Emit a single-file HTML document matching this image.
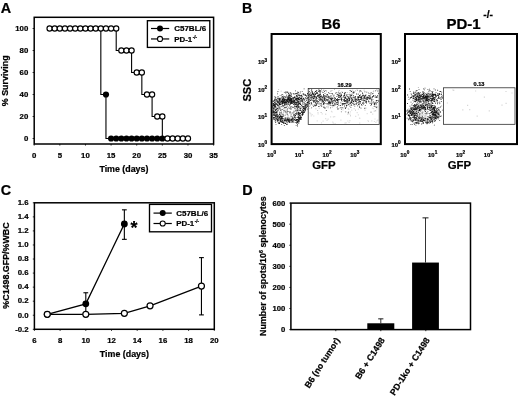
<!DOCTYPE html>
<html><head><meta charset="utf-8"><title>Figure</title>
<style>
html,body{margin:0;padding:0;background:#fff;}
body{width:520px;height:397px;overflow:hidden;font-family:"Liberation Sans",sans-serif;}
svg{display:block;filter:blur(0.3px);}
svg text{font-family:"Liberation Sans",sans-serif;font-weight:bold;fill:#000;stroke:#000;stroke-width:0.22px;}
</style></head><body>
<svg width="520" height="397" viewBox="0 0 520 397">
<rect width="520" height="397" fill="#fff"/>
<text x="0.80" y="12.80" font-size="14.4" text-anchor="start" >A</text>
<rect x="34.2" y="17.3" width="179.39999999999998" height="126.7" fill="none" stroke="#000" stroke-width="1.5"/>
<line x1="32.6" y1="138.50" x2="34.2" y2="138.50" stroke="#000" stroke-width="0.8"/>
<text x="28.30" y="141.00" font-size="7.8" text-anchor="end" >0</text>
<line x1="32.6" y1="116.50" x2="34.2" y2="116.50" stroke="#000" stroke-width="0.8"/>
<text x="28.30" y="119.00" font-size="7.8" text-anchor="end" >20</text>
<line x1="32.6" y1="94.50" x2="34.2" y2="94.50" stroke="#000" stroke-width="0.8"/>
<text x="28.30" y="97.00" font-size="7.8" text-anchor="end" >40</text>
<line x1="32.6" y1="72.50" x2="34.2" y2="72.50" stroke="#000" stroke-width="0.8"/>
<text x="28.30" y="75.00" font-size="7.8" text-anchor="end" >60</text>
<line x1="32.6" y1="50.50" x2="34.2" y2="50.50" stroke="#000" stroke-width="0.8"/>
<text x="28.30" y="53.00" font-size="7.8" text-anchor="end" >80</text>
<line x1="32.6" y1="28.50" x2="34.2" y2="28.50" stroke="#000" stroke-width="0.8"/>
<text x="28.30" y="31.00" font-size="7.8" text-anchor="end" >100</text>
<line x1="34.20" y1="144.0" x2="34.20" y2="145.6" stroke="#000" stroke-width="0.8"/>
<text x="34.20" y="157.70" font-size="7.8" text-anchor="middle" >0</text>
<line x1="59.83" y1="144.0" x2="59.83" y2="145.6" stroke="#000" stroke-width="0.8"/>
<text x="59.83" y="157.70" font-size="7.8" text-anchor="middle" >5</text>
<line x1="85.46" y1="144.0" x2="85.46" y2="145.6" stroke="#000" stroke-width="0.8"/>
<text x="85.46" y="157.70" font-size="7.8" text-anchor="middle" >10</text>
<line x1="111.09" y1="144.0" x2="111.09" y2="145.6" stroke="#000" stroke-width="0.8"/>
<text x="111.09" y="157.70" font-size="7.8" text-anchor="middle" >15</text>
<line x1="136.71" y1="144.0" x2="136.71" y2="145.6" stroke="#000" stroke-width="0.8"/>
<text x="136.71" y="157.70" font-size="7.8" text-anchor="middle" >20</text>
<line x1="162.34" y1="144.0" x2="162.34" y2="145.6" stroke="#000" stroke-width="0.8"/>
<text x="162.34" y="157.70" font-size="7.8" text-anchor="middle" >25</text>
<line x1="187.97" y1="144.0" x2="187.97" y2="145.6" stroke="#000" stroke-width="0.8"/>
<text x="187.97" y="157.70" font-size="7.8" text-anchor="middle" >30</text>
<line x1="213.60" y1="144.0" x2="213.60" y2="145.6" stroke="#000" stroke-width="0.8"/>
<text x="213.60" y="157.70" font-size="7.8" text-anchor="middle" >35</text>
<text x="123.90" y="171.70" font-size="8.85" text-anchor="middle" >Time (days)</text>
<text transform="translate(8.2,80.8) rotate(-90)" font-size="8.9" text-anchor="middle">% Surviving</text>
<polyline fill="none" stroke="#000" stroke-width="1.1" points="49.58,28.50 100.83,28.50 100.83,94.50 105.96,94.50 105.96,138.50 162.34,138.50"/>
<circle cx="105.96" cy="94.50" r="3.1" fill="#000"/>
<circle cx="111.09" cy="138.50" r="3.1" fill="#000"/>
<circle cx="116.21" cy="138.50" r="3.1" fill="#000"/>
<circle cx="121.34" cy="138.50" r="3.1" fill="#000"/>
<circle cx="126.46" cy="138.50" r="3.1" fill="#000"/>
<circle cx="131.59" cy="138.50" r="3.1" fill="#000"/>
<circle cx="136.71" cy="138.50" r="3.1" fill="#000"/>
<circle cx="141.84" cy="138.50" r="3.1" fill="#000"/>
<circle cx="146.97" cy="138.50" r="3.1" fill="#000"/>
<circle cx="152.09" cy="138.50" r="3.1" fill="#000"/>
<circle cx="157.22" cy="138.50" r="3.1" fill="#000"/>
<circle cx="162.34" cy="138.50" r="3.1" fill="#000"/>
<polyline fill="none" stroke="#000" stroke-width="1.1" points="49.58,28.50 116.21,28.50 116.21,50.50 131.59,50.50 131.59,72.50 141.84,72.50 141.84,94.50 152.09,94.50 152.09,116.50 162.34,116.50 162.34,138.50 187.97,138.50"/>
<circle cx="49.58" cy="28.50" r="2.6" fill="#fff" stroke="#000" stroke-width="1.15"/>
<circle cx="54.70" cy="28.50" r="2.6" fill="#fff" stroke="#000" stroke-width="1.15"/>
<circle cx="59.83" cy="28.50" r="2.6" fill="#fff" stroke="#000" stroke-width="1.15"/>
<circle cx="64.95" cy="28.50" r="2.6" fill="#fff" stroke="#000" stroke-width="1.15"/>
<circle cx="70.08" cy="28.50" r="2.6" fill="#fff" stroke="#000" stroke-width="1.15"/>
<circle cx="75.21" cy="28.50" r="2.6" fill="#fff" stroke="#000" stroke-width="1.15"/>
<circle cx="80.33" cy="28.50" r="2.6" fill="#fff" stroke="#000" stroke-width="1.15"/>
<circle cx="85.46" cy="28.50" r="2.6" fill="#fff" stroke="#000" stroke-width="1.15"/>
<circle cx="90.58" cy="28.50" r="2.6" fill="#fff" stroke="#000" stroke-width="1.15"/>
<circle cx="95.71" cy="28.50" r="2.6" fill="#fff" stroke="#000" stroke-width="1.15"/>
<circle cx="100.83" cy="28.50" r="2.6" fill="#fff" stroke="#000" stroke-width="1.15"/>
<circle cx="105.96" cy="28.50" r="2.6" fill="#fff" stroke="#000" stroke-width="1.15"/>
<circle cx="111.09" cy="28.50" r="2.6" fill="#fff" stroke="#000" stroke-width="1.15"/>
<circle cx="116.21" cy="28.50" r="2.6" fill="#fff" stroke="#000" stroke-width="1.15"/>
<circle cx="121.34" cy="50.50" r="2.6" fill="#fff" stroke="#000" stroke-width="1.15"/>
<circle cx="126.46" cy="50.50" r="2.6" fill="#fff" stroke="#000" stroke-width="1.15"/>
<circle cx="131.59" cy="50.50" r="2.6" fill="#fff" stroke="#000" stroke-width="1.15"/>
<circle cx="136.71" cy="72.50" r="2.6" fill="#fff" stroke="#000" stroke-width="1.15"/>
<circle cx="141.84" cy="72.50" r="2.6" fill="#fff" stroke="#000" stroke-width="1.15"/>
<circle cx="146.97" cy="94.50" r="2.6" fill="#fff" stroke="#000" stroke-width="1.15"/>
<circle cx="152.09" cy="94.50" r="2.6" fill="#fff" stroke="#000" stroke-width="1.15"/>
<circle cx="157.22" cy="116.50" r="2.6" fill="#fff" stroke="#000" stroke-width="1.15"/>
<circle cx="162.34" cy="116.50" r="2.6" fill="#fff" stroke="#000" stroke-width="1.15"/>
<circle cx="167.47" cy="138.50" r="2.6" fill="#fff" stroke="#000" stroke-width="1.15"/>
<circle cx="172.59" cy="138.50" r="2.6" fill="#fff" stroke="#000" stroke-width="1.15"/>
<circle cx="177.72" cy="138.50" r="2.6" fill="#fff" stroke="#000" stroke-width="1.15"/>
<circle cx="182.85" cy="138.50" r="2.6" fill="#fff" stroke="#000" stroke-width="1.15"/>
<circle cx="187.97" cy="138.50" r="2.6" fill="#fff" stroke="#000" stroke-width="1.15"/>
<rect x="147.4" y="20.7" width="62.400000000000006" height="26.7" fill="#fff" stroke="#000" stroke-width="1.35"/>
<line x1="151" y1="28.5" x2="169.2" y2="28.5" stroke="#000" stroke-width="1.2"/>
<circle cx="160" cy="28.5" r="3" fill="#000"/>
<line x1="151" y1="38.95" x2="169.2" y2="38.95" stroke="#000" stroke-width="1.2"/>
<circle cx="160" cy="38.95" r="2.55" fill="#fff" stroke="#000" stroke-width="1.1"/>
<text x="174.20" y="31.40" font-size="8.0" text-anchor="start" >C57BL/6</text>
<text x="174.2" y="41.75" font-size="7.9">PD-1<tspan dy="-3.2" dx="0.5" font-size="4.8">-/-</tspan></text>
<text x="0.80" y="195.30" font-size="14.4" text-anchor="start" >C</text>
<rect x="34.4" y="202.8" width="179.9" height="126.5" fill="none" stroke="#000" stroke-width="1.5"/>
<line x1="32.8" y1="329.30" x2="34.4" y2="329.30" stroke="#000" stroke-width="0.8"/>
<text x="28.60" y="331.60" font-size="7.8" text-anchor="end" >-0.2</text>
<line x1="32.8" y1="315.24" x2="34.4" y2="315.24" stroke="#000" stroke-width="0.8"/>
<text x="28.60" y="317.54" font-size="7.8" text-anchor="end" >0.0</text>
<line x1="32.8" y1="301.19" x2="34.4" y2="301.19" stroke="#000" stroke-width="0.8"/>
<text x="28.60" y="303.49" font-size="7.8" text-anchor="end" >0.2</text>
<line x1="32.8" y1="287.13" x2="34.4" y2="287.13" stroke="#000" stroke-width="0.8"/>
<text x="28.60" y="289.43" font-size="7.8" text-anchor="end" >0.4</text>
<line x1="32.8" y1="273.08" x2="34.4" y2="273.08" stroke="#000" stroke-width="0.8"/>
<text x="28.60" y="275.38" font-size="7.8" text-anchor="end" >0.6</text>
<line x1="32.8" y1="259.02" x2="34.4" y2="259.02" stroke="#000" stroke-width="0.8"/>
<text x="28.60" y="261.32" font-size="7.8" text-anchor="end" >0.8</text>
<line x1="32.8" y1="244.97" x2="34.4" y2="244.97" stroke="#000" stroke-width="0.8"/>
<text x="28.60" y="247.27" font-size="7.8" text-anchor="end" >1.0</text>
<line x1="32.8" y1="230.91" x2="34.4" y2="230.91" stroke="#000" stroke-width="0.8"/>
<text x="28.60" y="233.21" font-size="7.8" text-anchor="end" >1.2</text>
<line x1="32.8" y1="216.86" x2="34.4" y2="216.86" stroke="#000" stroke-width="0.8"/>
<text x="28.60" y="219.16" font-size="7.8" text-anchor="end" >1.4</text>
<line x1="32.8" y1="202.80" x2="34.4" y2="202.80" stroke="#000" stroke-width="0.8"/>
<text x="28.60" y="205.10" font-size="7.8" text-anchor="end" >1.6</text>
<line x1="34.40" y1="329.3" x2="34.40" y2="330.90000000000003" stroke="#000" stroke-width="0.8"/>
<text x="34.40" y="342.50" font-size="7.8" text-anchor="middle" >6</text>
<line x1="60.10" y1="329.3" x2="60.10" y2="330.90000000000003" stroke="#000" stroke-width="0.8"/>
<text x="60.10" y="342.50" font-size="7.8" text-anchor="middle" >8</text>
<line x1="85.80" y1="329.3" x2="85.80" y2="330.90000000000003" stroke="#000" stroke-width="0.8"/>
<text x="85.80" y="342.50" font-size="7.8" text-anchor="middle" >10</text>
<line x1="111.50" y1="329.3" x2="111.50" y2="330.90000000000003" stroke="#000" stroke-width="0.8"/>
<text x="111.50" y="342.50" font-size="7.8" text-anchor="middle" >12</text>
<line x1="137.20" y1="329.3" x2="137.20" y2="330.90000000000003" stroke="#000" stroke-width="0.8"/>
<text x="137.20" y="342.50" font-size="7.8" text-anchor="middle" >14</text>
<line x1="162.90" y1="329.3" x2="162.90" y2="330.90000000000003" stroke="#000" stroke-width="0.8"/>
<text x="162.90" y="342.50" font-size="7.8" text-anchor="middle" >16</text>
<line x1="188.60" y1="329.3" x2="188.60" y2="330.90000000000003" stroke="#000" stroke-width="0.8"/>
<text x="188.60" y="342.50" font-size="7.8" text-anchor="middle" >18</text>
<line x1="214.30" y1="329.3" x2="214.30" y2="330.90000000000003" stroke="#000" stroke-width="0.8"/>
<text x="214.30" y="342.50" font-size="7.8" text-anchor="middle" >20</text>
<text x="124.35" y="357.00" font-size="8.85" text-anchor="middle" >Time (days)</text>
<text transform="translate(9.3,265.5) rotate(-90)" font-size="8.9" text-anchor="middle">%C1498.GFP/%WBC</text>
<polyline fill="none" stroke="#000" stroke-width="1.25" points="47.25,314.33 85.80,303.86 124.35,223.88"/>
<line x1="85.80" y1="315.24" x2="85.80" y2="292.76" stroke="#000" stroke-width="1.1"/>
<line x1="83.40" y1="315.24" x2="88.20" y2="315.24" stroke="#000" stroke-width="1.1"/>
<line x1="83.40" y1="292.76" x2="88.20" y2="292.76" stroke="#000" stroke-width="1.1"/>
<line x1="124.35" y1="239.34" x2="124.35" y2="209.83" stroke="#000" stroke-width="1.1"/>
<line x1="121.95" y1="239.34" x2="126.75" y2="239.34" stroke="#000" stroke-width="1.1"/>
<line x1="121.95" y1="209.83" x2="126.75" y2="209.83" stroke="#000" stroke-width="1.1"/>
<circle cx="47.25" cy="314.33" r="3.4" fill="#000"/>
<circle cx="85.80" cy="303.86" r="3.4" fill="#000"/>
<circle cx="124.35" cy="223.88" r="3.4" fill="#000"/>
<polyline fill="none" stroke="#000" stroke-width="1.25" points="47.25,314.33 85.80,314.33 124.35,313.28 150.05,305.83 201.45,286.08"/>
<line x1="201.45" y1="314.89" x2="201.45" y2="257.62" stroke="#000" stroke-width="1.1"/>
<line x1="199.05" y1="314.89" x2="203.85" y2="314.89" stroke="#000" stroke-width="1.1"/>
<line x1="199.05" y1="257.62" x2="203.85" y2="257.62" stroke="#000" stroke-width="1.1"/>
<circle cx="47.25" cy="314.33" r="3.0" fill="#fff" stroke="#000" stroke-width="1.2"/>
<circle cx="85.80" cy="314.33" r="3.0" fill="#fff" stroke="#000" stroke-width="1.2"/>
<circle cx="124.35" cy="313.28" r="3.0" fill="#fff" stroke="#000" stroke-width="1.2"/>
<circle cx="150.05" cy="305.83" r="3.0" fill="#fff" stroke="#000" stroke-width="1.2"/>
<circle cx="201.45" cy="286.08" r="3.0" fill="#fff" stroke="#000" stroke-width="1.2"/>
<text x="130.40" y="233.60" font-size="18" text-anchor="start" stroke="none">*</text>
<rect x="149.5" y="204.4" width="62.0" height="27.400000000000006" fill="#fff" stroke="#000" stroke-width="1.35"/>
<line x1="153.5" y1="213.1" x2="171.8" y2="213.1" stroke="#000" stroke-width="1.2"/>
<circle cx="162.7" cy="213.1" r="3" fill="#000"/>
<line x1="153.5" y1="223.5" x2="171.8" y2="223.5" stroke="#000" stroke-width="1.2"/>
<circle cx="162.7" cy="223.5" r="2.55" fill="#fff" stroke="#000" stroke-width="1.1"/>
<text x="176.20" y="216.00" font-size="8.0" text-anchor="start" >C57BL/6</text>
<text x="176.2" y="226.3" font-size="7.9">PD-1<tspan dy="-3.2" dx="0.5" font-size="4.8">-/-</tspan></text>
<text x="241.90" y="12.80" font-size="14.2" text-anchor="start" >B</text>
<rect x="271.6" y="34.0" width="109.19999999999999" height="110.1" fill="none" stroke="#000" stroke-width="2.0"/>
<text x="331" y="28.8" font-size="14.9" text-anchor="middle" stroke="none">B6</text>
<text x="258.00" y="146.80" font-size="5.9" stroke-width="0.15">10<tspan dy="-2.8" font-size="4.7">0</tspan></text>
<text x="266.90" y="156.50" font-size="5.9" stroke-width="0.15">10<tspan dy="-2.8" font-size="4.7">0</tspan></text>
<text x="258.00" y="119.30" font-size="5.9" stroke-width="0.15">10<tspan dy="-2.8" font-size="4.7">1</tspan></text>
<text x="294.70" y="156.50" font-size="5.9" stroke-width="0.15">10<tspan dy="-2.8" font-size="4.7">1</tspan></text>
<text x="258.00" y="91.80" font-size="5.9" stroke-width="0.15">10<tspan dy="-2.8" font-size="4.7">2</tspan></text>
<text x="322.50" y="156.50" font-size="5.9" stroke-width="0.15">10<tspan dy="-2.8" font-size="4.7">2</tspan></text>
<text x="258.00" y="64.30" font-size="5.9" stroke-width="0.15">10<tspan dy="-2.8" font-size="4.7">3</tspan></text>
<text x="350.30" y="156.50" font-size="5.9" stroke-width="0.15">10<tspan dy="-2.8" font-size="4.7">3</tspan></text>
<rect x="308.2" y="88.6" width="71.0" height="36.0" fill="none" stroke="#222" stroke-width="0.75"/>
<text x="344.50" y="86.60" font-size="5.6" text-anchor="middle" stroke-width="0.15">16.29</text>
<text x="323.90" y="169.20" font-size="11.4" text-anchor="middle" stroke="none">GFP</text>
<rect x="405.0" y="34.0" width="112.0" height="110.1" fill="none" stroke="#000" stroke-width="2.0"/>
<text x="446.4" y="28.6" font-size="15" stroke="none">PD-1<tspan dy="-10.2" dx="2.6" font-size="10.4">-/-</tspan></text>
<text x="391.40" y="146.80" font-size="5.9" stroke-width="0.15">10<tspan dy="-2.8" font-size="4.7">0</tspan></text>
<text x="400.30" y="156.50" font-size="5.9" stroke-width="0.15">10<tspan dy="-2.8" font-size="4.7">0</tspan></text>
<text x="391.40" y="119.30" font-size="5.9" stroke-width="0.15">10<tspan dy="-2.8" font-size="4.7">1</tspan></text>
<text x="428.10" y="156.50" font-size="5.9" stroke-width="0.15">10<tspan dy="-2.8" font-size="4.7">1</tspan></text>
<text x="391.40" y="91.80" font-size="5.9" stroke-width="0.15">10<tspan dy="-2.8" font-size="4.7">2</tspan></text>
<text x="455.90" y="156.50" font-size="5.9" stroke-width="0.15">10<tspan dy="-2.8" font-size="4.7">2</tspan></text>
<text x="391.40" y="64.30" font-size="5.9" stroke-width="0.15">10<tspan dy="-2.8" font-size="4.7">3</tspan></text>
<text x="483.70" y="156.50" font-size="5.9" stroke-width="0.15">10<tspan dy="-2.8" font-size="4.7">3</tspan></text>
<rect x="443.6" y="87.8" width="71.39999999999998" height="36.5" fill="none" stroke="#222" stroke-width="0.75"/>
<text x="479.00" y="85.80" font-size="5.6" text-anchor="middle" stroke-width="0.15">0.13</text>
<text x="459.40" y="169.20" font-size="11.4" text-anchor="middle" stroke="none">GFP</text>
<text transform="translate(251.3,90.2) rotate(-90)" font-size="11" text-anchor="middle" stroke="none">SSC</text>
<path d="M287.5 100.9h0.8v0.8h-0.8zM287.9 98.1h0.8v0.8h-0.8zM279.4 99.3h0.8v0.8h-0.8zM303.9 99.0h0.8v0.8h-0.8zM293.6 99.9h0.8v0.8h-0.8zM292.8 93.0h0.8v0.8h-0.8zM300.9 99.6h0.8v0.8h-0.8zM279.9 98.4h0.8v0.8h-0.8zM294.3 98.4h0.8v0.8h-0.8zM296.9 96.1h0.8v0.8h-0.8zM294.3 99.9h0.8v0.8h-0.8zM282.7 105.5h0.8v0.8h-0.8zM297.3 102.3h0.8v0.8h-0.8zM283.2 97.1h0.8v0.8h-0.8zM286.5 99.0h0.8v0.8h-0.8zM298.2 99.0h0.8v0.8h-0.8zM279.1 98.3h0.8v0.8h-0.8zM305.3 94.7h0.8v0.8h-0.8zM295.7 93.3h0.8v0.8h-0.8zM291.2 103.3h0.8v0.8h-0.8zM289.3 96.2h0.8v0.8h-0.8zM296.6 98.1h0.8v0.8h-0.8zM273.0 103.5h0.8v0.8h-0.8zM298.6 101.3h0.8v0.8h-0.8zM294.9 98.9h0.8v0.8h-0.8zM275.0 102.6h0.8v0.8h-0.8zM283.3 98.1h0.8v0.8h-0.8zM275.4 97.1h0.8v0.8h-0.8zM284.2 103.9h0.8v0.8h-0.8zM293.5 103.5h0.8v0.8h-0.8zM297.5 91.7h0.8v0.8h-0.8zM281.8 96.0h0.8v0.8h-0.8zM302.3 101.5h0.8v0.8h-0.8zM293.5 100.1h0.8v0.8h-0.8zM296.8 100.1h0.8v0.8h-0.8zM302.1 99.6h0.8v0.8h-0.8zM283.0 102.5h0.8v0.8h-0.8zM302.8 93.2h0.8v0.8h-0.8zM297.2 97.7h0.8v0.8h-0.8zM294.5 100.7h0.8v0.8h-0.8zM292.0 102.7h0.8v0.8h-0.8zM282.7 98.3h0.8v0.8h-0.8zM303.1 97.7h0.8v0.8h-0.8zM302.0 102.7h0.8v0.8h-0.8zM274.0 100.1h0.8v0.8h-0.8zM288.8 98.1h0.8v0.8h-0.8zM307.5 93.7h0.8v0.8h-0.8zM275.4 97.7h0.8v0.8h-0.8zM298.2 102.0h0.8v0.8h-0.8zM294.7 99.0h0.8v0.8h-0.8zM292.4 100.7h0.8v0.8h-0.8zM288.5 100.1h0.8v0.8h-0.8zM297.5 98.2h0.8v0.8h-0.8zM299.8 99.9h0.8v0.8h-0.8zM294.5 97.1h0.8v0.8h-0.8zM286.1 99.3h0.8v0.8h-0.8zM301.7 96.6h0.8v0.8h-0.8zM277.1 101.1h0.8v0.8h-0.8zM295.4 99.2h0.8v0.8h-0.8zM285.4 101.6h0.8v0.8h-0.8zM294.0 96.8h0.8v0.8h-0.8zM283.9 99.2h0.8v0.8h-0.8zM287.9 99.0h0.8v0.8h-0.8zM302.7 93.7h0.8v0.8h-0.8zM302.0 100.7h0.8v0.8h-0.8zM286.5 101.4h0.8v0.8h-0.8zM303.7 88.5h0.8v0.8h-0.8zM273.2 103.0h0.8v0.8h-0.8zM272.7 101.3h0.8v0.8h-0.8zM304.9 97.0h0.8v0.8h-0.8zM300.2 98.4h0.8v0.8h-0.8zM287.1 108.6h0.8v0.8h-0.8zM276.8 103.4h0.8v0.8h-0.8zM287.4 99.7h0.8v0.8h-0.8zM299.1 98.8h0.8v0.8h-0.8zM298.0 94.9h0.8v0.8h-0.8zM273.0 105.0h0.8v0.8h-0.8zM299.6 103.0h0.8v0.8h-0.8zM290.6 95.0h0.8v0.8h-0.8zM299.8 103.4h0.8v0.8h-0.8zM288.5 92.4h0.8v0.8h-0.8zM307.5 96.9h0.8v0.8h-0.8zM295.4 99.8h0.8v0.8h-0.8zM304.2 102.6h0.8v0.8h-0.8zM288.4 96.6h0.8v0.8h-0.8zM302.8 98.1h0.8v0.8h-0.8zM294.4 96.4h0.8v0.8h-0.8zM290.5 101.7h0.8v0.8h-0.8zM291.5 103.3h0.8v0.8h-0.8zM289.9 102.5h0.8v0.8h-0.8zM282.5 102.7h0.8v0.8h-0.8zM275.8 100.3h0.8v0.8h-0.8zM288.3 99.0h0.8v0.8h-0.8zM283.5 100.4h0.8v0.8h-0.8zM297.0 101.7h0.8v0.8h-0.8zM288.2 94.9h0.8v0.8h-0.8zM283.9 103.2h0.8v0.8h-0.8zM302.7 100.4h0.8v0.8h-0.8zM300.3 98.5h0.8v0.8h-0.8zM301.7 95.9h0.8v0.8h-0.8zM281.3 94.6h0.8v0.8h-0.8zM289.2 95.0h0.8v0.8h-0.8zM295.0 90.4h0.8v0.8h-0.8zM294.5 96.3h0.8v0.8h-0.8zM287.3 91.6h0.8v0.8h-0.8zM280.1 100.9h0.8v0.8h-0.8zM285.1 102.1h0.8v0.8h-0.8zM299.6 100.3h0.8v0.8h-0.8zM306.6 99.5h0.8v0.8h-0.8zM306.3 96.3h0.8v0.8h-0.8zM296.2 106.6h0.8v0.8h-0.8zM279.5 102.4h0.8v0.8h-0.8zM297.3 101.3h0.8v0.8h-0.8zM279.7 99.7h0.8v0.8h-0.8zM294.1 101.4h0.8v0.8h-0.8zM290.2 98.3h0.8v0.8h-0.8zM278.4 98.9h0.8v0.8h-0.8zM301.3 98.2h0.8v0.8h-0.8zM280.5 109.0h0.8v0.8h-0.8zM304.3 99.7h0.8v0.8h-0.8zM298.1 99.8h0.8v0.8h-0.8zM295.7 98.2h0.8v0.8h-0.8zM296.9 91.7h0.8v0.8h-0.8zM303.0 98.8h0.8v0.8h-0.8zM306.5 103.5h0.8v0.8h-0.8zM282.6 100.7h0.8v0.8h-0.8zM292.8 97.3h0.8v0.8h-0.8zM278.9 107.3h0.8v0.8h-0.8zM303.0 93.6h0.8v0.8h-0.8zM280.1 100.8h0.8v0.8h-0.8zM289.9 100.7h0.8v0.8h-0.8zM281.9 99.4h0.8v0.8h-0.8zM296.1 99.6h0.8v0.8h-0.8zM298.3 98.8h0.8v0.8h-0.8zM300.1 98.1h0.8v0.8h-0.8zM283.1 99.6h0.8v0.8h-0.8zM289.3 99.6h0.8v0.8h-0.8zM290.6 99.5h0.8v0.8h-0.8zM289.0 94.8h0.8v0.8h-0.8zM295.7 102.0h0.8v0.8h-0.8zM295.8 97.7h0.8v0.8h-0.8zM296.0 95.1h0.8v0.8h-0.8zM279.4 102.5h0.8v0.8h-0.8zM277.6 91.3h0.8v0.8h-0.8zM278.1 105.5h0.8v0.8h-0.8zM286.0 94.7h0.8v0.8h-0.8zM281.4 101.6h0.8v0.8h-0.8zM296.6 98.9h0.8v0.8h-0.8zM290.3 101.0h0.8v0.8h-0.8zM302.9 94.0h0.8v0.8h-0.8zM299.4 97.0h0.8v0.8h-0.8zM297.8 101.3h0.8v0.8h-0.8zM288.0 99.5h0.8v0.8h-0.8zM301.1 101.2h0.8v0.8h-0.8zM276.6 100.9h0.8v0.8h-0.8zM294.9 102.3h0.8v0.8h-0.8zM300.0 98.0h0.8v0.8h-0.8zM297.1 99.0h0.8v0.8h-0.8zM291.3 98.0h0.8v0.8h-0.8zM298.8 94.5h0.8v0.8h-0.8zM290.7 93.9h0.8v0.8h-0.8zM285.4 92.6h0.8v0.8h-0.8zM282.4 101.7h0.8v0.8h-0.8zM297.4 98.0h0.8v0.8h-0.8zM287.8 94.4h0.8v0.8h-0.8zM303.7 94.6h0.8v0.8h-0.8zM301.8 91.3h0.8v0.8h-0.8zM298.2 92.2h0.8v0.8h-0.8zM277.8 98.0h0.8v0.8h-0.8zM273.8 100.7h0.8v0.8h-0.8zM293.6 100.8h0.8v0.8h-0.8zM299.0 103.2h0.8v0.8h-0.8zM274.9 98.8h0.8v0.8h-0.8zM277.9 96.5h0.8v0.8h-0.8zM289.6 99.0h0.8v0.8h-0.8zM296.5 92.9h0.8v0.8h-0.8zM275.7 100.3h0.8v0.8h-0.8zM288.2 98.1h0.8v0.8h-0.8zM289.8 96.4h0.8v0.8h-0.8zM299.0 99.3h0.8v0.8h-0.8zM282.5 99.1h0.8v0.8h-0.8zM291.0 93.7h0.8v0.8h-0.8zM293.0 99.2h0.8v0.8h-0.8zM274.1 99.7h0.8v0.8h-0.8zM286.8 100.8h0.8v0.8h-0.8zM297.9 98.0h0.8v0.8h-0.8zM288.9 98.9h0.8v0.8h-0.8zM299.4 99.0h0.8v0.8h-0.8zM274.3 99.3h0.8v0.8h-0.8zM281.7 96.0h0.8v0.8h-0.8zM289.2 97.4h0.8v0.8h-0.8zM291.9 100.6h0.8v0.8h-0.8zM285.6 107.3h0.8v0.8h-0.8zM286.7 103.0h0.8v0.8h-0.8zM292.1 102.5h0.8v0.8h-0.8zM293.6 100.7h0.8v0.8h-0.8zM306.0 100.0h0.8v0.8h-0.8zM296.7 97.8h0.8v0.8h-0.8zM296.7 94.6h0.8v0.8h-0.8zM304.8 94.0h0.8v0.8h-0.8zM290.8 102.8h0.8v0.8h-0.8zM290.9 96.1h0.8v0.8h-0.8zM293.7 100.6h0.8v0.8h-0.8zM299.1 95.4h0.8v0.8h-0.8zM293.8 97.1h0.8v0.8h-0.8zM307.6 94.8h0.8v0.8h-0.8zM284.8 97.1h0.8v0.8h-0.8zM299.2 102.6h0.8v0.8h-0.8zM282.5 102.5h0.8v0.8h-0.8zM290.0 100.0h0.8v0.8h-0.8zM284.4 107.3h0.8v0.8h-0.8zM290.6 101.6h0.8v0.8h-0.8zM282.8 99.5h0.8v0.8h-0.8zM307.0 93.1h0.8v0.8h-0.8zM285.1 99.2h0.8v0.8h-0.8zM286.8 98.9h0.8v0.8h-0.8zM277.5 100.3h0.8v0.8h-0.8zM273.3 100.4h0.8v0.8h-0.8zM294.3 100.1h0.8v0.8h-0.8zM287.8 96.1h0.8v0.8h-0.8zM292.5 97.1h0.8v0.8h-0.8zM289.2 97.4h0.8v0.8h-0.8zM282.2 96.6h0.8v0.8h-0.8zM286.4 100.3h0.8v0.8h-0.8zM296.8 100.2h0.8v0.8h-0.8zM290.8 108.4h0.8v0.8h-0.8zM292.6 99.2h0.8v0.8h-0.8zM295.5 97.6h0.8v0.8h-0.8zM295.0 98.6h0.8v0.8h-0.8zM299.9 91.5h0.8v0.8h-0.8zM290.6 95.4h0.8v0.8h-0.8zM278.1 102.3h0.8v0.8h-0.8zM282.8 101.8h0.8v0.8h-0.8zM299.5 99.0h0.8v0.8h-0.8zM289.3 94.2h0.8v0.8h-0.8zM290.2 100.5h0.8v0.8h-0.8zM284.2 99.2h0.8v0.8h-0.8zM299.6 95.0h0.8v0.8h-0.8zM292.4 98.2h0.8v0.8h-0.8zM301.4 95.5h0.8v0.8h-0.8zM290.5 92.9h0.8v0.8h-0.8zM289.0 100.6h0.8v0.8h-0.8zM295.0 93.4h0.8v0.8h-0.8zM288.1 104.2h0.8v0.8h-0.8zM283.7 96.1h0.8v0.8h-0.8zM274.3 96.4h0.8v0.8h-0.8zM294.6 104.3h0.8v0.8h-0.8zM295.8 99.2h0.8v0.8h-0.8zM282.5 101.5h0.8v0.8h-0.8zM297.2 94.8h0.8v0.8h-0.8zM276.6 101.3h0.8v0.8h-0.8zM293.6 94.2h0.8v0.8h-0.8zM288.2 97.3h0.8v0.8h-0.8zM296.1 98.0h0.8v0.8h-0.8zM289.6 97.8h0.8v0.8h-0.8zM303.2 102.4h0.8v0.8h-0.8zM300.8 95.3h0.8v0.8h-0.8zM299.6 103.1h0.8v0.8h-0.8zM289.7 99.7h0.8v0.8h-0.8zM272.6 100.8h0.8v0.8h-0.8zM282.5 101.0h0.8v0.8h-0.8zM277.0 93.5h0.8v0.8h-0.8zM291.1 99.7h0.8v0.8h-0.8zM284.0 102.6h0.8v0.8h-0.8zM287.3 97.2h0.8v0.8h-0.8zM296.3 93.0h0.8v0.8h-0.8zM282.5 99.6h0.8v0.8h-0.8zM300.8 97.3h0.8v0.8h-0.8zM282.7 100.7h0.8v0.8h-0.8zM290.8 99.5h0.8v0.8h-0.8zM302.9 93.5h0.8v0.8h-0.8zM297.9 100.9h0.8v0.8h-0.8zM293.6 101.8h0.8v0.8h-0.8zM295.0 104.1h0.8v0.8h-0.8zM275.7 99.1h0.8v0.8h-0.8zM286.1 102.5h0.8v0.8h-0.8zM287.5 97.5h0.8v0.8h-0.8zM280.5 97.8h0.8v0.8h-0.8zM298.3 98.3h0.8v0.8h-0.8zM288.5 102.2h0.8v0.8h-0.8zM296.5 97.8h0.8v0.8h-0.8zM298.6 97.6h0.8v0.8h-0.8zM279.1 103.7h0.8v0.8h-0.8zM294.7 93.2h0.8v0.8h-0.8zM301.3 98.5h0.8v0.8h-0.8zM291.0 97.9h0.8v0.8h-0.8zM294.8 98.7h0.8v0.8h-0.8zM298.7 96.8h0.8v0.8h-0.8zM298.7 102.6h0.8v0.8h-0.8zM289.1 104.4h0.8v0.8h-0.8zM286.7 101.8h0.8v0.8h-0.8zM305.3 95.0h0.8v0.8h-0.8zM289.7 99.4h0.8v0.8h-0.8zM304.2 105.7h0.8v0.8h-0.8zM283.7 101.3h0.8v0.8h-0.8zM277.9 101.9h0.8v0.8h-0.8zM297.5 97.3h0.8v0.8h-0.8zM297.0 93.0h0.8v0.8h-0.8zM299.7 92.7h0.8v0.8h-0.8zM283.9 98.2h0.8v0.8h-0.8zM300.9 98.1h0.8v0.8h-0.8zM297.1 103.6h0.8v0.8h-0.8zM290.7 100.1h0.8v0.8h-0.8zM305.5 98.3h0.8v0.8h-0.8zM295.6 101.7h0.8v0.8h-0.8zM298.6 97.2h0.8v0.8h-0.8zM291.8 102.3h0.8v0.8h-0.8zM277.5 96.7h0.8v0.8h-0.8zM290.3 92.3h0.8v0.8h-0.8zM287.5 97.7h0.8v0.8h-0.8zM296.0 96.0h0.8v0.8h-0.8zM280.0 98.6h0.8v0.8h-0.8zM290.0 96.7h0.8v0.8h-0.8zM290.7 101.4h0.8v0.8h-0.8zM304.8 103.3h0.8v0.8h-0.8zM285.6 91.0h0.8v0.8h-0.8zM290.2 100.7h0.8v0.8h-0.8zM274.3 102.1h0.8v0.8h-0.8zM290.3 92.7h0.8v0.8h-0.8zM294.1 102.6h0.8v0.8h-0.8zM293.1 100.3h0.8v0.8h-0.8zM295.9 102.8h0.8v0.8h-0.8zM287.9 102.1h0.8v0.8h-0.8zM285.7 101.9h0.8v0.8h-0.8zM280.8 99.5h0.8v0.8h-0.8zM288.7 95.2h0.8v0.8h-0.8zM281.1 100.5h0.8v0.8h-0.8zM301.9 99.2h0.8v0.8h-0.8zM290.1 103.5h0.8v0.8h-0.8zM285.9 97.5h0.8v0.8h-0.8zM301.3 98.1h0.8v0.8h-0.8zM283.7 98.7h0.8v0.8h-0.8zM298.1 99.4h0.8v0.8h-0.8zM295.7 99.0h0.8v0.8h-0.8zM278.6 102.7h0.8v0.8h-0.8zM287.2 98.1h0.8v0.8h-0.8zM300.1 102.4h0.8v0.8h-0.8zM295.9 95.4h0.8v0.8h-0.8zM304.9 95.3h0.8v0.8h-0.8zM285.4 101.1h0.8v0.8h-0.8zM289.5 96.7h0.8v0.8h-0.8zM283.7 100.1h0.8v0.8h-0.8zM305.7 97.8h0.8v0.8h-0.8zM299.5 95.2h0.8v0.8h-0.8zM296.6 100.5h0.8v0.8h-0.8zM301.4 100.3h0.8v0.8h-0.8zM296.5 107.0h0.8v0.8h-0.8zM279.2 98.9h0.8v0.8h-0.8zM291.0 101.9h0.8v0.8h-0.8zM285.3 103.3h0.8v0.8h-0.8zM281.1 100.8h0.8v0.8h-0.8zM284.3 100.1h0.8v0.8h-0.8zM282.3 94.3h0.8v0.8h-0.8zM303.7 98.6h0.8v0.8h-0.8zM293.0 102.0h0.8v0.8h-0.8zM278.9 99.7h0.8v0.8h-0.8zM297.1 100.0h0.8v0.8h-0.8zM286.6 92.1h0.8v0.8h-0.8zM305.5 98.5h0.8v0.8h-0.8zM287.3 100.1h0.8v0.8h-0.8zM285.5 95.9h0.8v0.8h-0.8zM281.7 97.8h0.8v0.8h-0.8zM283.3 95.7h0.8v0.8h-0.8zM298.2 93.7h0.8v0.8h-0.8zM278.4 101.3h0.8v0.8h-0.8zM307.1 97.9h0.8v0.8h-0.8zM291.2 99.3h0.8v0.8h-0.8zM292.6 97.1h0.8v0.8h-0.8zM291.6 101.3h0.8v0.8h-0.8zM299.8 101.1h0.8v0.8h-0.8zM287.1 99.2h0.8v0.8h-0.8zM287.3 98.2h0.8v0.8h-0.8zM288.4 93.3h0.8v0.8h-0.8zM286.6 99.2h0.8v0.8h-0.8zM278.9 100.0h0.8v0.8h-0.8zM296.8 97.7h0.8v0.8h-0.8zM288.1 92.9h0.8v0.8h-0.8zM302.4 106.7h0.8v0.8h-0.8zM292.1 100.5h0.8v0.8h-0.8zM287.0 101.1h0.8v0.8h-0.8zM295.1 98.5h0.8v0.8h-0.8zM283.5 101.8h0.8v0.8h-0.8zM284.8 100.2h0.8v0.8h-0.8zM284.5 91.9h0.8v0.8h-0.8zM290.2 99.6h0.8v0.8h-0.8zM299.7 95.0h0.8v0.8h-0.8zM298.0 98.7h0.8v0.8h-0.8zM300.4 95.8h0.8v0.8h-0.8zM301.3 94.7h0.8v0.8h-0.8zM278.6 108.6h0.8v0.8h-0.8zM281.9 100.6h0.8v0.8h-0.8zM281.6 104.3h0.8v0.8h-0.8zM289.7 95.3h0.8v0.8h-0.8zM306.3 95.3h0.8v0.8h-0.8zM290.4 97.8h0.8v0.8h-0.8zM294.5 96.2h0.8v0.8h-0.8zM275.4 97.8h0.8v0.8h-0.8zM290.3 99.1h0.8v0.8h-0.8zM297.3 98.6h0.8v0.8h-0.8zM281.1 97.4h0.8v0.8h-0.8zM295.2 117.7h0.8v0.8h-0.8zM299.2 110.3h0.8v0.8h-0.8zM288.9 121.5h0.8v0.8h-0.8zM277.2 105.3h0.8v0.8h-0.8zM287.0 119.1h0.8v0.8h-0.8zM273.2 117.7h0.8v0.8h-0.8zM274.4 106.0h0.8v0.8h-0.8zM276.5 99.5h0.8v0.8h-0.8zM277.0 115.3h0.8v0.8h-0.8zM299.6 106.0h0.8v0.8h-0.8zM273.1 109.6h0.8v0.8h-0.8zM282.3 118.9h0.8v0.8h-0.8zM288.6 120.5h0.8v0.8h-0.8zM279.6 119.6h0.8v0.8h-0.8zM284.1 101.8h0.8v0.8h-0.8zM285.4 119.9h0.8v0.8h-0.8zM299.6 107.8h0.8v0.8h-0.8zM285.8 120.4h0.8v0.8h-0.8zM286.4 104.1h0.8v0.8h-0.8zM296.3 102.7h0.8v0.8h-0.8zM276.3 113.6h0.8v0.8h-0.8zM289.5 119.6h0.8v0.8h-0.8zM297.2 121.1h0.8v0.8h-0.8zM277.4 121.0h0.8v0.8h-0.8zM298.2 111.8h0.8v0.8h-0.8zM276.7 119.3h0.8v0.8h-0.8zM293.3 114.4h0.8v0.8h-0.8zM298.4 118.2h0.8v0.8h-0.8zM277.2 101.9h0.8v0.8h-0.8zM287.2 99.1h0.8v0.8h-0.8zM280.4 120.9h0.8v0.8h-0.8zM283.9 120.6h0.8v0.8h-0.8zM276.0 119.5h0.8v0.8h-0.8zM298.7 112.0h0.8v0.8h-0.8zM278.3 119.8h0.8v0.8h-0.8zM273.3 107.5h0.8v0.8h-0.8zM291.8 101.2h0.8v0.8h-0.8zM300.1 110.2h0.8v0.8h-0.8zM272.5 110.7h0.8v0.8h-0.8zM277.7 120.4h0.8v0.8h-0.8zM284.0 119.7h0.8v0.8h-0.8zM279.4 104.1h0.8v0.8h-0.8zM275.4 116.6h0.8v0.8h-0.8zM296.1 103.7h0.8v0.8h-0.8zM290.8 121.9h0.8v0.8h-0.8zM278.3 116.4h0.8v0.8h-0.8zM287.5 117.5h0.8v0.8h-0.8zM279.5 118.1h0.8v0.8h-0.8zM293.1 119.6h0.8v0.8h-0.8zM294.1 104.8h0.8v0.8h-0.8zM290.8 118.9h0.8v0.8h-0.8zM291.5 115.9h0.8v0.8h-0.8zM286.8 119.5h0.8v0.8h-0.8zM280.6 119.2h0.8v0.8h-0.8zM300.4 118.4h0.8v0.8h-0.8zM285.1 98.8h0.8v0.8h-0.8zM299.2 118.2h0.8v0.8h-0.8zM275.8 116.5h0.8v0.8h-0.8zM274.1 117.0h0.8v0.8h-0.8zM276.4 114.6h0.8v0.8h-0.8zM280.8 121.3h0.8v0.8h-0.8zM276.7 101.6h0.8v0.8h-0.8zM276.6 114.3h0.8v0.8h-0.8zM288.6 101.1h0.8v0.8h-0.8zM277.3 108.1h0.8v0.8h-0.8zM275.8 115.6h0.8v0.8h-0.8zM289.1 117.8h0.8v0.8h-0.8zM277.1 120.0h0.8v0.8h-0.8zM284.2 122.4h0.8v0.8h-0.8zM275.0 115.2h0.8v0.8h-0.8zM278.5 118.9h0.8v0.8h-0.8zM273.5 118.6h0.8v0.8h-0.8zM273.0 112.3h0.8v0.8h-0.8zM275.2 122.3h0.8v0.8h-0.8zM275.0 112.0h0.8v0.8h-0.8zM292.9 101.3h0.8v0.8h-0.8zM293.5 102.5h0.8v0.8h-0.8zM273.9 115.3h0.8v0.8h-0.8zM284.2 119.7h0.8v0.8h-0.8zM272.6 115.5h0.8v0.8h-0.8zM277.3 98.4h0.8v0.8h-0.8zM279.2 103.5h0.8v0.8h-0.8zM278.8 100.7h0.8v0.8h-0.8zM288.0 121.2h0.8v0.8h-0.8zM277.3 121.0h0.8v0.8h-0.8zM276.1 108.4h0.8v0.8h-0.8zM276.2 113.5h0.8v0.8h-0.8zM287.8 120.0h0.8v0.8h-0.8zM274.9 110.5h0.8v0.8h-0.8zM273.4 110.7h0.8v0.8h-0.8zM276.1 111.8h0.8v0.8h-0.8zM280.1 115.3h0.8v0.8h-0.8zM297.1 108.0h0.8v0.8h-0.8zM276.1 109.5h0.8v0.8h-0.8zM296.5 104.1h0.8v0.8h-0.8zM281.4 116.8h0.8v0.8h-0.8zM280.6 115.5h0.8v0.8h-0.8zM289.6 119.8h0.8v0.8h-0.8zM274.3 115.4h0.8v0.8h-0.8zM291.9 102.1h0.8v0.8h-0.8zM280.0 110.0h0.8v0.8h-0.8zM280.4 119.1h0.8v0.8h-0.8zM283.5 118.0h0.8v0.8h-0.8zM296.0 112.6h0.8v0.8h-0.8zM302.4 110.6h0.8v0.8h-0.8zM281.7 101.5h0.8v0.8h-0.8zM287.5 101.4h0.8v0.8h-0.8zM292.4 120.2h0.8v0.8h-0.8zM282.2 104.8h0.8v0.8h-0.8zM275.3 106.3h0.8v0.8h-0.8zM280.2 121.3h0.8v0.8h-0.8zM300.3 112.9h0.8v0.8h-0.8zM299.9 104.1h0.8v0.8h-0.8zM276.4 115.2h0.8v0.8h-0.8zM293.4 117.8h0.8v0.8h-0.8zM295.3 117.5h0.8v0.8h-0.8zM285.4 101.0h0.8v0.8h-0.8zM285.3 101.7h0.8v0.8h-0.8zM276.6 112.1h0.8v0.8h-0.8zM283.2 97.2h0.8v0.8h-0.8zM292.1 100.3h0.8v0.8h-0.8zM280.9 121.6h0.8v0.8h-0.8zM280.0 115.9h0.8v0.8h-0.8zM277.2 118.9h0.8v0.8h-0.8zM279.8 104.3h0.8v0.8h-0.8zM278.0 122.3h0.8v0.8h-0.8zM276.6 104.2h0.8v0.8h-0.8zM277.2 113.8h0.8v0.8h-0.8zM292.1 98.4h0.8v0.8h-0.8zM296.9 110.2h0.8v0.8h-0.8zM273.6 105.0h0.8v0.8h-0.8zM281.4 116.1h0.8v0.8h-0.8zM297.2 106.2h0.8v0.8h-0.8zM274.0 112.3h0.8v0.8h-0.8zM288.9 96.6h0.8v0.8h-0.8zM273.2 111.7h0.8v0.8h-0.8zM277.2 118.9h0.8v0.8h-0.8zM275.6 116.3h0.8v0.8h-0.8zM300.2 109.9h0.8v0.8h-0.8zM290.1 98.3h0.8v0.8h-0.8zM276.3 104.3h0.8v0.8h-0.8zM274.8 105.8h0.8v0.8h-0.8zM289.7 96.8h0.8v0.8h-0.8zM286.3 119.5h0.8v0.8h-0.8zM290.7 120.6h0.8v0.8h-0.8zM297.9 104.3h0.8v0.8h-0.8zM286.1 119.5h0.8v0.8h-0.8zM280.9 101.8h0.8v0.8h-0.8zM289.0 120.8h0.8v0.8h-0.8zM286.0 123.9h0.8v0.8h-0.8zM291.9 103.1h0.8v0.8h-0.8zM299.0 113.8h0.8v0.8h-0.8zM282.3 103.1h0.8v0.8h-0.8zM295.2 115.5h0.8v0.8h-0.8zM286.1 119.5h0.8v0.8h-0.8zM287.6 120.7h0.8v0.8h-0.8zM281.0 100.9h0.8v0.8h-0.8zM293.9 117.2h0.8v0.8h-0.8zM273.0 113.5h0.8v0.8h-0.8zM279.2 103.9h0.8v0.8h-0.8zM288.8 119.9h0.8v0.8h-0.8zM285.6 118.2h0.8v0.8h-0.8zM294.5 119.6h0.8v0.8h-0.8zM292.1 118.0h0.8v0.8h-0.8zM279.2 123.2h0.8v0.8h-0.8zM278.1 98.0h0.8v0.8h-0.8zM273.8 111.6h0.8v0.8h-0.8zM277.0 119.0h0.8v0.8h-0.8zM297.8 116.4h0.8v0.8h-0.8zM284.6 99.4h0.8v0.8h-0.8zM291.1 100.3h0.8v0.8h-0.8zM295.8 119.1h0.8v0.8h-0.8zM290.7 117.9h0.8v0.8h-0.8zM296.7 105.1h0.8v0.8h-0.8zM283.6 100.3h0.8v0.8h-0.8zM296.2 114.3h0.8v0.8h-0.8zM284.9 119.1h0.8v0.8h-0.8zM290.4 119.9h0.8v0.8h-0.8zM284.7 101.7h0.8v0.8h-0.8zM292.4 98.4h0.8v0.8h-0.8zM277.5 110.4h0.8v0.8h-0.8zM296.8 101.5h0.8v0.8h-0.8zM275.1 120.3h0.8v0.8h-0.8zM275.7 119.4h0.8v0.8h-0.8zM274.3 113.6h0.8v0.8h-0.8zM282.2 117.5h0.8v0.8h-0.8zM272.4 107.4h0.8v0.8h-0.8zM291.8 119.4h0.8v0.8h-0.8zM286.6 121.4h0.8v0.8h-0.8zM282.4 100.0h0.8v0.8h-0.8zM275.4 105.4h0.8v0.8h-0.8zM298.1 112.8h0.8v0.8h-0.8zM284.2 120.5h0.8v0.8h-0.8zM279.1 114.2h0.8v0.8h-0.8zM286.4 101.7h0.8v0.8h-0.8zM275.5 117.7h0.8v0.8h-0.8zM278.2 115.3h0.8v0.8h-0.8zM288.8 99.6h0.8v0.8h-0.8zM286.7 122.3h0.8v0.8h-0.8zM278.4 102.8h0.8v0.8h-0.8zM274.9 114.3h0.8v0.8h-0.8zM303.4 111.9h0.8v0.8h-0.8zM295.5 103.8h0.8v0.8h-0.8zM281.6 101.7h0.8v0.8h-0.8zM279.0 104.2h0.8v0.8h-0.8zM298.7 107.0h0.8v0.8h-0.8zM284.7 123.1h0.8v0.8h-0.8zM273.0 107.7h0.8v0.8h-0.8zM282.8 120.9h0.8v0.8h-0.8zM282.9 122.3h0.8v0.8h-0.8zM273.4 105.1h0.8v0.8h-0.8zM275.9 112.3h0.8v0.8h-0.8zM282.4 118.6h0.8v0.8h-0.8zM288.5 118.6h0.8v0.8h-0.8zM301.6 111.0h0.8v0.8h-0.8zM275.7 106.8h0.8v0.8h-0.8zM282.8 120.5h0.8v0.8h-0.8zM296.1 102.1h0.8v0.8h-0.8zM295.3 113.0h0.8v0.8h-0.8zM297.7 117.5h0.8v0.8h-0.8zM293.4 118.1h0.8v0.8h-0.8zM280.8 116.3h0.8v0.8h-0.8zM295.2 106.0h0.8v0.8h-0.8zM295.8 102.3h0.8v0.8h-0.8zM277.7 106.6h0.8v0.8h-0.8zM278.4 104.8h0.8v0.8h-0.8zM284.3 99.1h0.8v0.8h-0.8zM277.7 116.0h0.8v0.8h-0.8zM292.6 121.1h0.8v0.8h-0.8zM273.2 104.0h0.8v0.8h-0.8zM300.2 104.1h0.8v0.8h-0.8zM294.7 108.4h0.8v0.8h-0.8zM301.9 110.9h0.8v0.8h-0.8zM274.8 109.0h0.8v0.8h-0.8zM282.2 101.9h0.8v0.8h-0.8zM277.4 120.1h0.8v0.8h-0.8zM295.2 115.1h0.8v0.8h-0.8zM272.9 114.5h0.8v0.8h-0.8zM295.4 109.9h0.8v0.8h-0.8zM292.4 118.7h0.8v0.8h-0.8zM294.8 104.5h0.8v0.8h-0.8zM292.3 117.0h0.8v0.8h-0.8zM291.5 119.7h0.8v0.8h-0.8zM280.4 104.3h0.8v0.8h-0.8zM281.3 121.6h0.8v0.8h-0.8zM301.3 110.4h0.8v0.8h-0.8zM281.7 103.0h0.8v0.8h-0.8zM285.3 120.6h0.8v0.8h-0.8zM274.1 105.0h0.8v0.8h-0.8zM287.4 98.9h0.8v0.8h-0.8zM293.6 114.2h0.8v0.8h-0.8zM298.1 113.9h0.8v0.8h-0.8zM284.2 101.5h0.8v0.8h-0.8zM294.9 122.2h0.8v0.8h-0.8zM272.7 103.7h0.8v0.8h-0.8zM273.0 114.5h0.8v0.8h-0.8zM286.7 124.0h0.8v0.8h-0.8zM282.2 118.3h0.8v0.8h-0.8zM289.9 104.0h0.8v0.8h-0.8zM287.0 117.7h0.8v0.8h-0.8zM284.4 101.2h0.8v0.8h-0.8zM287.1 119.8h0.8v0.8h-0.8zM300.5 108.1h0.8v0.8h-0.8zM274.3 108.0h0.8v0.8h-0.8zM273.4 117.5h0.8v0.8h-0.8zM277.1 120.5h0.8v0.8h-0.8zM291.3 119.9h0.8v0.8h-0.8zM279.6 100.7h0.8v0.8h-0.8zM298.0 116.1h0.8v0.8h-0.8zM274.0 113.9h0.8v0.8h-0.8zM279.5 117.6h0.8v0.8h-0.8zM276.2 118.3h0.8v0.8h-0.8zM274.6 113.1h0.8v0.8h-0.8zM279.0 116.8h0.8v0.8h-0.8zM275.8 103.1h0.8v0.8h-0.8zM274.5 109.3h0.8v0.8h-0.8zM285.3 118.5h0.8v0.8h-0.8zM272.7 105.0h0.8v0.8h-0.8zM275.0 117.8h0.8v0.8h-0.8zM279.2 122.6h0.8v0.8h-0.8zM278.4 118.0h0.8v0.8h-0.8zM281.4 120.5h0.8v0.8h-0.8zM283.3 123.1h0.8v0.8h-0.8zM293.9 116.5h0.8v0.8h-0.8zM281.4 103.1h0.8v0.8h-0.8zM282.0 98.8h0.8v0.8h-0.8zM293.4 102.2h0.8v0.8h-0.8zM298.1 112.5h0.8v0.8h-0.8zM281.9 121.0h0.8v0.8h-0.8zM298.3 112.5h0.8v0.8h-0.8zM284.6 102.4h0.8v0.8h-0.8zM278.2 119.6h0.8v0.8h-0.8zM283.2 121.9h0.8v0.8h-0.8zM296.6 112.6h0.8v0.8h-0.8zM286.6 100.2h0.8v0.8h-0.8zM284.5 118.7h0.8v0.8h-0.8zM301.9 105.8h0.8v0.8h-0.8zM275.2 100.5h0.8v0.8h-0.8zM273.8 115.1h0.8v0.8h-0.8zM298.3 105.5h0.8v0.8h-0.8zM285.5 123.2h0.8v0.8h-0.8zM274.7 107.4h0.8v0.8h-0.8zM297.5 113.5h0.8v0.8h-0.8zM281.5 120.5h0.8v0.8h-0.8zM287.4 118.5h0.8v0.8h-0.8zM298.3 106.1h0.8v0.8h-0.8zM277.8 122.4h0.8v0.8h-0.8zM275.7 103.8h0.8v0.8h-0.8zM293.1 114.7h0.8v0.8h-0.8zM277.2 119.3h0.8v0.8h-0.8zM273.6 113.7h0.8v0.8h-0.8zM281.2 118.8h0.8v0.8h-0.8zM299.3 115.1h0.8v0.8h-0.8zM274.9 114.3h0.8v0.8h-0.8zM280.1 102.6h0.8v0.8h-0.8zM287.0 123.8h0.8v0.8h-0.8zM293.9 100.7h0.8v0.8h-0.8zM280.1 120.1h0.8v0.8h-0.8zM279.0 116.7h0.8v0.8h-0.8zM277.7 117.8h0.8v0.8h-0.8zM274.1 105.6h0.8v0.8h-0.8zM272.5 110.5h0.8v0.8h-0.8zM273.8 104.3h0.8v0.8h-0.8zM283.9 104.7h0.8v0.8h-0.8zM299.4 116.6h0.8v0.8h-0.8zM284.3 99.3h0.8v0.8h-0.8zM289.4 100.4h0.8v0.8h-0.8zM280.9 117.5h0.8v0.8h-0.8zM294.2 105.9h0.8v0.8h-0.8zM283.5 118.6h0.8v0.8h-0.8zM290.7 119.4h0.8v0.8h-0.8zM278.5 123.1h0.8v0.8h-0.8zM291.1 101.1h0.8v0.8h-0.8zM282.1 122.1h0.8v0.8h-0.8zM279.3 102.2h0.8v0.8h-0.8zM278.6 119.8h0.8v0.8h-0.8zM280.9 100.4h0.8v0.8h-0.8zM279.3 116.2h0.8v0.8h-0.8zM273.3 105.5h0.8v0.8h-0.8zM298.1 118.2h0.8v0.8h-0.8zM286.4 119.2h0.8v0.8h-0.8zM274.0 110.8h0.8v0.8h-0.8zM288.8 122.2h0.8v0.8h-0.8zM274.0 103.8h0.8v0.8h-0.8zM279.3 113.9h0.8v0.8h-0.8zM272.6 106.4h0.8v0.8h-0.8zM287.3 96.6h0.8v0.8h-0.8zM276.7 116.6h0.8v0.8h-0.8zM288.7 99.6h0.8v0.8h-0.8zM287.6 119.9h0.8v0.8h-0.8zM289.4 119.8h0.8v0.8h-0.8zM280.8 117.3h0.8v0.8h-0.8zM295.6 117.2h0.8v0.8h-0.8zM285.3 104.3h0.8v0.8h-0.8zM279.5 105.7h0.8v0.8h-0.8zM281.3 101.7h0.8v0.8h-0.8zM291.7 121.2h0.8v0.8h-0.8zM294.4 115.6h0.8v0.8h-0.8zM291.4 119.1h0.8v0.8h-0.8zM274.5 119.1h0.8v0.8h-0.8zM298.2 107.0h0.8v0.8h-0.8zM291.2 98.8h0.8v0.8h-0.8zM279.3 97.7h0.8v0.8h-0.8zM272.4 111.9h0.8v0.8h-0.8zM296.4 114.2h0.8v0.8h-0.8zM274.7 104.1h0.8v0.8h-0.8zM274.4 118.5h0.8v0.8h-0.8zM280.0 119.3h0.8v0.8h-0.8zM298.2 112.9h0.8v0.8h-0.8zM284.7 120.3h0.8v0.8h-0.8zM302.6 109.5h0.8v0.8h-0.8zM279.1 117.2h0.8v0.8h-0.8zM282.3 119.9h0.8v0.8h-0.8zM279.9 103.9h0.8v0.8h-0.8zM272.4 106.3h0.8v0.8h-0.8zM272.9 111.4h0.8v0.8h-0.8zM287.1 120.0h0.8v0.8h-0.8zM273.2 113.4h0.8v0.8h-0.8zM274.4 105.6h0.8v0.8h-0.8zM282.2 120.6h0.8v0.8h-0.8zM301.1 105.2h0.8v0.8h-0.8zM292.7 112.8h0.8v0.8h-0.8zM280.6 116.2h0.8v0.8h-0.8zM272.7 115.5h0.8v0.8h-0.8zM298.0 103.3h0.8v0.8h-0.8zM293.5 119.5h0.8v0.8h-0.8zM283.3 101.0h0.8v0.8h-0.8zM278.3 101.1h0.8v0.8h-0.8zM274.7 103.0h0.8v0.8h-0.8zM282.0 115.9h0.8v0.8h-0.8zM292.4 121.6h0.8v0.8h-0.8zM296.0 106.1h0.8v0.8h-0.8zM281.2 118.4h0.8v0.8h-0.8zM281.8 102.0h0.8v0.8h-0.8zM301.7 114.7h0.8v0.8h-0.8zM280.8 118.1h0.8v0.8h-0.8zM275.0 112.3h0.8v0.8h-0.8zM296.7 109.5h0.8v0.8h-0.8zM281.6 117.6h0.8v0.8h-0.8zM293.9 118.9h0.8v0.8h-0.8zM291.3 101.2h0.8v0.8h-0.8zM277.1 108.2h0.8v0.8h-0.8zM277.1 104.4h0.8v0.8h-0.8zM285.9 100.4h0.8v0.8h-0.8zM288.1 102.8h0.8v0.8h-0.8zM279.4 111.9h0.8v0.8h-0.8zM294.8 117.4h0.8v0.8h-0.8zM273.4 111.7h0.8v0.8h-0.8zM297.4 109.5h0.8v0.8h-0.8zM287.2 98.6h0.8v0.8h-0.8zM274.2 106.5h0.8v0.8h-0.8zM299.5 106.0h0.8v0.8h-0.8zM293.6 119.2h0.8v0.8h-0.8zM279.2 103.2h0.8v0.8h-0.8zM279.5 121.6h0.8v0.8h-0.8zM274.0 117.3h0.8v0.8h-0.8zM273.0 117.1h0.8v0.8h-0.8zM288.5 119.6h0.8v0.8h-0.8zM285.6 120.7h0.8v0.8h-0.8zM289.6 121.6h0.8v0.8h-0.8zM295.5 102.4h0.8v0.8h-0.8zM284.8 116.9h0.8v0.8h-0.8zM279.5 106.0h0.8v0.8h-0.8zM279.8 116.7h0.8v0.8h-0.8zM298.4 99.1h0.8v0.8h-0.8zM281.3 123.9h0.8v0.8h-0.8zM300.6 118.0h0.8v0.8h-0.8zM280.2 118.3h0.8v0.8h-0.8zM299.9 108.7h0.8v0.8h-0.8zM282.4 101.6h0.8v0.8h-0.8zM274.9 114.5h0.8v0.8h-0.8zM280.5 121.1h0.8v0.8h-0.8zM296.4 119.1h0.8v0.8h-0.8zM275.3 110.1h0.8v0.8h-0.8zM299.8 104.1h0.8v0.8h-0.8zM283.9 125.3h0.8v0.8h-0.8zM285.2 122.7h0.8v0.8h-0.8zM275.1 116.2h0.8v0.8h-0.8zM279.0 117.3h0.8v0.8h-0.8zM277.1 107.9h0.8v0.8h-0.8zM280.5 113.7h0.8v0.8h-0.8zM274.4 118.5h0.8v0.8h-0.8zM275.4 115.8h0.8v0.8h-0.8zM286.2 120.6h0.8v0.8h-0.8zM277.0 117.6h0.8v0.8h-0.8zM298.4 103.9h0.8v0.8h-0.8zM287.7 119.0h0.8v0.8h-0.8zM286.1 100.1h0.8v0.8h-0.8zM276.0 108.7h0.8v0.8h-0.8zM281.8 102.1h0.8v0.8h-0.8zM288.4 118.8h0.8v0.8h-0.8zM276.4 111.5h0.8v0.8h-0.8zM288.9 120.1h0.8v0.8h-0.8zM273.1 108.4h0.8v0.8h-0.8zM275.5 112.4h0.8v0.8h-0.8zM293.2 104.3h0.8v0.8h-0.8zM293.2 98.3h0.8v0.8h-0.8zM295.0 119.9h0.8v0.8h-0.8zM272.9 113.5h0.8v0.8h-0.8zM277.0 116.1h0.8v0.8h-0.8zM276.1 111.3h0.8v0.8h-0.8zM287.3 100.4h0.8v0.8h-0.8zM275.7 109.0h0.8v0.8h-0.8zM277.9 117.5h0.8v0.8h-0.8zM290.6 120.3h0.8v0.8h-0.8zM298.4 113.7h0.8v0.8h-0.8zM280.5 119.9h0.8v0.8h-0.8zM290.2 119.4h0.8v0.8h-0.8zM279.1 116.5h0.8v0.8h-0.8zM283.4 99.3h0.8v0.8h-0.8zM306.1 104.2h0.8v0.8h-0.8zM301.5 113.9h0.8v0.8h-0.8zM296.0 122.7h0.8v0.8h-0.8zM305.6 104.3h0.8v0.8h-0.8zM305.4 107.1h0.8v0.8h-0.8zM304.5 104.2h0.8v0.8h-0.8zM295.4 120.1h0.8v0.8h-0.8zM300.0 118.7h0.8v0.8h-0.8zM303.5 111.7h0.8v0.8h-0.8zM298.1 120.1h0.8v0.8h-0.8zM304.1 112.3h0.8v0.8h-0.8zM300.3 116.6h0.8v0.8h-0.8zM299.5 113.1h0.8v0.8h-0.8zM302.1 114.9h0.8v0.8h-0.8zM297.3 117.1h0.8v0.8h-0.8zM302.1 114.6h0.8v0.8h-0.8zM304.1 107.9h0.8v0.8h-0.8zM301.9 114.8h0.8v0.8h-0.8zM303.7 108.2h0.8v0.8h-0.8zM300.8 119.0h0.8v0.8h-0.8zM306.8 108.7h0.8v0.8h-0.8zM304.0 108.5h0.8v0.8h-0.8zM297.8 117.3h0.8v0.8h-0.8zM305.0 110.4h0.8v0.8h-0.8zM302.3 114.4h0.8v0.8h-0.8zM303.4 107.6h0.8v0.8h-0.8zM303.5 110.8h0.8v0.8h-0.8zM304.8 101.2h0.8v0.8h-0.8zM302.0 112.8h0.8v0.8h-0.8zM299.2 117.6h0.8v0.8h-0.8zM297.8 120.6h0.8v0.8h-0.8zM306.9 104.8h0.8v0.8h-0.8zM298.4 114.4h0.8v0.8h-0.8zM299.1 119.1h0.8v0.8h-0.8zM302.5 112.1h0.8v0.8h-0.8zM304.3 109.2h0.8v0.8h-0.8zM301.6 111.9h0.8v0.8h-0.8zM296.9 122.0h0.8v0.8h-0.8zM296.4 122.2h0.8v0.8h-0.8zM304.6 104.8h0.8v0.8h-0.8zM296.8 122.3h0.8v0.8h-0.8zM304.8 109.8h0.8v0.8h-0.8zM303.7 110.4h0.8v0.8h-0.8zM304.6 107.6h0.8v0.8h-0.8zM302.5 113.6h0.8v0.8h-0.8zM297.0 123.9h0.8v0.8h-0.8zM299.8 115.5h0.8v0.8h-0.8zM298.4 119.3h0.8v0.8h-0.8zM300.4 118.1h0.8v0.8h-0.8zM306.7 105.5h0.8v0.8h-0.8zM300.9 112.3h0.8v0.8h-0.8zM303.5 106.3h0.8v0.8h-0.8zM305.2 108.2h0.8v0.8h-0.8zM306.9 102.1h0.8v0.8h-0.8zM299.1 119.4h0.8v0.8h-0.8zM307.5 101.6h0.8v0.8h-0.8zM299.7 117.6h0.8v0.8h-0.8zM297.2 125.8h0.8v0.8h-0.8zM306.1 106.9h0.8v0.8h-0.8zM303.0 106.5h0.8v0.8h-0.8zM305.4 106.7h0.8v0.8h-0.8zM303.0 113.8h0.8v0.8h-0.8zM298.9 118.1h0.8v0.8h-0.8zM296.6 125.2h0.8v0.8h-0.8zM303.7 107.0h0.8v0.8h-0.8zM298.6 120.2h0.8v0.8h-0.8zM302.8 108.1h0.8v0.8h-0.8zM300.5 117.2h0.8v0.8h-0.8zM298.3 121.6h0.8v0.8h-0.8zM307.4 102.6h0.8v0.8h-0.8zM296.9 120.6h0.8v0.8h-0.8zM305.8 107.0h0.8v0.8h-0.8zM298.8 120.6h0.8v0.8h-0.8zM305.8 107.0h0.8v0.8h-0.8zM305.3 106.0h0.8v0.8h-0.8zM307.1 106.2h0.8v0.8h-0.8zM302.9 110.6h0.8v0.8h-0.8zM297.2 122.2h0.8v0.8h-0.8zM306.3 105.7h0.8v0.8h-0.8zM301.2 116.8h0.8v0.8h-0.8zM298.2 119.7h0.8v0.8h-0.8zM305.5 107.8h0.8v0.8h-0.8zM302.1 113.7h0.8v0.8h-0.8zM297.2 120.9h0.8v0.8h-0.8zM298.6 118.8h0.8v0.8h-0.8zM306.7 104.3h0.8v0.8h-0.8zM306.5 104.1h0.8v0.8h-0.8zM305.2 105.2h0.8v0.8h-0.8zM300.9 117.4h0.8v0.8h-0.8zM296.8 121.8h0.8v0.8h-0.8zM295.6 120.2h0.8v0.8h-0.8zM303.2 112.5h0.8v0.8h-0.8zM303.1 110.3h0.8v0.8h-0.8zM302.2 109.2h0.8v0.8h-0.8zM295.9 121.5h0.8v0.8h-0.8zM302.0 114.9h0.8v0.8h-0.8zM302.5 106.3h0.8v0.8h-0.8zM298.9 113.3h0.8v0.8h-0.8zM303.9 111.3h0.8v0.8h-0.8zM300.4 119.1h0.8v0.8h-0.8zM299.9 113.1h0.8v0.8h-0.8zM298.7 121.5h0.8v0.8h-0.8zM296.5 120.1h0.8v0.8h-0.8zM297.3 118.9h0.8v0.8h-0.8zM302.8 113.5h0.8v0.8h-0.8zM297.2 119.2h0.8v0.8h-0.8zM296.7 122.7h0.8v0.8h-0.8zM296.5 122.4h0.8v0.8h-0.8zM301.7 114.1h0.8v0.8h-0.8zM303.5 110.0h0.8v0.8h-0.8zM306.2 104.7h0.8v0.8h-0.8zM298.4 117.1h0.8v0.8h-0.8zM303.3 109.7h0.8v0.8h-0.8zM301.2 111.5h0.8v0.8h-0.8zM307.0 104.2h0.8v0.8h-0.8zM298.2 121.6h0.8v0.8h-0.8zM298.5 119.1h0.8v0.8h-0.8zM294.8 119.8h0.8v0.8h-0.8zM302.0 113.4h0.8v0.8h-0.8zM296.2 122.7h0.8v0.8h-0.8zM306.2 104.6h0.8v0.8h-0.8zM305.2 104.8h0.8v0.8h-0.8zM294.7 122.3h0.8v0.8h-0.8zM299.8 117.7h0.8v0.8h-0.8zM298.4 123.2h0.8v0.8h-0.8zM305.0 108.9h0.8v0.8h-0.8zM303.6 112.0h0.8v0.8h-0.8zM302.1 114.0h0.8v0.8h-0.8zM298.0 119.6h0.8v0.8h-0.8zM300.2 115.5h0.8v0.8h-0.8zM339.7 92.9h0.8v0.8h-0.8zM314.2 94.7h0.8v0.8h-0.8zM342.2 92.2h0.8v0.8h-0.8zM327.2 96.8h0.8v0.8h-0.8zM370.5 105.0h0.8v0.8h-0.8zM333.5 105.3h0.8v0.8h-0.8zM356.2 93.6h0.8v0.8h-0.8zM368.2 97.6h0.8v0.8h-0.8zM352.8 92.1h0.8v0.8h-0.8zM337.5 100.1h0.8v0.8h-0.8zM316.5 100.3h0.8v0.8h-0.8zM324.6 108.2h0.8v0.8h-0.8zM359.7 97.0h0.8v0.8h-0.8zM373.3 96.2h0.8v0.8h-0.8zM346.5 105.3h0.8v0.8h-0.8zM346.6 99.9h0.8v0.8h-0.8zM326.4 103.4h0.8v0.8h-0.8zM324.3 99.7h0.8v0.8h-0.8zM353.5 90.9h0.8v0.8h-0.8zM345.5 107.1h0.8v0.8h-0.8zM341.4 97.2h0.8v0.8h-0.8zM339.8 94.4h0.8v0.8h-0.8zM367.2 99.0h0.8v0.8h-0.8zM373.1 95.1h0.8v0.8h-0.8zM365.6 97.5h0.8v0.8h-0.8zM349.5 102.8h0.8v0.8h-0.8zM347.7 97.9h0.8v0.8h-0.8zM371.9 96.8h0.8v0.8h-0.8zM344.5 92.5h0.8v0.8h-0.8zM341.7 103.2h0.8v0.8h-0.8zM334.3 100.5h0.8v0.8h-0.8zM353.1 100.9h0.8v0.8h-0.8zM375.1 90.5h0.8v0.8h-0.8zM368.6 101.3h0.8v0.8h-0.8zM375.4 96.8h0.8v0.8h-0.8zM327.6 100.6h0.8v0.8h-0.8zM366.3 101.4h0.8v0.8h-0.8zM357.6 97.3h0.8v0.8h-0.8zM353.5 96.7h0.8v0.8h-0.8zM350.5 97.4h0.8v0.8h-0.8zM336.5 99.9h0.8v0.8h-0.8zM357.9 96.1h0.8v0.8h-0.8zM364.2 96.0h0.8v0.8h-0.8zM360.5 97.8h0.8v0.8h-0.8zM315.9 103.7h0.8v0.8h-0.8zM345.0 102.9h0.8v0.8h-0.8zM330.5 96.2h0.8v0.8h-0.8zM358.0 93.8h0.8v0.8h-0.8zM330.3 98.3h0.8v0.8h-0.8zM371.5 103.3h0.8v0.8h-0.8zM320.0 94.2h0.8v0.8h-0.8zM336.4 100.0h0.8v0.8h-0.8zM361.5 104.8h0.8v0.8h-0.8zM311.0 102.6h0.8v0.8h-0.8zM351.5 94.7h0.8v0.8h-0.8zM351.5 93.8h0.8v0.8h-0.8zM326.4 95.7h0.8v0.8h-0.8zM350.9 95.1h0.8v0.8h-0.8zM376.1 99.9h0.8v0.8h-0.8zM321.6 96.5h0.8v0.8h-0.8zM370.4 93.6h0.8v0.8h-0.8zM340.2 95.6h0.8v0.8h-0.8zM349.5 105.8h0.8v0.8h-0.8zM368.4 100.9h0.8v0.8h-0.8zM365.5 102.1h0.8v0.8h-0.8zM355.7 98.6h0.8v0.8h-0.8zM323.2 106.7h0.8v0.8h-0.8zM355.3 99.1h0.8v0.8h-0.8zM356.2 103.8h0.8v0.8h-0.8zM349.3 99.8h0.8v0.8h-0.8zM351.5 97.8h0.8v0.8h-0.8zM359.3 101.4h0.8v0.8h-0.8zM359.8 99.1h0.8v0.8h-0.8zM370.6 111.7h0.8v0.8h-0.8zM329.6 98.5h0.8v0.8h-0.8zM326.9 100.2h0.8v0.8h-0.8zM363.8 95.4h0.8v0.8h-0.8zM361.3 98.8h0.8v0.8h-0.8zM338.8 92.8h0.8v0.8h-0.8zM368.2 95.4h0.8v0.8h-0.8zM330.0 103.1h0.8v0.8h-0.8zM316.3 97.2h0.8v0.8h-0.8zM374.9 106.4h0.8v0.8h-0.8zM323.8 103.5h0.8v0.8h-0.8zM325.0 100.7h0.8v0.8h-0.8zM362.6 94.8h0.8v0.8h-0.8zM348.3 100.3h0.8v0.8h-0.8zM348.7 94.2h0.8v0.8h-0.8zM371.8 93.5h0.8v0.8h-0.8zM324.0 90.9h0.8v0.8h-0.8zM325.7 96.7h0.8v0.8h-0.8zM327.5 97.0h0.8v0.8h-0.8zM364.9 104.9h0.8v0.8h-0.8zM313.3 100.9h0.8v0.8h-0.8zM343.7 96.5h0.8v0.8h-0.8zM348.5 100.6h0.8v0.8h-0.8zM340.2 105.1h0.8v0.8h-0.8zM323.0 103.1h0.8v0.8h-0.8zM314.6 95.7h0.8v0.8h-0.8zM328.6 100.7h0.8v0.8h-0.8zM340.9 99.5h0.8v0.8h-0.8zM331.4 98.9h0.8v0.8h-0.8zM362.6 102.1h0.8v0.8h-0.8zM320.8 98.8h0.8v0.8h-0.8zM321.5 98.5h0.8v0.8h-0.8zM368.8 98.7h0.8v0.8h-0.8zM324.0 97.4h0.8v0.8h-0.8zM324.6 93.2h0.8v0.8h-0.8zM365.7 101.6h0.8v0.8h-0.8zM364.5 91.4h0.8v0.8h-0.8zM349.4 99.2h0.8v0.8h-0.8zM328.1 98.6h0.8v0.8h-0.8zM336.7 104.1h0.8v0.8h-0.8zM343.6 99.1h0.8v0.8h-0.8zM329.1 96.7h0.8v0.8h-0.8zM322.3 99.2h0.8v0.8h-0.8zM354.4 105.7h0.8v0.8h-0.8zM341.2 94.9h0.8v0.8h-0.8zM354.8 98.0h0.8v0.8h-0.8zM363.0 100.0h0.8v0.8h-0.8zM331.3 101.0h0.8v0.8h-0.8zM363.5 103.2h0.8v0.8h-0.8zM330.7 99.9h0.8v0.8h-0.8zM322.2 101.6h0.8v0.8h-0.8zM334.4 103.7h0.8v0.8h-0.8zM321.4 105.8h0.8v0.8h-0.8zM336.4 95.9h0.8v0.8h-0.8zM316.8 101.8h0.8v0.8h-0.8zM318.3 106.2h0.8v0.8h-0.8zM322.6 92.1h0.8v0.8h-0.8zM360.6 107.8h0.8v0.8h-0.8zM328.9 102.4h0.8v0.8h-0.8zM335.4 100.2h0.8v0.8h-0.8zM362.2 94.7h0.8v0.8h-0.8zM353.7 98.8h0.8v0.8h-0.8zM378.0 93.0h0.8v0.8h-0.8zM328.0 97.2h0.8v0.8h-0.8zM336.1 102.0h0.8v0.8h-0.8zM325.9 109.9h0.8v0.8h-0.8zM323.3 102.5h0.8v0.8h-0.8zM339.9 96.0h0.8v0.8h-0.8zM338.2 101.8h0.8v0.8h-0.8zM350.6 101.5h0.8v0.8h-0.8zM365.6 95.8h0.8v0.8h-0.8zM315.7 104.8h0.8v0.8h-0.8zM330.6 93.0h0.8v0.8h-0.8zM315.8 103.0h0.8v0.8h-0.8zM309.3 95.8h0.8v0.8h-0.8zM348.4 96.7h0.8v0.8h-0.8zM339.3 97.2h0.8v0.8h-0.8zM345.8 102.2h0.8v0.8h-0.8zM344.1 99.1h0.8v0.8h-0.8zM344.7 103.1h0.8v0.8h-0.8zM357.2 102.5h0.8v0.8h-0.8zM341.1 98.7h0.8v0.8h-0.8zM344.8 91.9h0.8v0.8h-0.8zM313.8 101.8h0.8v0.8h-0.8zM348.4 102.4h0.8v0.8h-0.8zM343.8 103.1h0.8v0.8h-0.8zM339.6 98.7h0.8v0.8h-0.8zM334.9 104.5h0.8v0.8h-0.8zM365.1 95.4h0.8v0.8h-0.8zM316.3 104.6h0.8v0.8h-0.8zM344.7 97.9h0.8v0.8h-0.8zM330.5 98.5h0.8v0.8h-0.8zM364.8 100.4h0.8v0.8h-0.8zM362.3 93.2h0.8v0.8h-0.8zM315.3 101.7h0.8v0.8h-0.8zM327.5 95.0h0.8v0.8h-0.8zM368.2 100.5h0.8v0.8h-0.8zM347.7 96.7h0.8v0.8h-0.8zM357.9 99.3h0.8v0.8h-0.8zM322.1 100.5h0.8v0.8h-0.8zM324.7 102.9h0.8v0.8h-0.8zM367.3 96.5h0.8v0.8h-0.8zM366.0 99.5h0.8v0.8h-0.8zM323.3 95.6h0.8v0.8h-0.8zM358.0 103.9h0.8v0.8h-0.8zM325.9 99.8h0.8v0.8h-0.8zM358.0 102.2h0.8v0.8h-0.8zM361.2 104.0h0.8v0.8h-0.8zM371.9 96.2h0.8v0.8h-0.8zM359.7 90.1h0.8v0.8h-0.8zM340.7 99.3h0.8v0.8h-0.8zM365.7 98.0h0.8v0.8h-0.8zM374.1 104.4h0.8v0.8h-0.8zM318.9 97.1h0.8v0.8h-0.8zM355.2 101.1h0.8v0.8h-0.8zM351.3 102.4h0.8v0.8h-0.8zM360.7 98.3h0.8v0.8h-0.8zM359.8 98.9h0.8v0.8h-0.8zM345.3 97.2h0.8v0.8h-0.8zM315.8 98.3h0.8v0.8h-0.8zM334.3 99.5h0.8v0.8h-0.8zM345.0 99.9h0.8v0.8h-0.8zM360.0 94.4h0.8v0.8h-0.8zM369.0 97.9h0.8v0.8h-0.8zM326.0 94.4h0.8v0.8h-0.8zM376.0 97.1h0.8v0.8h-0.8zM354.7 103.6h0.8v0.8h-0.8zM364.3 107.9h0.8v0.8h-0.8zM342.2 102.9h0.8v0.8h-0.8zM369.5 96.6h0.8v0.8h-0.8zM348.2 97.0h0.8v0.8h-0.8zM312.8 100.4h0.8v0.8h-0.8zM321.0 105.8h0.8v0.8h-0.8zM322.2 97.1h0.8v0.8h-0.8zM349.6 97.2h0.8v0.8h-0.8zM348.4 96.8h0.8v0.8h-0.8zM361.3 99.8h0.8v0.8h-0.8zM331.3 98.6h0.8v0.8h-0.8zM356.5 93.8h0.8v0.8h-0.8zM320.3 95.7h0.8v0.8h-0.8zM347.7 104.5h0.8v0.8h-0.8zM375.5 102.9h0.8v0.8h-0.8zM311.3 103.6h0.8v0.8h-0.8zM330.6 94.9h0.8v0.8h-0.8zM346.8 94.4h0.8v0.8h-0.8zM345.9 105.0h0.8v0.8h-0.8zM315.2 102.6h0.8v0.8h-0.8zM313.6 104.7h0.8v0.8h-0.8zM337.5 104.0h0.8v0.8h-0.8zM332.9 100.8h0.8v0.8h-0.8zM349.8 95.9h0.8v0.8h-0.8zM374.7 96.8h0.8v0.8h-0.8zM334.3 98.4h0.8v0.8h-0.8zM345.8 97.9h0.8v0.8h-0.8zM328.5 96.1h0.8v0.8h-0.8zM341.3 100.0h0.8v0.8h-0.8zM344.4 98.2h0.8v0.8h-0.8zM352.4 100.2h0.8v0.8h-0.8zM368.6 95.0h0.8v0.8h-0.8zM324.2 99.9h0.8v0.8h-0.8zM308.5 99.0h0.8v0.8h-0.8zM358.2 98.6h0.8v0.8h-0.8zM353.1 103.8h0.8v0.8h-0.8zM337.1 94.3h0.8v0.8h-0.8zM324.2 98.2h0.8v0.8h-0.8zM360.1 101.0h0.8v0.8h-0.8zM349.1 98.6h0.8v0.8h-0.8zM359.5 95.1h0.8v0.8h-0.8zM364.3 97.5h0.8v0.8h-0.8zM322.9 104.1h0.8v0.8h-0.8zM356.1 99.7h0.8v0.8h-0.8zM315.0 105.4h0.8v0.8h-0.8zM358.9 96.7h0.8v0.8h-0.8zM332.3 103.0h0.8v0.8h-0.8zM350.8 98.8h0.8v0.8h-0.8zM350.0 94.6h0.8v0.8h-0.8zM331.6 105.0h0.8v0.8h-0.8zM352.9 96.7h0.8v0.8h-0.8zM328.9 101.6h0.8v0.8h-0.8zM333.6 94.8h0.8v0.8h-0.8zM324.4 98.7h0.8v0.8h-0.8zM354.7 96.6h0.8v0.8h-0.8zM323.0 101.1h0.8v0.8h-0.8zM362.5 97.7h0.8v0.8h-0.8zM353.0 101.2h0.8v0.8h-0.8zM359.3 102.8h0.8v0.8h-0.8zM357.4 100.0h0.8v0.8h-0.8zM336.8 99.8h0.8v0.8h-0.8zM331.8 98.8h0.8v0.8h-0.8zM366.5 99.3h0.8v0.8h-0.8zM348.7 100.6h0.8v0.8h-0.8zM354.6 96.4h0.8v0.8h-0.8zM372.4 96.0h0.8v0.8h-0.8zM345.3 97.8h0.8v0.8h-0.8zM308.6 101.6h0.8v0.8h-0.8zM344.3 94.7h0.8v0.8h-0.8zM344.0 93.8h0.8v0.8h-0.8zM369.9 95.4h0.8v0.8h-0.8zM318.5 98.9h0.8v0.8h-0.8zM360.1 102.8h0.8v0.8h-0.8zM337.8 103.5h0.8v0.8h-0.8zM340.7 95.6h0.8v0.8h-0.8zM375.7 102.8h0.8v0.8h-0.8zM338.2 97.3h0.8v0.8h-0.8zM357.9 96.2h0.8v0.8h-0.8zM357.7 99.9h0.8v0.8h-0.8zM363.1 94.7h0.8v0.8h-0.8zM350.8 104.9h0.8v0.8h-0.8zM334.4 97.1h0.8v0.8h-0.8zM312.1 96.7h0.8v0.8h-0.8zM350.4 101.8h0.8v0.8h-0.8zM322.6 97.9h0.8v0.8h-0.8zM332.5 97.4h0.8v0.8h-0.8zM333.4 95.8h0.8v0.8h-0.8zM344.9 97.2h0.8v0.8h-0.8zM341.1 93.8h0.8v0.8h-0.8zM351.4 101.4h0.8v0.8h-0.8zM367.8 97.1h0.8v0.8h-0.8zM309.2 94.2h0.8v0.8h-0.8zM336.4 92.3h0.8v0.8h-0.8zM368.6 93.2h0.8v0.8h-0.8zM324.1 96.4h0.8v0.8h-0.8zM373.8 106.3h0.8v0.8h-0.8zM335.0 98.1h0.8v0.8h-0.8zM333.8 98.4h0.8v0.8h-0.8zM341.1 108.7h0.8v0.8h-0.8zM311.0 98.8h0.8v0.8h-0.8zM320.8 100.6h0.8v0.8h-0.8zM329.6 101.4h0.8v0.8h-0.8zM311.3 107.4h0.8v0.8h-0.8zM353.5 92.4h0.8v0.8h-0.8zM369.5 97.4h0.8v0.8h-0.8zM308.9 100.9h0.8v0.8h-0.8zM329.7 102.1h0.8v0.8h-0.8zM328.7 102.7h0.8v0.8h-0.8zM351.5 100.6h0.8v0.8h-0.8zM351.8 97.8h0.8v0.8h-0.8zM334.8 100.9h0.8v0.8h-0.8zM369.8 97.6h0.8v0.8h-0.8zM309.3 103.4h0.8v0.8h-0.8zM344.3 100.1h0.8v0.8h-0.8zM320.9 105.6h0.8v0.8h-0.8zM319.8 98.9h0.8v0.8h-0.8zM323.0 106.7h0.8v0.8h-0.8zM332.0 100.6h0.8v0.8h-0.8zM332.6 97.8h0.8v0.8h-0.8zM311.6 100.2h0.8v0.8h-0.8zM311.1 102.4h0.8v0.8h-0.8zM324.9 97.9h0.8v0.8h-0.8zM315.4 99.6h0.8v0.8h-0.8zM369.4 102.8h0.8v0.8h-0.8zM337.6 94.6h0.8v0.8h-0.8zM344.2 105.6h0.8v0.8h-0.8zM355.8 99.0h0.8v0.8h-0.8zM364.3 95.6h0.8v0.8h-0.8zM318.4 97.0h0.8v0.8h-0.8zM343.7 103.0h0.8v0.8h-0.8zM328.3 92.3h0.8v0.8h-0.8zM344.1 101.2h0.8v0.8h-0.8zM361.4 96.3h0.8v0.8h-0.8zM318.1 95.5h0.8v0.8h-0.8zM376.9 100.0h0.8v0.8h-0.8zM347.3 99.0h0.8v0.8h-0.8zM332.2 97.8h0.8v0.8h-0.8zM334.4 99.8h0.8v0.8h-0.8zM319.6 103.7h0.8v0.8h-0.8zM365.7 101.6h0.8v0.8h-0.8zM340.4 102.4h0.8v0.8h-0.8zM366.7 97.0h0.8v0.8h-0.8zM345.5 100.6h0.8v0.8h-0.8zM358.7 101.3h0.8v0.8h-0.8zM338.3 91.8h0.8v0.8h-0.8zM345.1 108.1h0.8v0.8h-0.8zM354.6 99.5h0.8v0.8h-0.8zM355.4 99.8h0.8v0.8h-0.8zM341.1 99.8h0.8v0.8h-0.8zM318.9 98.8h0.8v0.8h-0.8zM323.1 94.1h0.8v0.8h-0.8zM325.5 96.1h0.8v0.8h-0.8zM373.8 104.3h0.8v0.8h-0.8zM365.5 98.4h0.8v0.8h-0.8zM328.8 93.2h0.8v0.8h-0.8zM329.8 105.2h0.8v0.8h-0.8zM338.9 99.2h0.8v0.8h-0.8zM360.4 99.2h0.8v0.8h-0.8zM360.6 96.2h0.8v0.8h-0.8zM348.3 97.9h0.8v0.8h-0.8zM330.6 99.3h0.8v0.8h-0.8zM350.8 98.3h0.8v0.8h-0.8zM360.5 97.0h0.8v0.8h-0.8zM346.0 105.6h0.8v0.8h-0.8zM359.3 91.5h0.8v0.8h-0.8zM364.5 107.7h0.8v0.8h-0.8zM343.9 93.0h0.8v0.8h-0.8zM368.3 101.4h0.8v0.8h-0.8zM313.8 100.9h0.8v0.8h-0.8zM376.9 102.3h0.8v0.8h-0.8zM325.3 96.5h0.8v0.8h-0.8zM310.8 94.2h0.8v0.8h-0.8zM357.0 99.4h0.8v0.8h-0.8zM336.5 93.7h0.8v0.8h-0.8zM345.9 95.4h0.8v0.8h-0.8zM313.2 101.6h0.8v0.8h-0.8zM315.6 101.4h0.8v0.8h-0.8zM367.0 97.7h0.8v0.8h-0.8zM351.5 96.8h0.8v0.8h-0.8zM361.4 97.7h0.8v0.8h-0.8zM322.8 100.0h0.8v0.8h-0.8zM319.3 92.4h0.8v0.8h-0.8zM329.6 103.9h0.8v0.8h-0.8zM354.9 97.5h0.8v0.8h-0.8zM361.9 95.6h0.8v0.8h-0.8zM370.5 97.5h0.8v0.8h-0.8zM355.2 95.9h0.8v0.8h-0.8zM342.6 103.0h0.8v0.8h-0.8zM340.0 96.6h0.8v0.8h-0.8zM356.0 102.6h0.8v0.8h-0.8zM340.9 94.7h0.8v0.8h-0.8zM362.2 103.3h0.8v0.8h-0.8zM356.0 101.0h0.8v0.8h-0.8zM330.8 93.0h0.8v0.8h-0.8zM367.1 98.8h0.8v0.8h-0.8zM365.3 95.1h0.8v0.8h-0.8zM342.4 106.9h0.8v0.8h-0.8zM320.1 99.6h0.8v0.8h-0.8zM351.0 91.1h0.8v0.8h-0.8zM371.7 97.5h0.8v0.8h-0.8zM335.1 100.9h0.8v0.8h-0.8zM339.3 97.2h0.8v0.8h-0.8zM350.5 102.3h0.8v0.8h-0.8zM373.3 101.4h0.8v0.8h-0.8zM348.5 99.5h0.8v0.8h-0.8zM360.0 101.4h0.8v0.8h-0.8zM358.3 97.1h0.8v0.8h-0.8zM344.6 101.0h0.8v0.8h-0.8zM315.7 99.2h0.8v0.8h-0.8zM371.1 99.8h0.8v0.8h-0.8zM337.9 99.1h0.8v0.8h-0.8zM331.7 103.0h0.8v0.8h-0.8zM335.1 92.8h0.8v0.8h-0.8zM308.7 100.3h0.8v0.8h-0.8zM353.7 97.4h0.8v0.8h-0.8zM320.4 96.7h0.8v0.8h-0.8zM347.0 96.3h0.8v0.8h-0.8zM356.9 96.4h0.8v0.8h-0.8zM332.3 98.3h0.8v0.8h-0.8zM377.0 96.4h0.8v0.8h-0.8zM347.2 102.7h0.8v0.8h-0.8zM372.6 93.0h0.8v0.8h-0.8zM345.3 96.4h0.8v0.8h-0.8zM370.8 101.6h0.8v0.8h-0.8zM330.1 107.4h0.8v0.8h-0.8zM338.3 108.5h0.8v0.8h-0.8zM341.7 98.9h0.8v0.8h-0.8zM332.2 104.8h0.8v0.8h-0.8zM345.9 101.0h0.8v0.8h-0.8zM378.1 100.6h0.8v0.8h-0.8zM369.4 97.3h0.8v0.8h-0.8zM332.1 93.2h0.8v0.8h-0.8zM358.8 103.9h0.8v0.8h-0.8zM374.1 102.7h0.8v0.8h-0.8zM369.5 95.7h0.8v0.8h-0.8zM352.4 103.0h0.8v0.8h-0.8zM338.5 95.8h0.8v0.8h-0.8zM361.1 97.1h0.8v0.8h-0.8zM319.5 94.9h0.8v0.8h-0.8zM329.8 102.8h0.8v0.8h-0.8zM334.1 103.6h0.8v0.8h-0.8zM344.9 100.7h0.8v0.8h-0.8zM325.9 98.9h0.8v0.8h-0.8zM323.1 101.4h0.8v0.8h-0.8zM328.7 100.2h0.8v0.8h-0.8zM310.2 97.8h0.8v0.8h-0.8zM375.8 101.5h0.8v0.8h-0.8zM363.4 96.7h0.8v0.8h-0.8zM337.2 98.3h0.8v0.8h-0.8zM359.7 102.7h0.8v0.8h-0.8zM371.2 98.7h0.8v0.8h-0.8zM349.8 95.7h0.8v0.8h-0.8zM359.3 106.9h0.8v0.8h-0.8zM351.8 99.1h0.8v0.8h-0.8zM347.3 101.9h0.8v0.8h-0.8zM340.7 99.2h0.8v0.8h-0.8zM353.9 104.2h0.8v0.8h-0.8zM377.0 95.2h0.8v0.8h-0.8zM327.3 99.3h0.8v0.8h-0.8zM373.7 102.9h0.8v0.8h-0.8zM340.7 107.3h0.8v0.8h-0.8zM342.0 104.6h0.8v0.8h-0.8zM353.5 101.4h0.8v0.8h-0.8zM328.0 101.9h0.8v0.8h-0.8zM321.2 95.5h0.8v0.8h-0.8zM314.4 105.5h0.8v0.8h-0.8zM318.1 96.0h0.8v0.8h-0.8zM334.7 102.6h0.8v0.8h-0.8zM332.7 102.0h0.8v0.8h-0.8zM364.4 96.8h0.8v0.8h-0.8zM324.6 95.1h0.8v0.8h-0.8zM358.9 99.4h0.8v0.8h-0.8zM317.8 103.4h0.8v0.8h-0.8zM375.8 100.3h0.8v0.8h-0.8zM323.4 95.9h0.8v0.8h-0.8zM359.4 95.7h0.8v0.8h-0.8zM347.9 111.7h0.8v0.8h-0.8zM311.7 92.7h0.8v0.8h-0.8zM366.2 97.6h0.8v0.8h-0.8zM331.6 101.6h0.8v0.8h-0.8zM343.0 103.0h0.8v0.8h-0.8zM363.2 103.6h0.8v0.8h-0.8zM350.8 91.0h0.8v0.8h-0.8zM374.7 95.3h0.8v0.8h-0.8zM348.4 96.4h0.8v0.8h-0.8zM315.6 96.8h0.8v0.8h-0.8zM346.1 98.9h0.8v0.8h-0.8zM351.0 100.3h0.8v0.8h-0.8zM352.8 92.6h0.8v0.8h-0.8zM375.9 95.9h0.8v0.8h-0.8zM309.2 98.7h0.8v0.8h-0.8zM344.1 96.9h0.8v0.8h-0.8zM363.8 98.2h0.8v0.8h-0.8zM338.2 95.5h0.8v0.8h-0.8zM338.2 95.2h0.8v0.8h-0.8zM348.3 104.3h0.8v0.8h-0.8zM376.3 107.1h0.8v0.8h-0.8zM336.5 103.4h0.8v0.8h-0.8zM312.9 97.7h0.8v0.8h-0.8zM365.7 99.6h0.8v0.8h-0.8zM328.0 103.5h0.8v0.8h-0.8zM324.6 100.1h0.8v0.8h-0.8zM346.2 94.4h0.8v0.8h-0.8zM357.0 97.7h0.8v0.8h-0.8zM320.3 96.0h0.8v0.8h-0.8zM316.2 96.6h0.8v0.8h-0.8zM349.1 100.2h0.8v0.8h-0.8zM338.5 99.4h0.8v0.8h-0.8zM338.6 95.0h0.8v0.8h-0.8zM338.5 96.8h0.8v0.8h-0.8zM330.4 102.0h0.8v0.8h-0.8zM339.2 95.4h0.8v0.8h-0.8zM343.3 95.2h0.8v0.8h-0.8zM349.7 90.1h0.8v0.8h-0.8zM350.0 103.1h0.8v0.8h-0.8zM371.6 100.5h0.8v0.8h-0.8zM341.3 98.1h0.8v0.8h-0.8zM363.5 101.4h0.8v0.8h-0.8zM367.5 97.6h0.8v0.8h-0.8zM345.8 102.3h0.8v0.8h-0.8zM324.5 107.0h0.8v0.8h-0.8zM347.0 100.0h0.8v0.8h-0.8zM333.3 99.9h0.8v0.8h-0.8zM343.8 103.6h0.8v0.8h-0.8zM335.8 99.1h0.8v0.8h-0.8zM330.8 97.3h0.8v0.8h-0.8zM318.5 101.8h0.8v0.8h-0.8zM362.1 99.8h0.8v0.8h-0.8zM309.9 100.1h0.8v0.8h-0.8zM328.8 102.0h0.8v0.8h-0.8zM365.6 100.9h0.8v0.8h-0.8zM333.2 105.0h0.8v0.8h-0.8zM371.2 104.1h0.8v0.8h-0.8zM373.2 101.7h0.8v0.8h-0.8zM359.0 95.1h0.8v0.8h-0.8zM366.1 102.7h0.8v0.8h-0.8zM352.4 99.5h0.8v0.8h-0.8zM336.5 101.9h0.8v0.8h-0.8zM369.9 98.4h0.8v0.8h-0.8zM372.5 99.0h0.8v0.8h-0.8zM323.7 97.8h0.8v0.8h-0.8zM370.5 102.9h0.8v0.8h-0.8zM311.1 95.4h0.8v0.8h-0.8zM350.5 107.3h0.8v0.8h-0.8zM309.7 94.4h0.8v0.8h-0.8zM359.9 101.1h0.8v0.8h-0.8zM327.3 99.1h0.8v0.8h-0.8zM362.0 92.5h0.8v0.8h-0.8zM345.9 101.5h0.8v0.8h-0.8zM375.8 103.7h0.8v0.8h-0.8zM344.4 93.7h0.8v0.8h-0.8zM326.5 103.2h0.8v0.8h-0.8zM322.7 96.0h0.8v0.8h-0.8zM344.0 95.1h0.8v0.8h-0.8zM358.9 106.4h0.8v0.8h-0.8zM309.0 103.2h0.8v0.8h-0.8zM329.8 101.3h0.8v0.8h-0.8zM342.6 104.1h0.8v0.8h-0.8zM324.1 102.0h0.8v0.8h-0.8zM322.1 100.1h0.8v0.8h-0.8zM346.2 103.4h0.8v0.8h-0.8zM353.3 101.5h0.8v0.8h-0.8zM332.5 101.9h0.8v0.8h-0.8zM343.4 96.3h0.8v0.8h-0.8zM370.7 91.9h0.8v0.8h-0.8zM314.5 104.4h0.8v0.8h-0.8zM330.8 98.0h0.8v0.8h-0.8zM358.4 103.5h0.8v0.8h-0.8zM363.3 95.5h0.8v0.8h-0.8zM328.7 103.2h0.8v0.8h-0.8zM342.8 96.8h0.8v0.8h-0.8zM374.3 103.6h0.8v0.8h-0.8zM324.3 96.6h0.8v0.8h-0.8zM357.8 97.4h0.8v0.8h-0.8zM377.0 96.7h0.8v0.8h-0.8zM337.9 101.4h0.8v0.8h-0.8zM353.0 95.3h0.8v0.8h-0.8zM331.1 100.0h0.8v0.8h-0.8zM311.6 94.5h0.8v0.8h-0.8zM337.1 100.6h0.8v0.8h-0.8zM349.8 96.2h0.8v0.8h-0.8zM321.3 103.7h0.8v0.8h-0.8zM363.7 97.6h0.8v0.8h-0.8zM327.2 103.5h0.8v0.8h-0.8zM357.0 105.4h0.8v0.8h-0.8zM358.1 97.0h0.8v0.8h-0.8zM327.7 96.5h0.8v0.8h-0.8zM354.6 100.2h0.8v0.8h-0.8zM365.8 100.9h0.8v0.8h-0.8zM313.4 98.4h0.8v0.8h-0.8zM316.8 101.0h0.8v0.8h-0.8zM319.5 96.9h0.8v0.8h-0.8zM338.5 104.9h0.8v0.8h-0.8zM338.5 93.8h0.8v0.8h-0.8zM337.1 102.0h0.8v0.8h-0.8zM364.1 100.1h0.8v0.8h-0.8zM349.5 103.8h0.8v0.8h-0.8zM319.2 99.9h0.8v0.8h-0.8zM319.7 103.0h0.8v0.8h-0.8zM343.7 99.7h0.8v0.8h-0.8zM346.2 99.9h0.8v0.8h-0.8zM340.9 95.5h0.8v0.8h-0.8zM337.4 99.6h0.8v0.8h-0.8zM318.1 101.0h0.8v0.8h-0.8zM329.4 98.1h0.8v0.8h-0.8zM347.2 99.6h0.8v0.8h-0.8zM323.7 99.1h0.8v0.8h-0.8zM346.8 98.9h0.8v0.8h-0.8zM365.3 97.9h0.8v0.8h-0.8zM327.0 94.1h0.8v0.8h-0.8zM336.8 98.9h0.8v0.8h-0.8zM324.9 97.9h0.8v0.8h-0.8zM374.7 102.2h0.8v0.8h-0.8zM363.9 98.5h0.8v0.8h-0.8zM358.5 99.1h0.8v0.8h-0.8zM336.4 99.2h0.8v0.8h-0.8zM337.1 108.5h0.8v0.8h-0.8zM320.9 102.7h0.8v0.8h-0.8zM349.0 98.1h0.8v0.8h-0.8zM366.4 91.7h0.8v0.8h-0.8zM376.5 106.5h0.8v0.8h-0.8zM356.0 99.0h0.8v0.8h-0.8zM351.7 101.7h0.8v0.8h-0.8zM331.1 99.7h0.8v0.8h-0.8zM362.6 97.9h0.8v0.8h-0.8zM358.9 100.5h0.8v0.8h-0.8zM369.2 95.5h0.8v0.8h-0.8zM329.6 97.6h0.8v0.8h-0.8zM351.1 104.6h0.8v0.8h-0.8zM337.1 106.5h0.8v0.8h-0.8zM315.5 105.1h0.8v0.8h-0.8zM357.3 99.6h0.8v0.8h-0.8zM320.1 93.4h0.8v0.8h-0.8zM347.1 101.1h0.8v0.8h-0.8zM353.4 100.8h0.8v0.8h-0.8zM359.2 96.8h0.8v0.8h-0.8zM343.0 99.7h0.8v0.8h-0.8zM332.3 93.7h0.8v0.8h-0.8zM363.1 99.6h0.8v0.8h-0.8zM309.6 102.4h0.8v0.8h-0.8zM319.9 90.2h0.8v0.8h-0.8zM322.8 96.9h0.8v0.8h-0.8zM310.1 100.0h0.8v0.8h-0.8zM319.0 96.0h0.8v0.8h-0.8zM311.9 96.6h0.8v0.8h-0.8zM312.6 96.2h0.8v0.8h-0.8zM319.3 90.3h0.8v0.8h-0.8zM317.1 102.7h0.8v0.8h-0.8zM315.9 90.5h0.8v0.8h-0.8zM318.5 89.0h0.8v0.8h-0.8zM314.6 93.8h0.8v0.8h-0.8zM318.5 99.0h0.8v0.8h-0.8zM313.9 101.0h0.8v0.8h-0.8zM317.4 93.5h0.8v0.8h-0.8zM308.9 103.2h0.8v0.8h-0.8zM311.3 96.5h0.8v0.8h-0.8zM312.6 93.5h0.8v0.8h-0.8zM312.6 98.3h0.8v0.8h-0.8zM310.9 89.9h0.8v0.8h-0.8zM308.5 95.0h0.8v0.8h-0.8zM314.2 97.5h0.8v0.8h-0.8zM311.4 96.9h0.8v0.8h-0.8zM313.7 100.7h0.8v0.8h-0.8zM312.9 95.6h0.8v0.8h-0.8zM315.6 99.1h0.8v0.8h-0.8zM309.1 93.5h0.8v0.8h-0.8zM318.7 98.6h0.8v0.8h-0.8zM313.2 106.2h0.8v0.8h-0.8zM318.6 101.8h0.8v0.8h-0.8zM319.9 98.1h0.8v0.8h-0.8zM314.9 91.2h0.8v0.8h-0.8zM313.3 97.6h0.8v0.8h-0.8zM317.4 95.7h0.8v0.8h-0.8zM310.8 97.6h0.8v0.8h-0.8zM309.8 94.8h0.8v0.8h-0.8zM316.4 90.3h0.8v0.8h-0.8zM309.1 91.0h0.8v0.8h-0.8zM312.7 97.5h0.8v0.8h-0.8zM312.9 98.1h0.8v0.8h-0.8zM313.5 94.4h0.8v0.8h-0.8zM315.2 94.3h0.8v0.8h-0.8zM313.7 98.5h0.8v0.8h-0.8zM310.6 98.9h0.8v0.8h-0.8zM320.0 96.3h0.8v0.8h-0.8zM318.6 90.2h0.8v0.8h-0.8zM308.7 96.6h0.8v0.8h-0.8zM316.7 97.9h0.8v0.8h-0.8zM312.8 95.5h0.8v0.8h-0.8zM315.2 94.2h0.8v0.8h-0.8zM312.5 99.4h0.8v0.8h-0.8zM310.0 92.6h0.8v0.8h-0.8zM313.4 93.5h0.8v0.8h-0.8zM312.1 91.9h0.8v0.8h-0.8zM315.2 91.1h0.8v0.8h-0.8zM315.5 92.9h0.8v0.8h-0.8zM316.5 92.2h0.8v0.8h-0.8zM315.0 96.6h0.8v0.8h-0.8zM312.8 100.5h0.8v0.8h-0.8zM313.9 92.2h0.8v0.8h-0.8zM316.1 92.4h0.8v0.8h-0.8zM310.8 95.1h0.8v0.8h-0.8zM313.9 100.7h0.8v0.8h-0.8zM318.0 94.6h0.8v0.8h-0.8zM314.5 100.2h0.8v0.8h-0.8zM316.5 93.2h0.8v0.8h-0.8zM313.9 95.7h0.8v0.8h-0.8zM321.1 99.5h0.8v0.8h-0.8zM317.1 100.5h0.8v0.8h-0.8zM312.4 93.3h0.8v0.8h-0.8zM313.7 100.2h0.8v0.8h-0.8zM315.8 100.7h0.8v0.8h-0.8zM316.5 93.2h0.8v0.8h-0.8zM308.7 101.2h0.8v0.8h-0.8zM311.7 92.1h0.8v0.8h-0.8zM310.6 95.1h0.8v0.8h-0.8zM323.4 94.9h0.8v0.8h-0.8zM310.8 95.5h0.8v0.8h-0.8zM317.2 92.4h0.8v0.8h-0.8zM311.3 89.3h0.8v0.8h-0.8zM316.2 97.4h0.8v0.8h-0.8zM319.6 91.1h0.8v0.8h-0.8zM322.6 98.0h0.8v0.8h-0.8zM311.9 93.8h0.8v0.8h-0.8zM311.8 91.1h0.8v0.8h-0.8zM316.5 93.1h0.8v0.8h-0.8zM310.0 96.8h0.8v0.8h-0.8zM313.6 93.2h0.8v0.8h-0.8zM312.1 93.5h0.8v0.8h-0.8zM319.0 98.4h0.8v0.8h-0.8zM309.9 95.0h0.8v0.8h-0.8zM319.1 94.1h0.8v0.8h-0.8zM320.9 96.6h0.8v0.8h-0.8zM316.8 96.2h0.8v0.8h-0.8zM315.6 96.7h0.8v0.8h-0.8zM315.4 93.4h0.8v0.8h-0.8zM317.0 95.3h0.8v0.8h-0.8zM308.5 91.7h0.8v0.8h-0.8zM313.8 96.2h0.8v0.8h-0.8zM317.7 95.1h0.8v0.8h-0.8zM325.5 90.0h0.8v0.8h-0.8zM312.0 93.1h0.8v0.8h-0.8zM315.5 99.8h0.8v0.8h-0.8zM320.1 91.8h0.8v0.8h-0.8zM318.5 91.1h0.8v0.8h-0.8zM314.4 95.7h0.8v0.8h-0.8zM315.8 92.4h0.8v0.8h-0.8zM318.9 94.9h0.8v0.8h-0.8zM313.0 94.2h0.8v0.8h-0.8zM308.5 97.5h0.8v0.8h-0.8zM314.6 96.6h0.8v0.8h-0.8zM431.8 98.8h0.8v0.8h-0.8zM418.4 99.7h0.8v0.8h-0.8zM423.9 93.9h0.8v0.8h-0.8zM418.0 96.3h0.8v0.8h-0.8zM426.3 94.0h0.8v0.8h-0.8zM426.1 95.5h0.8v0.8h-0.8zM438.5 97.4h0.8v0.8h-0.8zM421.8 97.4h0.8v0.8h-0.8zM416.8 93.5h0.8v0.8h-0.8zM424.6 87.8h0.8v0.8h-0.8zM437.0 103.0h0.8v0.8h-0.8zM415.8 96.4h0.8v0.8h-0.8zM411.4 97.3h0.8v0.8h-0.8zM428.1 99.1h0.8v0.8h-0.8zM413.7 94.9h0.8v0.8h-0.8zM420.1 96.0h0.8v0.8h-0.8zM425.7 95.2h0.8v0.8h-0.8zM433.5 104.9h0.8v0.8h-0.8zM436.9 101.6h0.8v0.8h-0.8zM416.1 100.1h0.8v0.8h-0.8zM426.4 100.7h0.8v0.8h-0.8zM436.0 98.9h0.8v0.8h-0.8zM410.5 97.2h0.8v0.8h-0.8zM421.4 98.2h0.8v0.8h-0.8zM426.5 100.1h0.8v0.8h-0.8zM411.2 94.5h0.8v0.8h-0.8zM425.4 97.8h0.8v0.8h-0.8zM422.3 96.7h0.8v0.8h-0.8zM426.6 100.1h0.8v0.8h-0.8zM425.0 97.6h0.8v0.8h-0.8zM409.2 88.6h0.8v0.8h-0.8zM412.5 97.9h0.8v0.8h-0.8zM425.2 96.8h0.8v0.8h-0.8zM419.3 95.5h0.8v0.8h-0.8zM433.8 97.9h0.8v0.8h-0.8zM425.9 95.3h0.8v0.8h-0.8zM428.1 100.5h0.8v0.8h-0.8zM425.9 95.6h0.8v0.8h-0.8zM415.1 97.1h0.8v0.8h-0.8zM417.5 92.3h0.8v0.8h-0.8zM434.2 94.8h0.8v0.8h-0.8zM407.1 94.5h0.8v0.8h-0.8zM413.7 93.3h0.8v0.8h-0.8zM432.8 98.1h0.8v0.8h-0.8zM428.1 96.2h0.8v0.8h-0.8zM430.6 101.6h0.8v0.8h-0.8zM430.6 96.3h0.8v0.8h-0.8zM413.1 98.2h0.8v0.8h-0.8zM440.7 98.8h0.8v0.8h-0.8zM414.4 97.4h0.8v0.8h-0.8zM438.2 94.8h0.8v0.8h-0.8zM430.7 100.6h0.8v0.8h-0.8zM441.4 91.8h0.8v0.8h-0.8zM409.8 98.0h0.8v0.8h-0.8zM432.7 95.7h0.8v0.8h-0.8zM425.9 95.5h0.8v0.8h-0.8zM437.3 89.8h0.8v0.8h-0.8zM428.5 92.8h0.8v0.8h-0.8zM419.8 92.0h0.8v0.8h-0.8zM417.6 96.7h0.8v0.8h-0.8zM426.3 102.4h0.8v0.8h-0.8zM424.0 97.9h0.8v0.8h-0.8zM429.4 97.6h0.8v0.8h-0.8zM439.8 97.2h0.8v0.8h-0.8zM427.5 96.4h0.8v0.8h-0.8zM426.1 96.6h0.8v0.8h-0.8zM435.4 96.9h0.8v0.8h-0.8zM426.7 96.7h0.8v0.8h-0.8zM433.2 95.3h0.8v0.8h-0.8zM434.9 95.0h0.8v0.8h-0.8zM432.6 102.9h0.8v0.8h-0.8zM428.3 96.5h0.8v0.8h-0.8zM415.1 99.1h0.8v0.8h-0.8zM426.2 99.7h0.8v0.8h-0.8zM420.0 98.4h0.8v0.8h-0.8zM423.0 92.7h0.8v0.8h-0.8zM426.0 98.9h0.8v0.8h-0.8zM431.7 93.3h0.8v0.8h-0.8zM416.5 93.7h0.8v0.8h-0.8zM416.6 95.9h0.8v0.8h-0.8zM428.6 102.9h0.8v0.8h-0.8zM427.9 101.4h0.8v0.8h-0.8zM410.6 101.7h0.8v0.8h-0.8zM433.6 98.2h0.8v0.8h-0.8zM433.8 98.7h0.8v0.8h-0.8zM409.8 91.3h0.8v0.8h-0.8zM441.2 96.5h0.8v0.8h-0.8zM438.5 95.7h0.8v0.8h-0.8zM420.0 95.7h0.8v0.8h-0.8zM429.1 97.4h0.8v0.8h-0.8zM420.3 98.5h0.8v0.8h-0.8zM431.9 93.9h0.8v0.8h-0.8zM415.7 90.6h0.8v0.8h-0.8zM423.2 96.8h0.8v0.8h-0.8zM419.6 94.9h0.8v0.8h-0.8zM424.8 96.9h0.8v0.8h-0.8zM431.4 99.4h0.8v0.8h-0.8zM430.2 100.3h0.8v0.8h-0.8zM417.0 98.7h0.8v0.8h-0.8zM429.6 93.5h0.8v0.8h-0.8zM419.7 98.2h0.8v0.8h-0.8zM426.8 92.8h0.8v0.8h-0.8zM420.9 101.6h0.8v0.8h-0.8zM434.0 97.1h0.8v0.8h-0.8zM438.7 93.9h0.8v0.8h-0.8zM424.5 99.8h0.8v0.8h-0.8zM422.9 93.3h0.8v0.8h-0.8zM431.6 101.9h0.8v0.8h-0.8zM414.4 95.9h0.8v0.8h-0.8zM412.8 105.0h0.8v0.8h-0.8zM419.7 96.9h0.8v0.8h-0.8zM419.5 93.7h0.8v0.8h-0.8zM421.8 97.5h0.8v0.8h-0.8zM440.8 93.4h0.8v0.8h-0.8zM426.8 95.4h0.8v0.8h-0.8zM411.4 108.6h0.8v0.8h-0.8zM423.8 97.6h0.8v0.8h-0.8zM419.0 95.0h0.8v0.8h-0.8zM416.4 100.0h0.8v0.8h-0.8zM422.3 96.3h0.8v0.8h-0.8zM427.8 92.9h0.8v0.8h-0.8zM428.3 96.3h0.8v0.8h-0.8zM430.3 95.6h0.8v0.8h-0.8zM426.5 98.4h0.8v0.8h-0.8zM435.2 94.6h0.8v0.8h-0.8zM435.2 93.7h0.8v0.8h-0.8zM424.3 97.2h0.8v0.8h-0.8zM427.5 88.9h0.8v0.8h-0.8zM416.9 96.2h0.8v0.8h-0.8zM434.8 94.6h0.8v0.8h-0.8zM440.3 91.1h0.8v0.8h-0.8zM426.8 98.5h0.8v0.8h-0.8zM426.3 97.6h0.8v0.8h-0.8zM434.9 94.3h0.8v0.8h-0.8zM431.6 100.2h0.8v0.8h-0.8zM423.9 89.5h0.8v0.8h-0.8zM414.9 94.1h0.8v0.8h-0.8zM416.2 98.2h0.8v0.8h-0.8zM418.5 104.6h0.8v0.8h-0.8zM431.5 92.7h0.8v0.8h-0.8zM423.4 101.6h0.8v0.8h-0.8zM432.5 93.6h0.8v0.8h-0.8zM435.8 95.3h0.8v0.8h-0.8zM431.7 98.6h0.8v0.8h-0.8zM421.9 96.3h0.8v0.8h-0.8zM437.0 98.4h0.8v0.8h-0.8zM425.5 98.2h0.8v0.8h-0.8zM430.6 97.8h0.8v0.8h-0.8zM411.4 97.2h0.8v0.8h-0.8zM421.5 99.1h0.8v0.8h-0.8zM420.4 98.2h0.8v0.8h-0.8zM416.2 99.6h0.8v0.8h-0.8zM419.3 96.7h0.8v0.8h-0.8zM431.5 95.8h0.8v0.8h-0.8zM426.2 100.2h0.8v0.8h-0.8zM417.6 98.9h0.8v0.8h-0.8zM434.9 95.3h0.8v0.8h-0.8zM427.0 96.2h0.8v0.8h-0.8zM414.9 91.9h0.8v0.8h-0.8zM414.1 100.9h0.8v0.8h-0.8zM422.4 103.0h0.8v0.8h-0.8zM432.1 98.0h0.8v0.8h-0.8zM432.2 99.3h0.8v0.8h-0.8zM434.7 93.7h0.8v0.8h-0.8zM420.9 95.1h0.8v0.8h-0.8zM427.1 96.0h0.8v0.8h-0.8zM414.5 94.6h0.8v0.8h-0.8zM418.1 98.0h0.8v0.8h-0.8zM425.8 94.1h0.8v0.8h-0.8zM432.8 96.6h0.8v0.8h-0.8zM441.8 98.2h0.8v0.8h-0.8zM423.2 88.4h0.8v0.8h-0.8zM425.1 99.5h0.8v0.8h-0.8zM419.4 99.6h0.8v0.8h-0.8zM432.5 91.2h0.8v0.8h-0.8zM424.3 97.8h0.8v0.8h-0.8zM433.2 97.3h0.8v0.8h-0.8zM426.0 95.7h0.8v0.8h-0.8zM423.4 96.8h0.8v0.8h-0.8zM416.1 98.8h0.8v0.8h-0.8zM423.0 98.5h0.8v0.8h-0.8zM421.3 98.1h0.8v0.8h-0.8zM427.3 99.6h0.8v0.8h-0.8zM430.4 99.7h0.8v0.8h-0.8zM424.5 96.6h0.8v0.8h-0.8zM423.6 92.8h0.8v0.8h-0.8zM424.9 100.2h0.8v0.8h-0.8zM433.3 94.1h0.8v0.8h-0.8zM428.9 99.2h0.8v0.8h-0.8zM413.4 97.9h0.8v0.8h-0.8zM429.2 99.2h0.8v0.8h-0.8zM428.5 91.3h0.8v0.8h-0.8zM407.2 103.1h0.8v0.8h-0.8zM422.4 100.8h0.8v0.8h-0.8zM438.0 97.1h0.8v0.8h-0.8zM415.4 101.1h0.8v0.8h-0.8zM425.8 98.4h0.8v0.8h-0.8zM430.6 99.8h0.8v0.8h-0.8zM435.6 92.3h0.8v0.8h-0.8zM412.9 97.2h0.8v0.8h-0.8zM426.2 99.3h0.8v0.8h-0.8zM424.8 96.2h0.8v0.8h-0.8zM437.0 100.1h0.8v0.8h-0.8zM418.7 96.5h0.8v0.8h-0.8zM425.4 93.3h0.8v0.8h-0.8zM418.0 97.3h0.8v0.8h-0.8zM414.7 98.5h0.8v0.8h-0.8zM430.5 96.1h0.8v0.8h-0.8zM422.9 98.7h0.8v0.8h-0.8zM430.6 98.0h0.8v0.8h-0.8zM414.7 91.7h0.8v0.8h-0.8zM422.7 91.0h0.8v0.8h-0.8zM418.6 94.5h0.8v0.8h-0.8zM433.6 88.4h0.8v0.8h-0.8zM413.0 95.5h0.8v0.8h-0.8zM421.5 94.3h0.8v0.8h-0.8zM422.0 91.8h0.8v0.8h-0.8zM428.6 100.6h0.8v0.8h-0.8zM427.5 95.1h0.8v0.8h-0.8zM437.9 98.3h0.8v0.8h-0.8zM416.5 95.0h0.8v0.8h-0.8zM420.4 96.7h0.8v0.8h-0.8zM437.4 94.6h0.8v0.8h-0.8zM424.7 97.2h0.8v0.8h-0.8zM415.0 95.3h0.8v0.8h-0.8zM431.8 100.4h0.8v0.8h-0.8zM408.6 99.0h0.8v0.8h-0.8zM423.4 100.9h0.8v0.8h-0.8zM431.9 103.0h0.8v0.8h-0.8zM429.0 95.5h0.8v0.8h-0.8zM418.3 92.3h0.8v0.8h-0.8zM431.3 98.4h0.8v0.8h-0.8zM433.8 97.9h0.8v0.8h-0.8zM412.1 95.5h0.8v0.8h-0.8zM423.8 97.3h0.8v0.8h-0.8zM433.3 101.3h0.8v0.8h-0.8zM428.8 90.3h0.8v0.8h-0.8zM416.6 90.1h0.8v0.8h-0.8zM419.0 93.0h0.8v0.8h-0.8zM428.3 96.1h0.8v0.8h-0.8zM436.5 100.2h0.8v0.8h-0.8zM421.9 99.8h0.8v0.8h-0.8zM426.2 98.2h0.8v0.8h-0.8zM438.7 93.2h0.8v0.8h-0.8zM425.5 101.7h0.8v0.8h-0.8zM419.0 97.5h0.8v0.8h-0.8zM427.3 95.5h0.8v0.8h-0.8zM413.9 94.6h0.8v0.8h-0.8zM416.9 100.2h0.8v0.8h-0.8zM428.4 99.0h0.8v0.8h-0.8zM415.0 98.4h0.8v0.8h-0.8zM427.4 100.1h0.8v0.8h-0.8zM419.4 99.4h0.8v0.8h-0.8zM438.9 102.5h0.8v0.8h-0.8zM417.4 93.3h0.8v0.8h-0.8zM412.5 99.8h0.8v0.8h-0.8zM431.6 97.9h0.8v0.8h-0.8zM418.0 100.8h0.8v0.8h-0.8zM441.1 96.7h0.8v0.8h-0.8zM425.0 100.6h0.8v0.8h-0.8zM430.8 101.1h0.8v0.8h-0.8zM422.3 97.9h0.8v0.8h-0.8zM423.0 95.0h0.8v0.8h-0.8zM423.3 95.9h0.8v0.8h-0.8zM430.8 95.8h0.8v0.8h-0.8zM426.8 94.2h0.8v0.8h-0.8zM414.7 101.3h0.8v0.8h-0.8zM416.9 102.5h0.8v0.8h-0.8zM434.9 89.6h0.8v0.8h-0.8zM420.2 95.5h0.8v0.8h-0.8zM426.3 96.2h0.8v0.8h-0.8zM420.5 100.8h0.8v0.8h-0.8zM424.9 99.8h0.8v0.8h-0.8zM419.7 94.6h0.8v0.8h-0.8zM438.5 95.9h0.8v0.8h-0.8zM415.9 96.3h0.8v0.8h-0.8zM435.9 96.3h0.8v0.8h-0.8zM419.4 98.8h0.8v0.8h-0.8zM435.2 96.2h0.8v0.8h-0.8zM423.1 95.7h0.8v0.8h-0.8zM429.9 90.4h0.8v0.8h-0.8zM427.8 97.0h0.8v0.8h-0.8zM423.2 95.5h0.8v0.8h-0.8zM413.4 92.1h0.8v0.8h-0.8zM427.7 94.8h0.8v0.8h-0.8zM425.3 96.2h0.8v0.8h-0.8zM421.4 94.5h0.8v0.8h-0.8zM421.4 95.9h0.8v0.8h-0.8zM415.4 93.8h0.8v0.8h-0.8zM434.1 99.7h0.8v0.8h-0.8zM427.3 107.1h0.8v0.8h-0.8zM433.8 100.7h0.8v0.8h-0.8zM418.5 100.2h0.8v0.8h-0.8zM441.8 95.6h0.8v0.8h-0.8zM415.6 96.7h0.8v0.8h-0.8zM418.6 98.8h0.8v0.8h-0.8zM415.8 97.1h0.8v0.8h-0.8zM407.9 96.7h0.8v0.8h-0.8zM435.9 96.0h0.8v0.8h-0.8zM429.0 100.3h0.8v0.8h-0.8zM415.9 92.8h0.8v0.8h-0.8zM426.9 97.7h0.8v0.8h-0.8zM423.6 93.7h0.8v0.8h-0.8zM437.4 93.1h0.8v0.8h-0.8zM423.7 96.7h0.8v0.8h-0.8zM432.8 95.4h0.8v0.8h-0.8zM418.5 103.2h0.8v0.8h-0.8zM418.3 99.3h0.8v0.8h-0.8zM424.7 95.3h0.8v0.8h-0.8zM425.7 96.0h0.8v0.8h-0.8zM429.0 88.8h0.8v0.8h-0.8zM425.9 97.0h0.8v0.8h-0.8zM417.1 95.6h0.8v0.8h-0.8zM432.1 97.5h0.8v0.8h-0.8zM423.3 101.2h0.8v0.8h-0.8zM422.0 94.2h0.8v0.8h-0.8zM432.5 93.8h0.8v0.8h-0.8zM418.8 101.4h0.8v0.8h-0.8zM411.2 96.6h0.8v0.8h-0.8zM427.2 97.6h0.8v0.8h-0.8zM412.6 96.1h0.8v0.8h-0.8zM423.0 102.9h0.8v0.8h-0.8zM435.4 94.4h0.8v0.8h-0.8zM434.2 98.9h0.8v0.8h-0.8zM425.1 96.0h0.8v0.8h-0.8zM423.6 91.9h0.8v0.8h-0.8zM420.3 99.8h0.8v0.8h-0.8zM439.5 102.7h0.8v0.8h-0.8zM422.6 98.8h0.8v0.8h-0.8zM414.4 99.4h0.8v0.8h-0.8zM410.7 93.5h0.8v0.8h-0.8zM415.9 98.1h0.8v0.8h-0.8zM433.9 93.9h0.8v0.8h-0.8zM418.4 97.9h0.8v0.8h-0.8zM426.0 99.4h0.8v0.8h-0.8zM429.3 103.7h0.8v0.8h-0.8zM436.9 94.8h0.8v0.8h-0.8zM433.4 99.2h0.8v0.8h-0.8zM416.8 94.4h0.8v0.8h-0.8zM418.6 89.0h0.8v0.8h-0.8zM432.0 96.1h0.8v0.8h-0.8zM437.5 95.1h0.8v0.8h-0.8zM426.8 99.1h0.8v0.8h-0.8zM435.1 97.8h0.8v0.8h-0.8zM416.5 103.8h0.8v0.8h-0.8zM434.2 101.1h0.8v0.8h-0.8zM441.1 101.2h0.8v0.8h-0.8zM430.0 98.3h0.8v0.8h-0.8zM432.0 92.1h0.8v0.8h-0.8zM433.6 93.7h0.8v0.8h-0.8zM430.0 93.6h0.8v0.8h-0.8zM432.7 95.3h0.8v0.8h-0.8zM430.8 94.0h0.8v0.8h-0.8zM423.4 96.6h0.8v0.8h-0.8zM423.4 95.4h0.8v0.8h-0.8zM418.0 99.2h0.8v0.8h-0.8zM422.6 94.2h0.8v0.8h-0.8zM429.5 94.3h0.8v0.8h-0.8zM424.5 95.2h0.8v0.8h-0.8zM417.5 96.1h0.8v0.8h-0.8zM418.5 92.9h0.8v0.8h-0.8zM429.4 95.9h0.8v0.8h-0.8zM412.6 95.6h0.8v0.8h-0.8zM427.8 98.2h0.8v0.8h-0.8zM429.6 97.6h0.8v0.8h-0.8zM431.6 95.3h0.8v0.8h-0.8zM418.7 98.8h0.8v0.8h-0.8zM422.3 96.9h0.8v0.8h-0.8zM432.1 99.8h0.8v0.8h-0.8zM437.4 94.7h0.8v0.8h-0.8zM422.7 98.6h0.8v0.8h-0.8zM412.9 92.9h0.8v0.8h-0.8zM431.7 94.9h0.8v0.8h-0.8zM417.6 99.4h0.8v0.8h-0.8zM431.0 99.7h0.8v0.8h-0.8zM423.0 95.9h0.8v0.8h-0.8zM423.0 97.8h0.8v0.8h-0.8zM407.3 94.6h0.8v0.8h-0.8zM432.7 94.4h0.8v0.8h-0.8zM425.5 97.2h0.8v0.8h-0.8zM430.9 95.3h0.8v0.8h-0.8zM415.6 104.7h0.8v0.8h-0.8zM419.5 102.2h0.8v0.8h-0.8zM409.9 97.2h0.8v0.8h-0.8zM424.3 102.8h0.8v0.8h-0.8zM416.7 94.3h0.8v0.8h-0.8zM419.2 95.2h0.8v0.8h-0.8zM428.5 94.4h0.8v0.8h-0.8zM423.8 101.5h0.8v0.8h-0.8zM439.4 91.0h0.8v0.8h-0.8zM417.3 95.7h0.8v0.8h-0.8zM438.1 95.8h0.8v0.8h-0.8zM439.4 94.1h0.8v0.8h-0.8zM423.2 100.0h0.8v0.8h-0.8zM431.4 91.0h0.8v0.8h-0.8zM423.6 97.4h0.8v0.8h-0.8zM431.9 94.8h0.8v0.8h-0.8zM442.2 97.3h0.8v0.8h-0.8zM439.5 98.1h0.8v0.8h-0.8zM426.9 95.8h0.8v0.8h-0.8zM415.3 99.6h0.8v0.8h-0.8zM433.1 99.8h0.8v0.8h-0.8zM422.6 93.7h0.8v0.8h-0.8zM422.6 95.8h0.8v0.8h-0.8zM426.0 99.9h0.8v0.8h-0.8zM417.7 95.3h0.8v0.8h-0.8zM432.5 99.7h0.8v0.8h-0.8zM418.3 93.6h0.8v0.8h-0.8zM418.8 97.1h0.8v0.8h-0.8zM428.4 96.6h0.8v0.8h-0.8zM420.5 96.3h0.8v0.8h-0.8zM425.4 98.7h0.8v0.8h-0.8zM426.9 94.3h0.8v0.8h-0.8zM415.3 101.5h0.8v0.8h-0.8zM425.3 96.3h0.8v0.8h-0.8zM425.9 100.4h0.8v0.8h-0.8zM423.2 97.4h0.8v0.8h-0.8zM423.9 98.7h0.8v0.8h-0.8zM416.8 97.5h0.8v0.8h-0.8zM435.6 100.6h0.8v0.8h-0.8zM431.8 97.8h0.8v0.8h-0.8zM440.6 99.1h0.8v0.8h-0.8zM439.0 93.1h0.8v0.8h-0.8zM416.0 99.3h0.8v0.8h-0.8zM423.7 95.5h0.8v0.8h-0.8zM417.4 101.5h0.8v0.8h-0.8zM415.1 97.2h0.8v0.8h-0.8zM413.3 96.3h0.8v0.8h-0.8zM421.6 93.7h0.8v0.8h-0.8zM441.1 94.2h0.8v0.8h-0.8zM425.2 109.4h0.8v0.8h-0.8zM415.2 114.8h0.8v0.8h-0.8zM414.0 105.5h0.8v0.8h-0.8zM410.3 111.5h0.8v0.8h-0.8zM434.7 114.0h0.8v0.8h-0.8zM436.4 118.4h0.8v0.8h-0.8zM432.2 108.2h0.8v0.8h-0.8zM423.2 104.9h0.8v0.8h-0.8zM419.0 108.6h0.8v0.8h-0.8zM409.1 110.5h0.8v0.8h-0.8zM431.0 111.8h0.8v0.8h-0.8zM411.0 115.1h0.8v0.8h-0.8zM412.8 117.2h0.8v0.8h-0.8zM419.0 107.2h0.8v0.8h-0.8zM434.3 110.1h0.8v0.8h-0.8zM417.7 117.5h0.8v0.8h-0.8zM435.7 118.8h0.8v0.8h-0.8zM433.5 107.4h0.8v0.8h-0.8zM432.6 106.9h0.8v0.8h-0.8zM428.9 103.7h0.8v0.8h-0.8zM409.4 114.4h0.8v0.8h-0.8zM417.3 119.0h0.8v0.8h-0.8zM411.0 112.8h0.8v0.8h-0.8zM420.0 118.6h0.8v0.8h-0.8zM429.5 109.0h0.8v0.8h-0.8zM425.3 122.0h0.8v0.8h-0.8zM411.4 114.1h0.8v0.8h-0.8zM417.9 108.5h0.8v0.8h-0.8zM419.8 121.0h0.8v0.8h-0.8zM409.1 110.9h0.8v0.8h-0.8zM433.8 116.2h0.8v0.8h-0.8zM427.3 122.6h0.8v0.8h-0.8zM434.4 115.3h0.8v0.8h-0.8zM430.3 122.0h0.8v0.8h-0.8zM417.6 122.0h0.8v0.8h-0.8zM424.0 119.7h0.8v0.8h-0.8zM410.4 108.1h0.8v0.8h-0.8zM414.0 106.2h0.8v0.8h-0.8zM431.3 116.6h0.8v0.8h-0.8zM422.5 106.4h0.8v0.8h-0.8zM411.0 107.0h0.8v0.8h-0.8zM427.0 119.0h0.8v0.8h-0.8zM427.1 119.4h0.8v0.8h-0.8zM429.4 115.0h0.8v0.8h-0.8zM412.8 116.9h0.8v0.8h-0.8zM433.9 106.5h0.8v0.8h-0.8zM411.5 110.7h0.8v0.8h-0.8zM421.7 117.6h0.8v0.8h-0.8zM415.6 109.3h0.8v0.8h-0.8zM408.3 111.7h0.8v0.8h-0.8zM415.3 105.4h0.8v0.8h-0.8zM432.2 122.4h0.8v0.8h-0.8zM416.1 123.3h0.8v0.8h-0.8zM419.5 115.7h0.8v0.8h-0.8zM441.9 109.8h0.8v0.8h-0.8zM427.2 121.6h0.8v0.8h-0.8zM435.1 115.1h0.8v0.8h-0.8zM423.0 107.0h0.8v0.8h-0.8zM437.4 113.8h0.8v0.8h-0.8zM435.4 117.8h0.8v0.8h-0.8zM413.5 114.4h0.8v0.8h-0.8zM406.3 113.8h0.8v0.8h-0.8zM436.0 111.6h0.8v0.8h-0.8zM432.3 110.2h0.8v0.8h-0.8zM429.9 110.1h0.8v0.8h-0.8zM428.2 119.2h0.8v0.8h-0.8zM417.4 120.4h0.8v0.8h-0.8zM412.0 107.7h0.8v0.8h-0.8zM417.1 120.3h0.8v0.8h-0.8zM426.8 108.9h0.8v0.8h-0.8zM435.3 118.0h0.8v0.8h-0.8zM416.6 109.2h0.8v0.8h-0.8zM423.7 120.2h0.8v0.8h-0.8zM421.2 107.8h0.8v0.8h-0.8zM410.8 109.1h0.8v0.8h-0.8zM423.1 104.7h0.8v0.8h-0.8zM432.6 114.0h0.8v0.8h-0.8zM420.8 107.8h0.8v0.8h-0.8zM418.7 118.1h0.8v0.8h-0.8zM422.8 105.6h0.8v0.8h-0.8zM431.9 116.1h0.8v0.8h-0.8zM412.5 109.5h0.8v0.8h-0.8zM422.1 121.3h0.8v0.8h-0.8zM434.4 108.0h0.8v0.8h-0.8zM412.4 120.8h0.8v0.8h-0.8zM421.8 118.8h0.8v0.8h-0.8zM414.2 107.7h0.8v0.8h-0.8zM429.6 116.9h0.8v0.8h-0.8zM417.2 107.0h0.8v0.8h-0.8zM419.0 122.8h0.8v0.8h-0.8zM431.9 116.1h0.8v0.8h-0.8zM428.9 105.5h0.8v0.8h-0.8zM420.3 107.1h0.8v0.8h-0.8zM431.4 107.2h0.8v0.8h-0.8zM428.9 107.4h0.8v0.8h-0.8zM423.0 121.8h0.8v0.8h-0.8zM415.2 114.4h0.8v0.8h-0.8zM435.7 107.9h0.8v0.8h-0.8zM425.8 112.9h0.8v0.8h-0.8zM412.2 110.2h0.8v0.8h-0.8zM416.6 116.2h0.8v0.8h-0.8zM412.7 113.4h0.8v0.8h-0.8zM422.0 120.8h0.8v0.8h-0.8zM431.4 105.8h0.8v0.8h-0.8zM419.7 108.7h0.8v0.8h-0.8zM414.6 113.1h0.8v0.8h-0.8zM433.3 113.7h0.8v0.8h-0.8zM409.3 116.4h0.8v0.8h-0.8zM411.1 114.9h0.8v0.8h-0.8zM433.7 116.9h0.8v0.8h-0.8zM440.7 115.6h0.8v0.8h-0.8zM427.2 105.2h0.8v0.8h-0.8zM422.6 117.3h0.8v0.8h-0.8zM432.0 110.9h0.8v0.8h-0.8zM437.0 110.7h0.8v0.8h-0.8zM411.6 111.4h0.8v0.8h-0.8zM433.9 113.6h0.8v0.8h-0.8zM421.3 123.6h0.8v0.8h-0.8zM422.9 123.1h0.8v0.8h-0.8zM434.0 111.6h0.8v0.8h-0.8zM420.3 107.2h0.8v0.8h-0.8zM418.3 119.6h0.8v0.8h-0.8zM429.0 107.0h0.8v0.8h-0.8zM424.8 108.5h0.8v0.8h-0.8zM417.5 118.6h0.8v0.8h-0.8zM429.9 117.8h0.8v0.8h-0.8zM407.3 109.4h0.8v0.8h-0.8zM431.3 119.1h0.8v0.8h-0.8zM438.7 114.3h0.8v0.8h-0.8zM433.3 115.2h0.8v0.8h-0.8zM432.8 108.4h0.8v0.8h-0.8zM431.4 118.8h0.8v0.8h-0.8zM420.1 117.2h0.8v0.8h-0.8zM406.8 110.8h0.8v0.8h-0.8zM413.7 118.2h0.8v0.8h-0.8zM434.7 112.3h0.8v0.8h-0.8zM415.5 124.7h0.8v0.8h-0.8zM413.6 116.4h0.8v0.8h-0.8zM435.1 106.7h0.8v0.8h-0.8zM416.8 104.2h0.8v0.8h-0.8zM419.3 100.9h0.8v0.8h-0.8zM409.6 113.1h0.8v0.8h-0.8zM413.8 109.5h0.8v0.8h-0.8zM425.8 105.6h0.8v0.8h-0.8zM430.1 115.2h0.8v0.8h-0.8zM411.1 114.4h0.8v0.8h-0.8zM409.7 119.5h0.8v0.8h-0.8zM414.8 114.8h0.8v0.8h-0.8zM431.7 109.0h0.8v0.8h-0.8zM420.5 120.6h0.8v0.8h-0.8zM433.8 119.0h0.8v0.8h-0.8zM431.0 106.6h0.8v0.8h-0.8zM415.5 118.8h0.8v0.8h-0.8zM437.8 107.2h0.8v0.8h-0.8zM428.8 113.2h0.8v0.8h-0.8zM418.1 121.7h0.8v0.8h-0.8zM409.5 113.3h0.8v0.8h-0.8zM435.2 114.1h0.8v0.8h-0.8zM416.3 104.7h0.8v0.8h-0.8zM431.0 120.6h0.8v0.8h-0.8zM435.0 118.1h0.8v0.8h-0.8zM435.0 120.5h0.8v0.8h-0.8zM434.3 106.8h0.8v0.8h-0.8zM436.8 115.7h0.8v0.8h-0.8zM418.9 110.1h0.8v0.8h-0.8zM418.9 120.8h0.8v0.8h-0.8zM433.7 115.4h0.8v0.8h-0.8zM436.0 111.1h0.8v0.8h-0.8zM423.4 101.8h0.8v0.8h-0.8zM438.3 116.2h0.8v0.8h-0.8zM432.0 120.6h0.8v0.8h-0.8zM417.2 107.5h0.8v0.8h-0.8zM412.6 114.3h0.8v0.8h-0.8zM426.6 122.5h0.8v0.8h-0.8zM419.6 108.2h0.8v0.8h-0.8zM409.6 105.7h0.8v0.8h-0.8zM425.6 104.6h0.8v0.8h-0.8zM413.6 112.9h0.8v0.8h-0.8zM423.3 107.1h0.8v0.8h-0.8zM411.4 111.9h0.8v0.8h-0.8zM426.5 122.9h0.8v0.8h-0.8zM429.1 113.5h0.8v0.8h-0.8zM420.7 106.5h0.8v0.8h-0.8zM425.0 118.3h0.8v0.8h-0.8zM412.2 109.9h0.8v0.8h-0.8zM415.5 114.6h0.8v0.8h-0.8zM431.8 108.4h0.8v0.8h-0.8zM409.6 112.6h0.8v0.8h-0.8zM428.6 116.6h0.8v0.8h-0.8zM422.3 120.2h0.8v0.8h-0.8zM407.9 113.9h0.8v0.8h-0.8zM418.1 123.5h0.8v0.8h-0.8zM414.4 118.8h0.8v0.8h-0.8zM418.6 105.3h0.8v0.8h-0.8zM414.9 108.3h0.8v0.8h-0.8zM430.5 112.2h0.8v0.8h-0.8zM428.5 103.8h0.8v0.8h-0.8zM416.1 122.1h0.8v0.8h-0.8zM408.4 118.6h0.8v0.8h-0.8zM418.5 117.1h0.8v0.8h-0.8zM433.5 108.4h0.8v0.8h-0.8zM433.8 109.6h0.8v0.8h-0.8zM415.8 118.0h0.8v0.8h-0.8zM436.2 113.7h0.8v0.8h-0.8zM429.6 121.6h0.8v0.8h-0.8zM407.6 114.8h0.8v0.8h-0.8zM409.6 118.4h0.8v0.8h-0.8zM423.1 120.2h0.8v0.8h-0.8zM432.6 114.3h0.8v0.8h-0.8zM429.5 106.9h0.8v0.8h-0.8zM421.3 116.9h0.8v0.8h-0.8zM421.9 120.5h0.8v0.8h-0.8zM433.4 112.0h0.8v0.8h-0.8zM416.4 107.7h0.8v0.8h-0.8zM420.4 120.6h0.8v0.8h-0.8zM410.4 117.4h0.8v0.8h-0.8zM412.7 109.4h0.8v0.8h-0.8zM438.3 118.4h0.8v0.8h-0.8zM427.3 107.0h0.8v0.8h-0.8zM422.8 105.3h0.8v0.8h-0.8zM436.9 115.5h0.8v0.8h-0.8zM409.5 110.7h0.8v0.8h-0.8zM429.0 120.6h0.8v0.8h-0.8zM434.3 109.6h0.8v0.8h-0.8zM432.7 112.3h0.8v0.8h-0.8zM430.6 120.7h0.8v0.8h-0.8zM427.9 105.0h0.8v0.8h-0.8zM433.8 118.1h0.8v0.8h-0.8zM425.5 108.4h0.8v0.8h-0.8zM415.8 120.5h0.8v0.8h-0.8zM420.8 105.8h0.8v0.8h-0.8zM410.3 113.1h0.8v0.8h-0.8zM421.0 119.6h0.8v0.8h-0.8zM426.6 122.4h0.8v0.8h-0.8zM427.7 117.7h0.8v0.8h-0.8zM420.5 104.0h0.8v0.8h-0.8zM422.3 121.4h0.8v0.8h-0.8zM424.0 106.5h0.8v0.8h-0.8zM425.4 117.9h0.8v0.8h-0.8zM431.9 114.9h0.8v0.8h-0.8zM431.6 113.7h0.8v0.8h-0.8zM430.7 105.8h0.8v0.8h-0.8zM412.3 112.6h0.8v0.8h-0.8zM413.3 105.3h0.8v0.8h-0.8zM412.6 112.8h0.8v0.8h-0.8zM424.3 106.4h0.8v0.8h-0.8zM411.0 111.2h0.8v0.8h-0.8zM413.6 116.8h0.8v0.8h-0.8zM425.6 122.4h0.8v0.8h-0.8zM418.2 120.3h0.8v0.8h-0.8zM417.2 114.4h0.8v0.8h-0.8zM431.4 105.9h0.8v0.8h-0.8zM422.4 104.3h0.8v0.8h-0.8zM425.0 106.9h0.8v0.8h-0.8zM436.1 111.4h0.8v0.8h-0.8zM414.6 109.3h0.8v0.8h-0.8zM430.5 117.4h0.8v0.8h-0.8zM416.6 111.6h0.8v0.8h-0.8zM414.6 105.1h0.8v0.8h-0.8zM423.2 108.7h0.8v0.8h-0.8zM429.7 118.0h0.8v0.8h-0.8zM431.6 113.3h0.8v0.8h-0.8zM426.7 119.2h0.8v0.8h-0.8zM432.2 117.0h0.8v0.8h-0.8zM419.1 109.4h0.8v0.8h-0.8zM422.7 117.7h0.8v0.8h-0.8zM414.8 107.4h0.8v0.8h-0.8zM437.2 107.9h0.8v0.8h-0.8zM438.1 114.2h0.8v0.8h-0.8zM415.0 108.6h0.8v0.8h-0.8zM412.3 117.0h0.8v0.8h-0.8zM416.4 106.4h0.8v0.8h-0.8zM411.4 113.0h0.8v0.8h-0.8zM427.7 103.4h0.8v0.8h-0.8zM438.5 109.6h0.8v0.8h-0.8zM415.8 119.9h0.8v0.8h-0.8zM425.6 121.8h0.8v0.8h-0.8zM413.8 116.5h0.8v0.8h-0.8zM417.9 112.2h0.8v0.8h-0.8zM430.9 111.9h0.8v0.8h-0.8zM437.3 113.4h0.8v0.8h-0.8zM410.7 117.6h0.8v0.8h-0.8zM427.5 106.3h0.8v0.8h-0.8zM431.4 117.9h0.8v0.8h-0.8zM407.1 111.9h0.8v0.8h-0.8zM438.6 115.2h0.8v0.8h-0.8zM410.2 118.6h0.8v0.8h-0.8zM430.8 116.5h0.8v0.8h-0.8zM435.7 113.4h0.8v0.8h-0.8zM435.2 115.7h0.8v0.8h-0.8zM410.1 110.8h0.8v0.8h-0.8zM435.2 111.5h0.8v0.8h-0.8zM412.3 111.8h0.8v0.8h-0.8zM412.1 121.5h0.8v0.8h-0.8zM413.6 109.1h0.8v0.8h-0.8zM422.5 118.8h0.8v0.8h-0.8zM412.9 119.2h0.8v0.8h-0.8zM409.0 109.8h0.8v0.8h-0.8zM437.0 112.7h0.8v0.8h-0.8zM417.1 116.0h0.8v0.8h-0.8zM427.6 106.6h0.8v0.8h-0.8zM422.1 108.1h0.8v0.8h-0.8zM427.8 122.4h0.8v0.8h-0.8zM412.2 107.5h0.8v0.8h-0.8zM428.6 120.2h0.8v0.8h-0.8zM415.5 119.4h0.8v0.8h-0.8zM431.3 108.4h0.8v0.8h-0.8zM439.3 119.9h0.8v0.8h-0.8zM415.3 109.4h0.8v0.8h-0.8zM431.3 105.5h0.8v0.8h-0.8zM429.8 108.1h0.8v0.8h-0.8zM435.8 115.1h0.8v0.8h-0.8zM424.2 108.6h0.8v0.8h-0.8zM432.2 121.0h0.8v0.8h-0.8zM411.7 108.0h0.8v0.8h-0.8zM417.5 105.5h0.8v0.8h-0.8zM438.6 111.5h0.8v0.8h-0.8zM422.6 122.9h0.8v0.8h-0.8zM420.4 110.6h0.8v0.8h-0.8zM414.2 115.5h0.8v0.8h-0.8zM432.9 119.4h0.8v0.8h-0.8zM433.6 116.7h0.8v0.8h-0.8zM434.4 108.3h0.8v0.8h-0.8zM413.0 120.4h0.8v0.8h-0.8zM430.6 109.9h0.8v0.8h-0.8zM432.1 109.2h0.8v0.8h-0.8zM423.3 118.9h0.8v0.8h-0.8zM413.5 111.0h0.8v0.8h-0.8zM440.1 116.3h0.8v0.8h-0.8zM415.9 108.5h0.8v0.8h-0.8zM408.3 111.0h0.8v0.8h-0.8zM438.1 112.4h0.8v0.8h-0.8zM434.7 111.4h0.8v0.8h-0.8zM431.0 112.0h0.8v0.8h-0.8zM426.7 120.1h0.8v0.8h-0.8zM424.6 109.2h0.8v0.8h-0.8zM434.3 109.7h0.8v0.8h-0.8zM415.0 108.7h0.8v0.8h-0.8zM428.8 117.3h0.8v0.8h-0.8zM409.2 115.6h0.8v0.8h-0.8zM436.0 112.4h0.8v0.8h-0.8zM412.3 119.4h0.8v0.8h-0.8zM436.7 116.7h0.8v0.8h-0.8zM413.0 108.6h0.8v0.8h-0.8zM413.4 106.7h0.8v0.8h-0.8zM438.3 108.7h0.8v0.8h-0.8zM411.7 109.6h0.8v0.8h-0.8zM410.9 114.0h0.8v0.8h-0.8zM415.4 119.5h0.8v0.8h-0.8zM415.7 112.8h0.8v0.8h-0.8zM411.7 124.1h0.8v0.8h-0.8zM431.1 106.2h0.8v0.8h-0.8zM415.6 113.6h0.8v0.8h-0.8zM409.6 113.4h0.8v0.8h-0.8zM424.7 120.0h0.8v0.8h-0.8zM431.9 113.8h0.8v0.8h-0.8zM435.0 111.3h0.8v0.8h-0.8zM431.4 111.0h0.8v0.8h-0.8zM434.3 118.7h0.8v0.8h-0.8zM423.1 107.0h0.8v0.8h-0.8zM431.6 108.3h0.8v0.8h-0.8zM436.1 115.6h0.8v0.8h-0.8zM438.6 113.2h0.8v0.8h-0.8zM430.5 118.9h0.8v0.8h-0.8zM413.7 122.7h0.8v0.8h-0.8zM436.1 109.6h0.8v0.8h-0.8zM418.2 120.5h0.8v0.8h-0.8zM432.2 105.4h0.8v0.8h-0.8zM434.4 107.4h0.8v0.8h-0.8zM435.5 112.2h0.8v0.8h-0.8zM411.5 114.1h0.8v0.8h-0.8zM425.7 121.7h0.8v0.8h-0.8zM421.6 105.0h0.8v0.8h-0.8zM410.3 109.5h0.8v0.8h-0.8zM435.9 116.9h0.8v0.8h-0.8zM434.1 110.0h0.8v0.8h-0.8zM431.5 112.1h0.8v0.8h-0.8zM435.8 112.3h0.8v0.8h-0.8zM428.2 121.7h0.8v0.8h-0.8zM416.5 109.3h0.8v0.8h-0.8zM424.4 107.2h0.8v0.8h-0.8zM412.5 112.2h0.8v0.8h-0.8zM438.7 110.2h0.8v0.8h-0.8zM433.1 115.4h0.8v0.8h-0.8zM422.7 105.8h0.8v0.8h-0.8zM409.4 117.1h0.8v0.8h-0.8zM431.1 112.1h0.8v0.8h-0.8zM418.1 111.8h0.8v0.8h-0.8zM425.4 109.0h0.8v0.8h-0.8zM413.5 122.7h0.8v0.8h-0.8zM438.2 117.3h0.8v0.8h-0.8zM437.6 108.8h0.8v0.8h-0.8zM432.9 111.4h0.8v0.8h-0.8zM413.3 108.8h0.8v0.8h-0.8zM424.3 118.3h0.8v0.8h-0.8zM433.7 116.9h0.8v0.8h-0.8zM429.3 117.2h0.8v0.8h-0.8zM411.6 110.7h0.8v0.8h-0.8zM433.4 107.1h0.8v0.8h-0.8zM413.8 108.4h0.8v0.8h-0.8zM416.7 115.0h0.8v0.8h-0.8zM413.6 115.2h0.8v0.8h-0.8zM425.3 105.3h0.8v0.8h-0.8zM431.1 109.0h0.8v0.8h-0.8zM426.6 123.5h0.8v0.8h-0.8zM433.2 113.7h0.8v0.8h-0.8zM419.3 117.4h0.8v0.8h-0.8zM434.8 113.2h0.8v0.8h-0.8zM423.5 107.5h0.8v0.8h-0.8zM432.2 105.0h0.8v0.8h-0.8zM406.7 117.7h0.8v0.8h-0.8zM421.4 119.2h0.8v0.8h-0.8zM408.1 111.9h0.8v0.8h-0.8zM418.4 123.0h0.8v0.8h-0.8zM420.1 105.1h0.8v0.8h-0.8zM420.4 109.1h0.8v0.8h-0.8zM438.9 114.5h0.8v0.8h-0.8zM434.1 120.6h0.8v0.8h-0.8zM410.2 112.3h0.8v0.8h-0.8zM424.6 120.7h0.8v0.8h-0.8zM434.9 115.1h0.8v0.8h-0.8zM435.8 111.5h0.8v0.8h-0.8zM416.4 107.6h0.8v0.8h-0.8zM416.3 113.2h0.8v0.8h-0.8zM416.0 108.2h0.8v0.8h-0.8zM431.8 111.3h0.8v0.8h-0.8zM427.5 115.9h0.8v0.8h-0.8zM427.0 108.3h0.8v0.8h-0.8zM427.7 102.5h0.8v0.8h-0.8zM435.1 111.8h0.8v0.8h-0.8zM413.7 112.6h0.8v0.8h-0.8zM426.2 103.9h0.8v0.8h-0.8zM410.4 109.9h0.8v0.8h-0.8zM420.9 107.4h0.8v0.8h-0.8zM421.5 103.8h0.8v0.8h-0.8zM415.8 117.3h0.8v0.8h-0.8zM418.6 116.2h0.8v0.8h-0.8zM416.5 112.8h0.8v0.8h-0.8zM421.3 121.2h0.8v0.8h-0.8zM420.9 118.6h0.8v0.8h-0.8zM431.5 121.0h0.8v0.8h-0.8zM430.2 112.8h0.8v0.8h-0.8zM412.4 117.3h0.8v0.8h-0.8zM432.1 114.4h0.8v0.8h-0.8zM435.6 118.3h0.8v0.8h-0.8zM432.3 112.7h0.8v0.8h-0.8zM433.3 114.6h0.8v0.8h-0.8zM423.1 119.5h0.8v0.8h-0.8zM430.3 122.1h0.8v0.8h-0.8zM411.1 114.1h0.8v0.8h-0.8zM416.7 104.2h0.8v0.8h-0.8zM410.6 112.6h0.8v0.8h-0.8zM429.9 115.8h0.8v0.8h-0.8zM418.9 109.8h0.8v0.8h-0.8zM434.8 110.4h0.8v0.8h-0.8zM414.7 120.1h0.8v0.8h-0.8zM416.7 108.2h0.8v0.8h-0.8zM436.8 113.7h0.8v0.8h-0.8zM413.9 115.0h0.8v0.8h-0.8zM412.1 113.5h0.8v0.8h-0.8zM417.9 105.5h0.8v0.8h-0.8zM412.6 107.0h0.8v0.8h-0.8zM434.9 110.1h0.8v0.8h-0.8zM420.6 120.1h0.8v0.8h-0.8zM411.5 120.5h0.8v0.8h-0.8zM436.2 110.7h0.8v0.8h-0.8zM424.8 120.7h0.8v0.8h-0.8zM427.7 118.7h0.8v0.8h-0.8zM416.8 106.3h0.8v0.8h-0.8zM432.7 108.2h0.8v0.8h-0.8zM432.6 118.4h0.8v0.8h-0.8zM417.5 121.6h0.8v0.8h-0.8zM413.2 120.2h0.8v0.8h-0.8zM420.0 101.0h0.8v0.8h-0.8zM413.6 116.5h0.8v0.8h-0.8zM413.4 106.2h0.8v0.8h-0.8zM434.5 107.1h0.8v0.8h-0.8zM433.1 108.0h0.8v0.8h-0.8zM434.2 108.6h0.8v0.8h-0.8zM418.8 106.3h0.8v0.8h-0.8zM414.6 108.8h0.8v0.8h-0.8zM434.7 114.4h0.8v0.8h-0.8zM419.9 117.2h0.8v0.8h-0.8zM434.1 113.5h0.8v0.8h-0.8zM421.9 112.8h0.8v0.8h-0.8zM416.4 117.8h0.8v0.8h-0.8zM439.9 111.3h0.8v0.8h-0.8zM413.4 119.9h0.8v0.8h-0.8zM413.0 115.7h0.8v0.8h-0.8zM439.8 112.3h0.8v0.8h-0.8zM408.8 115.1h0.8v0.8h-0.8zM414.1 116.2h0.8v0.8h-0.8zM428.5 103.4h0.8v0.8h-0.8zM419.7 106.8h0.8v0.8h-0.8zM431.8 103.2h0.8v0.8h-0.8zM414.4 112.4h0.8v0.8h-0.8zM410.6 119.7h0.8v0.8h-0.8zM415.2 119.4h0.8v0.8h-0.8zM438.0 113.4h0.8v0.8h-0.8zM434.1 110.3h0.8v0.8h-0.8zM431.8 113.9h0.8v0.8h-0.8zM415.2 104.5h0.8v0.8h-0.8zM417.8 107.5h0.8v0.8h-0.8zM429.0 106.8h0.8v0.8h-0.8zM423.5 108.3h0.8v0.8h-0.8zM427.2 106.0h0.8v0.8h-0.8zM414.0 113.6h0.8v0.8h-0.8zM421.8 105.6h0.8v0.8h-0.8zM422.0 107.6h0.8v0.8h-0.8zM410.8 120.7h0.8v0.8h-0.8zM419.4 109.3h0.8v0.8h-0.8zM438.7 109.6h0.8v0.8h-0.8zM424.7 107.3h0.8v0.8h-0.8zM409.8 116.9h0.8v0.8h-0.8zM410.1 107.4h0.8v0.8h-0.8zM434.8 109.9h0.8v0.8h-0.8zM437.2 117.1h0.8v0.8h-0.8zM432.7 113.3h0.8v0.8h-0.8zM421.0 106.6h0.8v0.8h-0.8zM416.5 115.5h0.8v0.8h-0.8zM434.9 120.0h0.8v0.8h-0.8zM421.6 109.0h0.8v0.8h-0.8zM424.7 118.5h0.8v0.8h-0.8zM414.7 119.1h0.8v0.8h-0.8zM418.9 113.6h0.8v0.8h-0.8zM412.6 107.0h0.8v0.8h-0.8zM436.8 112.1h0.8v0.8h-0.8zM424.4 106.6h0.8v0.8h-0.8zM416.2 117.2h0.8v0.8h-0.8zM422.2 107.3h0.8v0.8h-0.8zM419.4 119.8h0.8v0.8h-0.8zM424.9 107.6h0.8v0.8h-0.8zM417.0 113.5h0.8v0.8h-0.8zM422.1 115.9h0.8v0.8h-0.8zM438.3 113.7h0.8v0.8h-0.8zM416.8 108.5h0.8v0.8h-0.8zM430.1 105.6h0.8v0.8h-0.8zM433.3 112.9h0.8v0.8h-0.8zM414.0 117.8h0.8v0.8h-0.8zM418.6 116.4h0.8v0.8h-0.8zM413.7 116.5h0.8v0.8h-0.8zM410.6 118.0h0.8v0.8h-0.8zM435.1 103.0h0.8v0.8h-0.8zM426.9 104.1h0.8v0.8h-0.8zM412.9 111.0h0.8v0.8h-0.8zM423.9 107.2h0.8v0.8h-0.8zM429.7 109.2h0.8v0.8h-0.8zM425.8 122.2h0.8v0.8h-0.8zM422.8 122.5h0.8v0.8h-0.8zM414.5 115.1h0.8v0.8h-0.8zM414.9 107.6h0.8v0.8h-0.8zM415.0 119.4h0.8v0.8h-0.8zM410.5 109.6h0.8v0.8h-0.8zM415.6 122.0h0.8v0.8h-0.8zM421.9 120.8h0.8v0.8h-0.8zM422.4 107.7h0.8v0.8h-0.8zM422.9 106.2h0.8v0.8h-0.8zM430.0 106.9h0.8v0.8h-0.8zM415.1 111.8h0.8v0.8h-0.8zM413.2 111.6h0.8v0.8h-0.8zM440.0 106.6h0.8v0.8h-0.8zM413.3 108.2h0.8v0.8h-0.8zM407.9 119.4h0.8v0.8h-0.8zM415.7 110.4h0.8v0.8h-0.8zM433.0 113.8h0.8v0.8h-0.8zM413.8 110.6h0.8v0.8h-0.8zM430.9 104.7h0.8v0.8h-0.8zM416.7 122.8h0.8v0.8h-0.8zM422.8 121.8h0.8v0.8h-0.8zM421.5 121.1h0.8v0.8h-0.8zM409.0 111.8h0.8v0.8h-0.8zM420.1 120.3h0.8v0.8h-0.8zM415.5 118.0h0.8v0.8h-0.8zM418.0 108.0h0.8v0.8h-0.8zM432.5 121.4h0.8v0.8h-0.8zM420.7 105.3h0.8v0.8h-0.8zM434.1 121.0h0.8v0.8h-0.8zM435.5 116.7h0.8v0.8h-0.8zM433.4 110.2h0.8v0.8h-0.8zM413.9 116.9h0.8v0.8h-0.8zM436.9 116.5h0.8v0.8h-0.8zM432.9 107.5h0.8v0.8h-0.8zM433.4 109.3h0.8v0.8h-0.8zM416.0 111.0h0.8v0.8h-0.8zM412.5 113.0h0.8v0.8h-0.8zM415.4 116.8h0.8v0.8h-0.8zM428.8 107.5h0.8v0.8h-0.8zM416.3 105.0h0.8v0.8h-0.8zM433.2 112.0h0.8v0.8h-0.8zM410.5 118.7h0.8v0.8h-0.8zM425.1 118.7h0.8v0.8h-0.8zM429.3 122.8h0.8v0.8h-0.8zM411.5 114.4h0.8v0.8h-0.8zM425.3 103.6h0.8v0.8h-0.8zM430.7 117.6h0.8v0.8h-0.8zM415.3 107.4h0.8v0.8h-0.8zM417.3 106.4h0.8v0.8h-0.8zM418.1 121.7h0.8v0.8h-0.8zM414.7 122.6h0.8v0.8h-0.8zM425.1 108.5h0.8v0.8h-0.8zM414.7 117.3h0.8v0.8h-0.8zM410.4 115.3h0.8v0.8h-0.8zM437.2 110.6h0.8v0.8h-0.8zM427.6 121.4h0.8v0.8h-0.8zM429.2 107.8h0.8v0.8h-0.8zM437.9 116.5h0.8v0.8h-0.8zM420.4 109.5h0.8v0.8h-0.8zM420.8 106.3h0.8v0.8h-0.8zM422.5 106.0h0.8v0.8h-0.8zM410.8 108.3h0.8v0.8h-0.8zM439.1 116.5h0.8v0.8h-0.8zM412.4 113.7h0.8v0.8h-0.8zM412.7 120.8h0.8v0.8h-0.8zM425.0 104.9h0.8v0.8h-0.8zM434.9 120.0h0.8v0.8h-0.8zM408.0 115.1h0.8v0.8h-0.8zM424.2 110.5h0.8v0.8h-0.8zM434.8 106.0h0.8v0.8h-0.8zM419.3 118.0h0.8v0.8h-0.8zM412.0 115.5h0.8v0.8h-0.8zM427.4 107.4h0.8v0.8h-0.8zM422.8 117.6h0.8v0.8h-0.8zM414.5 113.2h0.8v0.8h-0.8zM434.1 114.1h0.8v0.8h-0.8zM427.0 107.4h0.8v0.8h-0.8zM430.9 107.2h0.8v0.8h-0.8zM411.6 110.9h0.8v0.8h-0.8zM417.6 110.3h0.8v0.8h-0.8zM435.8 108.7h0.8v0.8h-0.8zM429.8 120.3h0.8v0.8h-0.8zM414.7 107.7h0.8v0.8h-0.8zM431.5 119.4h0.8v0.8h-0.8zM427.1 118.3h0.8v0.8h-0.8zM411.6 114.9h0.8v0.8h-0.8zM432.9 113.9h0.8v0.8h-0.8zM433.0 117.3h0.8v0.8h-0.8zM436.2 116.4h0.8v0.8h-0.8zM430.4 121.2h0.8v0.8h-0.8zM408.3 115.5h0.8v0.8h-0.8zM434.8 106.3h0.8v0.8h-0.8zM414.1 124.0h0.8v0.8h-0.8zM436.6 118.2h0.8v0.8h-0.8zM415.5 107.3h0.8v0.8h-0.8zM429.8 110.0h0.8v0.8h-0.8zM429.6 118.8h0.8v0.8h-0.8zM427.5 111.3h0.8v0.8h-0.8zM428.1 109.0h0.8v0.8h-0.8zM430.9 106.6h0.8v0.8h-0.8zM413.9 118.5h0.8v0.8h-0.8zM426.6 121.0h0.8v0.8h-0.8zM432.3 120.3h0.8v0.8h-0.8zM416.1 118.8h0.8v0.8h-0.8zM434.0 112.3h0.8v0.8h-0.8zM430.2 116.9h0.8v0.8h-0.8zM416.0 118.1h0.8v0.8h-0.8zM435.0 112.1h0.8v0.8h-0.8zM433.7 108.6h0.8v0.8h-0.8zM434.8 117.1h0.8v0.8h-0.8zM421.1 118.3h0.8v0.8h-0.8zM425.1 111.1h0.8v0.8h-0.8zM407.7 109.9h0.8v0.8h-0.8zM437.1 110.2h0.8v0.8h-0.8zM418.9 107.1h0.8v0.8h-0.8zM421.2 106.2h0.8v0.8h-0.8zM418.4 106.8h0.8v0.8h-0.8zM423.8 105.6h0.8v0.8h-0.8zM435.4 116.8h0.8v0.8h-0.8zM406.4 110.6h0.8v0.8h-0.8zM409.0 118.3h0.8v0.8h-0.8zM435.0 113.2h0.8v0.8h-0.8zM426.7 118.4h0.8v0.8h-0.8zM416.1 115.4h0.8v0.8h-0.8zM429.6 110.1h0.8v0.8h-0.8zM415.3 122.5h0.8v0.8h-0.8zM417.9 106.1h0.8v0.8h-0.8zM414.3 106.5h0.8v0.8h-0.8zM417.9 110.4h0.8v0.8h-0.8zM430.6 103.8h0.8v0.8h-0.8zM414.0 104.1h0.8v0.8h-0.8zM435.0 118.3h0.8v0.8h-0.8zM417.3 122.6h0.8v0.8h-0.8zM433.7 110.7h0.8v0.8h-0.8zM407.0 113.2h0.8v0.8h-0.8zM432.4 111.1h0.8v0.8h-0.8zM419.8 102.3h0.8v0.8h-0.8zM422.9 107.2h0.8v0.8h-0.8zM409.0 110.9h0.8v0.8h-0.8zM415.3 107.0h0.8v0.8h-0.8zM430.8 117.7h0.8v0.8h-0.8zM415.2 117.4h0.8v0.8h-0.8zM429.6 105.2h0.8v0.8h-0.8zM415.3 115.0h0.8v0.8h-0.8zM413.7 108.9h0.8v0.8h-0.8zM434.5 117.2h0.8v0.8h-0.8zM431.7 118.2h0.8v0.8h-0.8zM415.3 106.2h0.8v0.8h-0.8zM416.2 103.8h0.8v0.8h-0.8zM433.9 124.7h0.8v0.8h-0.8zM419.4 110.2h0.8v0.8h-0.8zM436.3 112.5h0.8v0.8h-0.8z" fill="#000" fill-opacity="0.9"/>
<path d="M276.7 113.7h0.8v0.8h-0.8zM290.7 103.0h0.8v0.8h-0.8zM278.7 114.2h0.8v0.8h-0.8zM292.8 106.7h0.8v0.8h-0.8zM301.6 106.8h0.8v0.8h-0.8zM297.2 107.4h0.8v0.8h-0.8zM290.6 108.8h0.8v0.8h-0.8zM278.8 101.1h0.8v0.8h-0.8zM285.9 117.5h0.8v0.8h-0.8zM278.8 117.2h0.8v0.8h-0.8zM289.5 101.6h0.8v0.8h-0.8zM289.9 112.2h0.8v0.8h-0.8zM279.7 95.1h0.8v0.8h-0.8zM290.7 101.6h0.8v0.8h-0.8zM291.5 96.5h0.8v0.8h-0.8zM286.4 103.5h0.8v0.8h-0.8zM274.6 107.1h0.8v0.8h-0.8zM289.1 105.1h0.8v0.8h-0.8zM277.3 109.9h0.8v0.8h-0.8zM291.9 119.2h0.8v0.8h-0.8zM295.3 110.8h0.8v0.8h-0.8zM289.9 108.8h0.8v0.8h-0.8zM276.0 117.8h0.8v0.8h-0.8zM292.2 106.8h0.8v0.8h-0.8zM277.6 118.0h0.8v0.8h-0.8zM292.3 101.1h0.8v0.8h-0.8zM293.5 120.6h0.8v0.8h-0.8zM287.4 111.1h0.8v0.8h-0.8zM284.0 104.6h0.8v0.8h-0.8zM288.6 107.8h0.8v0.8h-0.8zM294.5 106.7h0.8v0.8h-0.8zM294.0 113.8h0.8v0.8h-0.8zM278.7 101.8h0.8v0.8h-0.8zM287.0 113.9h0.8v0.8h-0.8zM290.0 116.4h0.8v0.8h-0.8zM275.6 111.7h0.8v0.8h-0.8zM282.2 109.2h0.8v0.8h-0.8zM290.4 102.5h0.8v0.8h-0.8zM285.6 101.3h0.8v0.8h-0.8zM289.9 103.2h0.8v0.8h-0.8zM283.3 110.0h0.8v0.8h-0.8zM281.9 115.8h0.8v0.8h-0.8zM282.0 114.0h0.8v0.8h-0.8zM290.1 102.1h0.8v0.8h-0.8zM285.7 103.3h0.8v0.8h-0.8zM284.4 106.9h0.8v0.8h-0.8zM303.5 106.0h0.8v0.8h-0.8zM291.5 100.4h0.8v0.8h-0.8zM296.6 111.1h0.8v0.8h-0.8zM285.8 107.0h0.8v0.8h-0.8zM289.9 106.7h0.8v0.8h-0.8zM282.9 106.3h0.8v0.8h-0.8zM297.8 104.7h0.8v0.8h-0.8zM277.6 104.1h0.8v0.8h-0.8zM275.6 107.4h0.8v0.8h-0.8zM293.6 110.5h0.8v0.8h-0.8zM283.3 112.4h0.8v0.8h-0.8zM284.6 110.9h0.8v0.8h-0.8zM290.0 112.0h0.8v0.8h-0.8zM294.3 107.9h0.8v0.8h-0.8zM300.6 112.1h0.8v0.8h-0.8zM292.0 107.3h0.8v0.8h-0.8zM293.9 103.6h0.8v0.8h-0.8zM283.7 105.1h0.8v0.8h-0.8zM285.7 113.5h0.8v0.8h-0.8zM283.4 110.6h0.8v0.8h-0.8zM283.3 114.2h0.8v0.8h-0.8zM289.1 101.8h0.8v0.8h-0.8zM296.4 110.0h0.8v0.8h-0.8zM298.7 114.6h0.8v0.8h-0.8zM286.3 101.8h0.8v0.8h-0.8zM285.7 105.7h0.8v0.8h-0.8zM289.8 105.7h0.8v0.8h-0.8zM297.8 105.6h0.8v0.8h-0.8zM295.7 108.6h0.8v0.8h-0.8zM277.1 111.2h0.8v0.8h-0.8zM285.9 95.7h0.8v0.8h-0.8zM289.3 102.0h0.8v0.8h-0.8zM281.1 111.6h0.8v0.8h-0.8zM290.2 106.8h0.8v0.8h-0.8zM289.7 107.8h0.8v0.8h-0.8zM275.5 121.6h0.8v0.8h-0.8zM286.0 106.9h0.8v0.8h-0.8zM282.7 114.8h0.8v0.8h-0.8zM287.8 119.3h0.8v0.8h-0.8zM294.4 118.9h0.8v0.8h-0.8zM286.6 111.0h0.8v0.8h-0.8zM283.8 107.5h0.8v0.8h-0.8zM272.6 105.0h0.8v0.8h-0.8zM279.3 104.5h0.8v0.8h-0.8zM298.2 110.2h0.8v0.8h-0.8zM295.0 114.4h0.8v0.8h-0.8zM296.3 104.8h0.8v0.8h-0.8zM294.6 106.6h0.8v0.8h-0.8zM283.0 116.1h0.8v0.8h-0.8zM306.4 102.5h0.8v0.8h-0.8zM294.8 103.3h0.8v0.8h-0.8zM290.0 110.9h0.8v0.8h-0.8zM290.9 106.4h0.8v0.8h-0.8zM276.5 108.8h0.8v0.8h-0.8zM295.1 113.5h0.8v0.8h-0.8zM293.3 115.5h0.8v0.8h-0.8zM279.0 108.3h0.8v0.8h-0.8zM290.6 114.9h0.8v0.8h-0.8zM289.0 111.8h0.8v0.8h-0.8zM288.8 121.7h0.8v0.8h-0.8zM275.2 104.3h0.8v0.8h-0.8zM289.5 119.3h0.8v0.8h-0.8zM291.6 112.8h0.8v0.8h-0.8zM296.4 109.9h0.8v0.8h-0.8zM280.2 108.0h0.8v0.8h-0.8zM290.5 106.9h0.8v0.8h-0.8zM281.8 106.4h0.8v0.8h-0.8zM274.6 102.2h0.8v0.8h-0.8zM286.8 106.3h0.8v0.8h-0.8zM287.9 117.4h0.8v0.8h-0.8zM290.2 108.4h0.8v0.8h-0.8zM277.4 101.9h0.8v0.8h-0.8zM290.9 103.1h0.8v0.8h-0.8zM291.3 101.9h0.8v0.8h-0.8zM288.8 108.1h0.8v0.8h-0.8zM296.2 106.1h0.8v0.8h-0.8zM284.4 110.1h0.8v0.8h-0.8zM288.1 119.2h0.8v0.8h-0.8zM285.4 105.2h0.8v0.8h-0.8zM284.8 111.6h0.8v0.8h-0.8zM289.6 112.9h0.8v0.8h-0.8zM275.6 124.1h0.8v0.8h-0.8zM303.5 108.4h0.8v0.8h-0.8zM288.9 111.2h0.8v0.8h-0.8zM274.8 111.5h0.8v0.8h-0.8zM299.6 115.1h0.8v0.8h-0.8zM299.6 114.3h0.8v0.8h-0.8zM291.9 118.1h0.8v0.8h-0.8zM284.7 108.5h0.8v0.8h-0.8zM282.8 115.8h0.8v0.8h-0.8zM279.2 114.4h0.8v0.8h-0.8zM273.5 102.7h0.8v0.8h-0.8zM282.4 113.8h0.8v0.8h-0.8zM273.6 112.4h0.8v0.8h-0.8zM282.1 116.4h0.8v0.8h-0.8zM284.9 111.6h0.8v0.8h-0.8zM286.1 119.8h0.8v0.8h-0.8zM284.5 108.4h0.8v0.8h-0.8zM304.8 109.1h0.8v0.8h-0.8zM281.2 109.8h0.8v0.8h-0.8zM282.0 99.2h0.8v0.8h-0.8zM275.3 115.7h0.8v0.8h-0.8zM291.3 99.1h0.8v0.8h-0.8zM303.3 104.2h0.8v0.8h-0.8zM289.7 101.5h0.8v0.8h-0.8zM273.6 103.9h0.8v0.8h-0.8zM297.8 114.6h0.8v0.8h-0.8zM298.0 108.8h0.8v0.8h-0.8zM288.0 111.2h0.8v0.8h-0.8zM278.9 102.9h0.8v0.8h-0.8zM281.5 106.3h0.8v0.8h-0.8zM293.0 101.0h0.8v0.8h-0.8zM301.4 104.6h0.8v0.8h-0.8zM293.7 111.3h0.8v0.8h-0.8zM284.7 101.9h0.8v0.8h-0.8zM278.9 98.6h0.8v0.8h-0.8zM297.5 115.4h0.8v0.8h-0.8zM303.8 111.7h0.8v0.8h-0.8zM294.2 114.6h0.8v0.8h-0.8zM285.4 110.8h0.8v0.8h-0.8zM306.3 98.0h0.8v0.8h-0.8zM279.3 113.3h0.8v0.8h-0.8zM297.9 106.5h0.8v0.8h-0.8zM287.2 110.5h0.8v0.8h-0.8zM282.9 108.4h0.8v0.8h-0.8zM287.6 115.7h0.8v0.8h-0.8zM306.9 97.2h0.8v0.8h-0.8zM287.6 114.7h0.8v0.8h-0.8zM296.8 113.5h0.8v0.8h-0.8zM294.6 102.7h0.8v0.8h-0.8zM272.8 119.0h0.8v0.8h-0.8zM298.1 102.6h0.8v0.8h-0.8zM293.4 93.2h0.8v0.8h-0.8zM295.4 102.4h0.8v0.8h-0.8zM297.7 104.3h0.8v0.8h-0.8zM274.2 107.2h0.8v0.8h-0.8zM296.4 104.4h0.8v0.8h-0.8zM277.1 98.3h0.8v0.8h-0.8zM292.4 116.7h0.8v0.8h-0.8zM278.4 108.6h0.8v0.8h-0.8zM285.2 107.0h0.8v0.8h-0.8zM292.0 121.7h0.8v0.8h-0.8zM282.1 113.9h0.8v0.8h-0.8zM297.0 106.8h0.8v0.8h-0.8zM286.3 100.2h0.8v0.8h-0.8zM297.0 105.3h0.8v0.8h-0.8zM281.9 109.0h0.8v0.8h-0.8zM280.2 102.1h0.8v0.8h-0.8zM285.0 117.9h0.8v0.8h-0.8zM285.8 111.9h0.8v0.8h-0.8zM274.9 96.4h0.8v0.8h-0.8zM303.4 106.1h0.8v0.8h-0.8zM286.7 112.4h0.8v0.8h-0.8zM272.6 103.1h0.8v0.8h-0.8zM289.9 102.8h0.8v0.8h-0.8zM294.5 114.6h0.8v0.8h-0.8zM291.4 105.9h0.8v0.8h-0.8zM287.2 104.6h0.8v0.8h-0.8zM286.5 110.6h0.8v0.8h-0.8zM285.0 114.7h0.8v0.8h-0.8zM290.6 113.8h0.8v0.8h-0.8zM293.2 107.1h0.8v0.8h-0.8zM283.4 114.9h0.8v0.8h-0.8zM293.0 111.8h0.8v0.8h-0.8zM280.6 112.6h0.8v0.8h-0.8zM294.5 107.4h0.8v0.8h-0.8zM293.2 122.2h0.8v0.8h-0.8zM277.4 100.0h0.8v0.8h-0.8zM285.6 112.0h0.8v0.8h-0.8zM288.1 101.3h0.8v0.8h-0.8zM275.1 105.1h0.8v0.8h-0.8zM287.7 103.4h0.8v0.8h-0.8zM274.5 119.6h0.8v0.8h-0.8zM280.3 107.6h0.8v0.8h-0.8zM282.8 104.9h0.8v0.8h-0.8zM287.9 106.7h0.8v0.8h-0.8zM293.0 101.2h0.8v0.8h-0.8zM274.7 120.9h0.8v0.8h-0.8zM286.9 113.4h0.8v0.8h-0.8zM297.9 112.1h0.8v0.8h-0.8zM274.1 98.5h0.8v0.8h-0.8zM296.1 112.9h0.8v0.8h-0.8zM292.6 98.2h0.8v0.8h-0.8zM277.3 109.6h0.8v0.8h-0.8z" fill="#000" fill-opacity="0.55"/>
<path d="M279.2 115.9h0.8v0.8h-0.8zM305.1 103.7h0.8v0.8h-0.8zM278.0 103.3h0.8v0.8h-0.8zM297.7 97.8h0.8v0.8h-0.8zM279.3 113.6h0.8v0.8h-0.8zM297.4 112.2h0.8v0.8h-0.8zM280.7 90.7h0.8v0.8h-0.8zM275.9 100.3h0.8v0.8h-0.8zM277.4 96.1h0.8v0.8h-0.8zM279.3 102.7h0.8v0.8h-0.8zM294.8 104.4h0.8v0.8h-0.8zM281.0 106.1h0.8v0.8h-0.8zM291.3 116.6h0.8v0.8h-0.8zM298.0 121.6h0.8v0.8h-0.8zM280.3 103.2h0.8v0.8h-0.8zM296.8 119.7h0.8v0.8h-0.8zM294.1 111.8h0.8v0.8h-0.8zM283.5 102.9h0.8v0.8h-0.8zM295.8 106.2h0.8v0.8h-0.8zM280.5 112.1h0.8v0.8h-0.8zM299.6 113.6h0.8v0.8h-0.8zM283.6 106.0h0.8v0.8h-0.8zM293.9 103.4h0.8v0.8h-0.8zM275.7 117.5h0.8v0.8h-0.8zM277.9 110.1h0.8v0.8h-0.8zM279.5 114.9h0.8v0.8h-0.8zM290.8 114.3h0.8v0.8h-0.8zM285.3 104.2h0.8v0.8h-0.8zM299.7 95.2h0.8v0.8h-0.8zM286.1 108.8h0.8v0.8h-0.8zM289.5 106.4h0.8v0.8h-0.8zM280.4 120.7h0.8v0.8h-0.8zM283.7 91.8h0.8v0.8h-0.8zM299.6 108.8h0.8v0.8h-0.8zM276.3 101.3h0.8v0.8h-0.8zM288.6 101.6h0.8v0.8h-0.8zM273.9 100.8h0.8v0.8h-0.8zM288.9 100.7h0.8v0.8h-0.8zM275.0 101.1h0.8v0.8h-0.8zM298.9 107.9h0.8v0.8h-0.8zM275.6 103.3h0.8v0.8h-0.8zM299.5 109.1h0.8v0.8h-0.8zM275.1 110.0h0.8v0.8h-0.8zM278.3 89.0h0.8v0.8h-0.8zM278.5 103.0h0.8v0.8h-0.8zM278.7 107.5h0.8v0.8h-0.8zM284.4 96.6h0.8v0.8h-0.8zM276.9 107.7h0.8v0.8h-0.8zM281.7 105.4h0.8v0.8h-0.8zM289.1 119.0h0.8v0.8h-0.8zM282.7 103.1h0.8v0.8h-0.8zM288.9 103.3h0.8v0.8h-0.8zM277.1 91.5h0.8v0.8h-0.8zM279.4 111.0h0.8v0.8h-0.8zM301.1 105.4h0.8v0.8h-0.8zM281.5 112.7h0.8v0.8h-0.8zM289.0 112.0h0.8v0.8h-0.8zM302.5 106.3h0.8v0.8h-0.8zM298.7 111.9h0.8v0.8h-0.8zM287.2 111.7h0.8v0.8h-0.8zM301.4 114.7h0.8v0.8h-0.8zM273.0 107.7h0.8v0.8h-0.8zM304.1 93.7h0.8v0.8h-0.8zM302.3 104.1h0.8v0.8h-0.8zM285.4 99.8h0.8v0.8h-0.8zM285.7 101.0h0.8v0.8h-0.8zM276.5 114.0h0.8v0.8h-0.8zM280.6 114.8h0.8v0.8h-0.8zM294.9 101.3h0.8v0.8h-0.8zM303.7 106.8h0.8v0.8h-0.8zM298.1 107.1h0.8v0.8h-0.8zM281.5 101.4h0.8v0.8h-0.8zM302.0 98.9h0.8v0.8h-0.8zM284.4 115.4h0.8v0.8h-0.8zM301.3 96.3h0.8v0.8h-0.8zM302.3 110.4h0.8v0.8h-0.8zM305.4 106.1h0.8v0.8h-0.8zM295.4 124.9h0.8v0.8h-0.8zM291.8 112.3h0.8v0.8h-0.8zM288.5 97.8h0.8v0.8h-0.8zM284.5 101.8h0.8v0.8h-0.8zM281.3 113.4h0.8v0.8h-0.8zM273.5 111.6h0.8v0.8h-0.8zM300.5 107.1h0.8v0.8h-0.8zM275.0 106.2h0.8v0.8h-0.8zM288.8 100.3h0.8v0.8h-0.8zM286.7 114.2h0.8v0.8h-0.8zM294.7 115.1h0.8v0.8h-0.8zM304.1 100.0h0.8v0.8h-0.8zM303.2 98.4h0.8v0.8h-0.8z" fill="#000" fill-opacity="0.35"/>
<path d="M370.7 98.9h0.8v0.8h-0.8zM329.1 103.1h0.8v0.8h-0.8zM351.2 102.2h0.8v0.8h-0.8zM352.7 105.3h0.8v0.8h-0.8zM326.5 106.0h0.8v0.8h-0.8zM337.9 102.8h0.8v0.8h-0.8zM359.1 106.0h0.8v0.8h-0.8zM310.7 99.7h0.8v0.8h-0.8zM341.0 111.4h0.8v0.8h-0.8zM330.8 102.3h0.8v0.8h-0.8zM339.8 106.9h0.8v0.8h-0.8zM332.9 104.5h0.8v0.8h-0.8zM326.4 100.4h0.8v0.8h-0.8zM319.2 106.3h0.8v0.8h-0.8zM323.8 105.8h0.8v0.8h-0.8zM342.5 107.9h0.8v0.8h-0.8zM310.9 102.3h0.8v0.8h-0.8zM350.2 115.5h0.8v0.8h-0.8zM364.6 109.7h0.8v0.8h-0.8zM342.0 101.2h0.8v0.8h-0.8zM345.0 92.5h0.8v0.8h-0.8zM352.7 103.1h0.8v0.8h-0.8zM346.6 98.1h0.8v0.8h-0.8zM313.3 100.0h0.8v0.8h-0.8zM333.8 104.8h0.8v0.8h-0.8zM327.7 104.8h0.8v0.8h-0.8zM347.8 97.4h0.8v0.8h-0.8zM332.6 95.5h0.8v0.8h-0.8zM323.9 107.5h0.8v0.8h-0.8zM320.7 112.2h0.8v0.8h-0.8zM344.4 107.4h0.8v0.8h-0.8zM336.6 107.3h0.8v0.8h-0.8zM355.9 103.6h0.8v0.8h-0.8zM324.3 100.4h0.8v0.8h-0.8zM372.1 102.2h0.8v0.8h-0.8zM325.7 99.6h0.8v0.8h-0.8zM340.9 100.7h0.8v0.8h-0.8zM319.9 105.1h0.8v0.8h-0.8zM343.5 101.0h0.8v0.8h-0.8zM340.6 98.3h0.8v0.8h-0.8zM351.3 98.3h0.8v0.8h-0.8zM328.1 103.8h0.8v0.8h-0.8zM326.4 97.5h0.8v0.8h-0.8zM375.4 110.5h0.8v0.8h-0.8zM309.9 104.6h0.8v0.8h-0.8zM309.2 105.9h0.8v0.8h-0.8zM344.9 111.4h0.8v0.8h-0.8zM358.0 100.9h0.8v0.8h-0.8zM353.0 100.9h0.8v0.8h-0.8zM332.4 100.7h0.8v0.8h-0.8zM344.8 103.7h0.8v0.8h-0.8zM347.8 108.5h0.8v0.8h-0.8zM365.7 94.2h0.8v0.8h-0.8zM343.6 100.7h0.8v0.8h-0.8zM349.5 94.9h0.8v0.8h-0.8zM331.8 106.6h0.8v0.8h-0.8zM322.1 101.3h0.8v0.8h-0.8zM315.5 108.5h0.8v0.8h-0.8zM308.8 98.6h0.8v0.8h-0.8zM328.1 101.6h0.8v0.8h-0.8zM375.7 104.4h0.8v0.8h-0.8zM318.4 105.9h0.8v0.8h-0.8zM341.3 104.5h0.8v0.8h-0.8zM333.3 105.4h0.8v0.8h-0.8zM311.8 97.2h0.8v0.8h-0.8zM326.3 97.7h0.8v0.8h-0.8zM348.2 112.6h0.8v0.8h-0.8zM358.7 105.3h0.8v0.8h-0.8zM341.2 99.8h0.8v0.8h-0.8zM309.3 105.8h0.8v0.8h-0.8zM331.9 106.8h0.8v0.8h-0.8zM335.6 103.6h0.8v0.8h-0.8zM323.3 94.7h0.8v0.8h-0.8zM327.9 106.5h0.8v0.8h-0.8zM355.0 109.8h0.8v0.8h-0.8zM315.2 98.5h0.8v0.8h-0.8zM348.3 100.9h0.8v0.8h-0.8zM365.2 94.2h0.8v0.8h-0.8zM337.6 96.3h0.8v0.8h-0.8zM365.8 100.9h0.8v0.8h-0.8zM314.5 94.8h0.8v0.8h-0.8zM320.7 90.6h0.8v0.8h-0.8zM325.4 113.8h0.8v0.8h-0.8zM336.5 101.8h0.8v0.8h-0.8zM312.0 104.8h0.8v0.8h-0.8zM325.4 99.0h0.8v0.8h-0.8zM361.6 105.2h0.8v0.8h-0.8zM317.3 110.3h0.8v0.8h-0.8zM333.5 105.6h0.8v0.8h-0.8zM337.5 108.9h0.8v0.8h-0.8zM368.1 92.2h0.8v0.8h-0.8zM321.1 89.1h0.8v0.8h-0.8zM360.8 91.2h0.8v0.8h-0.8zM334.1 89.2h0.8v0.8h-0.8zM338.7 89.9h0.8v0.8h-0.8zM349.4 92.5h0.8v0.8h-0.8zM323.4 89.4h0.8v0.8h-0.8zM356.7 89.5h0.8v0.8h-0.8zM324.4 90.6h0.8v0.8h-0.8zM376.6 90.2h0.8v0.8h-0.8zM330.7 90.8h0.8v0.8h-0.8zM320.2 90.5h0.8v0.8h-0.8zM357.1 90.2h0.8v0.8h-0.8zM363.7 89.7h0.8v0.8h-0.8zM316.1 91.3h0.8v0.8h-0.8zM340.1 92.3h0.8v0.8h-0.8zM316.3 91.7h0.8v0.8h-0.8zM355.0 90.4h0.8v0.8h-0.8zM317.9 91.2h0.8v0.8h-0.8zM361.0 90.8h0.8v0.8h-0.8zM341.5 91.5h0.8v0.8h-0.8zM350.8 90.6h0.8v0.8h-0.8zM321.8 90.7h0.8v0.8h-0.8zM346.8 92.2h0.8v0.8h-0.8zM377.2 91.0h0.8v0.8h-0.8zM331.6 89.9h0.8v0.8h-0.8zM352.3 91.7h0.8v0.8h-0.8zM326.1 91.5h0.8v0.8h-0.8zM377.5 90.5h0.8v0.8h-0.8zM373.4 90.6h0.8v0.8h-0.8zM353.8 92.1h0.8v0.8h-0.8zM323.0 90.3h0.8v0.8h-0.8zM376.5 89.3h0.8v0.8h-0.8zM330.1 90.8h0.8v0.8h-0.8zM360.1 91.3h0.8v0.8h-0.8zM372.8 91.4h0.8v0.8h-0.8zM309.2 89.3h0.8v0.8h-0.8zM311.6 90.6h0.8v0.8h-0.8zM311.0 90.9h0.8v0.8h-0.8zM352.4 89.8h0.8v0.8h-0.8z" fill="#000" fill-opacity="0.4"/>
<path d="M330.9 110.7h1.2v1.2h-1.2zM339.6 107.7h1.2v1.2h-1.2zM371.2 120.2h1.2v1.2h-1.2zM347.2 113.7h1.2v1.2h-1.2zM330.0 116.3h1.2v1.2h-1.2zM332.7 122.5h1.2v1.2h-1.2zM374.4 118.4h1.2v1.2h-1.2zM365.5 107.6h1.2v1.2h-1.2zM317.4 112.1h1.2v1.2h-1.2zM317.5 113.4h1.2v1.2h-1.2zM376.4 120.2h1.2v1.2h-1.2zM374.6 110.1h1.2v1.2h-1.2zM324.1 106.8h1.2v1.2h-1.2zM327.6 107.3h1.2v1.2h-1.2zM345.1 111.4h1.2v1.2h-1.2zM355.1 115.7h1.2v1.2h-1.2zM349.8 111.3h1.2v1.2h-1.2zM359.2 117.8h1.2v1.2h-1.2zM357.8 114.2h1.2v1.2h-1.2zM340.7 111.1h1.2v1.2h-1.2zM311.6 114.1h1.2v1.2h-1.2zM351.1 109.5h1.2v1.2h-1.2zM367.8 120.9h1.2v1.2h-1.2zM367.4 119.9h1.2v1.2h-1.2zM342.4 109.3h1.2v1.2h-1.2zM327.5 118.6h1.2v1.2h-1.2zM376.3 108.2h1.2v1.2h-1.2zM309.3 112.2h1.2v1.2h-1.2zM332.8 116.3h1.2v1.2h-1.2zM316.6 120.3h1.2v1.2h-1.2zM332.1 121.4h1.2v1.2h-1.2zM331.5 111.4h1.2v1.2h-1.2zM320.9 122.3h1.2v1.2h-1.2zM349.3 120.0h1.2v1.2h-1.2zM313.2 115.4h1.2v1.2h-1.2zM359.1 122.6h1.2v1.2h-1.2zM373.1 108.1h1.2v1.2h-1.2zM334.5 122.9h1.2v1.2h-1.2zM345.5 122.2h1.2v1.2h-1.2zM326.3 106.8h1.2v1.2h-1.2zM373.7 110.8h1.2v1.2h-1.2zM347.3 112.3h1.2v1.2h-1.2zM348.5 121.8h1.2v1.2h-1.2zM373.8 120.9h1.2v1.2h-1.2zM326.5 119.9h1.2v1.2h-1.2zM310.2 113.3h1.2v1.2h-1.2zM373.6 110.6h1.2v1.2h-1.2zM334.1 116.0h1.2v1.2h-1.2zM325.1 118.1h1.2v1.2h-1.2zM353.6 108.0h1.2v1.2h-1.2zM371.9 107.6h1.2v1.2h-1.2zM356.6 112.1h1.2v1.2h-1.2zM318.7 107.7h1.2v1.2h-1.2zM377.2 119.6h1.2v1.2h-1.2zM340.3 119.5h1.2v1.2h-1.2zM375.3 121.7h1.2v1.2h-1.2zM345.4 110.9h1.2v1.2h-1.2zM344.4 122.6h1.2v1.2h-1.2zM358.9 117.5h1.2v1.2h-1.2zM366.6 113.1h1.2v1.2h-1.2zM347.2 120.4h1.2v1.2h-1.2zM322.5 120.6h1.2v1.2h-1.2zM310.6 115.3h1.2v1.2h-1.2zM348.3 108.8h1.2v1.2h-1.2zM372.1 113.6h1.2v1.2h-1.2zM321.6 113.2h1.2v1.2h-1.2zM349.4 113.5h1.2v1.2h-1.2zM309.1 107.9h1.2v1.2h-1.2zM357.8 108.6h1.2v1.2h-1.2zM326.4 119.7h1.2v1.2h-1.2z" fill="#000" fill-opacity="0.13"/>
<path d="M412.9 113.1h0.8v0.8h-0.8zM419.7 97.0h0.8v0.8h-0.8zM434.8 102.1h0.8v0.8h-0.8zM428.1 101.1h0.8v0.8h-0.8zM425.1 101.7h0.8v0.8h-0.8zM424.3 104.3h0.8v0.8h-0.8zM416.8 108.4h0.8v0.8h-0.8zM421.7 97.8h0.8v0.8h-0.8zM413.1 108.4h0.8v0.8h-0.8zM436.9 95.2h0.8v0.8h-0.8zM419.4 108.5h0.8v0.8h-0.8zM434.0 110.5h0.8v0.8h-0.8zM411.7 105.4h0.8v0.8h-0.8zM432.6 106.9h0.8v0.8h-0.8zM421.3 96.2h0.8v0.8h-0.8zM425.2 104.6h0.8v0.8h-0.8zM423.9 116.4h0.8v0.8h-0.8zM435.5 99.1h0.8v0.8h-0.8zM425.9 102.8h0.8v0.8h-0.8zM424.6 117.4h0.8v0.8h-0.8zM432.8 105.4h0.8v0.8h-0.8zM417.0 103.9h0.8v0.8h-0.8zM427.2 101.3h0.8v0.8h-0.8zM434.6 105.3h0.8v0.8h-0.8zM411.7 120.5h0.8v0.8h-0.8zM422.4 112.5h0.8v0.8h-0.8zM434.8 116.1h0.8v0.8h-0.8zM439.2 107.5h0.8v0.8h-0.8zM424.7 112.8h0.8v0.8h-0.8zM423.3 95.6h0.8v0.8h-0.8zM419.0 110.1h0.8v0.8h-0.8zM429.7 96.8h0.8v0.8h-0.8zM435.6 107.4h0.8v0.8h-0.8zM408.5 108.6h0.8v0.8h-0.8zM433.7 109.1h0.8v0.8h-0.8zM420.5 99.1h0.8v0.8h-0.8zM434.8 106.8h0.8v0.8h-0.8zM423.5 102.1h0.8v0.8h-0.8zM413.2 91.0h0.8v0.8h-0.8zM420.1 113.4h0.8v0.8h-0.8zM431.3 100.0h0.8v0.8h-0.8zM438.9 103.4h0.8v0.8h-0.8zM413.5 112.5h0.8v0.8h-0.8zM437.5 102.2h0.8v0.8h-0.8zM411.3 104.6h0.8v0.8h-0.8zM438.9 107.2h0.8v0.8h-0.8zM416.2 110.4h0.8v0.8h-0.8zM418.6 114.6h0.8v0.8h-0.8zM420.0 120.5h0.8v0.8h-0.8zM420.1 106.5h0.8v0.8h-0.8zM414.2 95.5h0.8v0.8h-0.8zM427.1 107.7h0.8v0.8h-0.8zM413.8 109.3h0.8v0.8h-0.8zM419.5 100.9h0.8v0.8h-0.8zM422.9 108.1h0.8v0.8h-0.8zM430.9 114.4h0.8v0.8h-0.8zM427.4 99.6h0.8v0.8h-0.8zM416.7 107.9h0.8v0.8h-0.8zM411.6 103.8h0.8v0.8h-0.8zM419.7 104.4h0.8v0.8h-0.8zM425.4 112.9h0.8v0.8h-0.8zM440.0 111.8h0.8v0.8h-0.8zM433.7 97.0h0.8v0.8h-0.8zM434.0 114.9h0.8v0.8h-0.8zM410.0 124.1h0.8v0.8h-0.8zM417.9 87.2h0.8v0.8h-0.8zM441.3 105.6h0.8v0.8h-0.8zM415.6 100.8h0.8v0.8h-0.8zM434.3 107.0h0.8v0.8h-0.8zM419.8 113.8h0.8v0.8h-0.8zM414.2 98.7h0.8v0.8h-0.8zM418.0 99.5h0.8v0.8h-0.8zM430.5 103.4h0.8v0.8h-0.8zM413.0 101.6h0.8v0.8h-0.8zM424.6 109.7h0.8v0.8h-0.8zM421.2 108.1h0.8v0.8h-0.8zM414.2 105.3h0.8v0.8h-0.8zM425.2 96.0h0.8v0.8h-0.8zM429.5 106.2h0.8v0.8h-0.8zM424.1 101.5h0.8v0.8h-0.8zM415.9 98.7h0.8v0.8h-0.8zM429.5 103.5h0.8v0.8h-0.8zM415.7 99.7h0.8v0.8h-0.8zM432.9 105.7h0.8v0.8h-0.8zM434.2 105.0h0.8v0.8h-0.8zM411.7 111.6h0.8v0.8h-0.8zM426.8 100.2h0.8v0.8h-0.8zM420.5 97.8h0.8v0.8h-0.8zM431.9 102.0h0.8v0.8h-0.8zM428.4 107.1h0.8v0.8h-0.8zM421.0 107.9h0.8v0.8h-0.8zM421.1 96.2h0.8v0.8h-0.8zM419.4 96.2h0.8v0.8h-0.8zM431.2 110.0h0.8v0.8h-0.8zM417.7 109.8h0.8v0.8h-0.8zM426.1 112.4h0.8v0.8h-0.8zM414.2 105.3h0.8v0.8h-0.8zM413.7 100.0h0.8v0.8h-0.8zM437.3 90.0h0.8v0.8h-0.8zM414.4 108.8h0.8v0.8h-0.8zM431.4 99.2h0.8v0.8h-0.8zM427.3 113.4h0.8v0.8h-0.8zM432.7 99.6h0.8v0.8h-0.8zM437.1 103.7h0.8v0.8h-0.8zM429.7 103.7h0.8v0.8h-0.8zM439.5 101.2h0.8v0.8h-0.8zM425.5 107.2h0.8v0.8h-0.8zM416.4 103.4h0.8v0.8h-0.8zM412.2 103.3h0.8v0.8h-0.8zM424.5 106.9h0.8v0.8h-0.8z" fill="#000" fill-opacity="0.45"/>
<path d="M428.9 109.6h0.8v0.8h-0.8zM424.9 114.5h0.8v0.8h-0.8zM419.0 113.7h0.8v0.8h-0.8zM423.1 111.6h0.8v0.8h-0.8zM425.6 117.4h0.8v0.8h-0.8zM425.5 115.2h0.8v0.8h-0.8zM426.8 113.3h0.8v0.8h-0.8zM426.5 112.0h0.8v0.8h-0.8zM423.7 115.0h0.8v0.8h-0.8zM427.7 113.0h0.8v0.8h-0.8zM422.1 114.5h0.8v0.8h-0.8zM422.8 113.9h0.8v0.8h-0.8zM425.9 112.1h0.8v0.8h-0.8zM426.2 114.4h0.8v0.8h-0.8zM422.2 111.1h0.8v0.8h-0.8zM420.9 113.5h0.8v0.8h-0.8zM426.4 109.7h0.8v0.8h-0.8zM425.6 114.0h0.8v0.8h-0.8zM419.2 115.3h0.8v0.8h-0.8zM424.5 114.5h0.8v0.8h-0.8zM419.7 111.4h0.8v0.8h-0.8zM426.3 116.4h0.8v0.8h-0.8zM424.4 113.2h0.8v0.8h-0.8zM421.5 110.2h0.8v0.8h-0.8zM426.5 113.4h0.8v0.8h-0.8zM427.4 112.2h0.8v0.8h-0.8zM426.8 112.2h0.8v0.8h-0.8zM425.1 116.3h0.8v0.8h-0.8zM420.6 115.4h0.8v0.8h-0.8zM423.1 111.7h0.8v0.8h-0.8zM423.8 114.9h0.8v0.8h-0.8zM420.6 113.1h0.8v0.8h-0.8zM421.1 112.1h0.8v0.8h-0.8zM422.4 115.2h0.8v0.8h-0.8zM421.4 116.1h0.8v0.8h-0.8zM421.8 112.2h0.8v0.8h-0.8zM426.8 116.4h0.8v0.8h-0.8zM420.8 114.8h0.8v0.8h-0.8zM419.1 112.8h0.8v0.8h-0.8zM421.8 115.0h0.8v0.8h-0.8zM418.7 112.6h0.8v0.8h-0.8zM420.7 113.8h0.8v0.8h-0.8zM418.8 110.9h0.8v0.8h-0.8zM432.9 114.0h0.8v0.8h-0.8zM417.9 115.3h0.8v0.8h-0.8zM418.5 109.9h0.8v0.8h-0.8zM428.9 116.1h0.8v0.8h-0.8zM420.2 111.4h0.8v0.8h-0.8zM424.7 117.6h0.8v0.8h-0.8zM425.2 114.9h0.8v0.8h-0.8z" fill="#000" fill-opacity="0.25"/>
<path d="M476.6 115.5h1.2v1.2h-1.2zM446.8 102.4h1.2v1.2h-1.2zM462.2 109.2h1.2v1.2h-1.2zM469.1 109.1h1.2v1.2h-1.2zM505.5 102.7h1.2v1.2h-1.2zM453.1 89.8h1.2v1.2h-1.2zM501.4 104.6h1.2v1.2h-1.2zM475.0 90.4h1.2v1.2h-1.2zM452.3 89.4h1.2v1.2h-1.2zM505.4 90.9h1.2v1.2h-1.2zM467.0 104.8h1.2v1.2h-1.2zM483.8 96.6h1.2v1.2h-1.2zM488.7 110.2h1.2v1.2h-1.2zM511.4 92.4h1.2v1.2h-1.2z" fill="#000" fill-opacity="0.16"/>
<text x="242.30" y="195.30" font-size="14.4" text-anchor="start" >D</text>
<rect x="290.9" y="203.1" width="179.60000000000002" height="126.50000000000003" fill="none" stroke="#000" stroke-width="1.5"/>
<line x1="289.29999999999995" y1="329.60" x2="290.9" y2="329.60" stroke="#000" stroke-width="0.8"/>
<text x="285.30" y="332.20" font-size="7.7" text-anchor="end" >0</text>
<line x1="289.29999999999995" y1="308.52" x2="290.9" y2="308.52" stroke="#000" stroke-width="0.8"/>
<text x="285.30" y="311.12" font-size="7.7" text-anchor="end" >100</text>
<line x1="289.29999999999995" y1="287.43" x2="290.9" y2="287.43" stroke="#000" stroke-width="0.8"/>
<text x="285.30" y="290.03" font-size="7.7" text-anchor="end" >200</text>
<line x1="289.29999999999995" y1="266.35" x2="290.9" y2="266.35" stroke="#000" stroke-width="0.8"/>
<text x="285.30" y="268.95" font-size="7.7" text-anchor="end" >300</text>
<line x1="289.29999999999995" y1="245.27" x2="290.9" y2="245.27" stroke="#000" stroke-width="0.8"/>
<text x="285.30" y="247.87" font-size="7.7" text-anchor="end" >400</text>
<line x1="289.29999999999995" y1="224.18" x2="290.9" y2="224.18" stroke="#000" stroke-width="0.8"/>
<text x="285.30" y="226.78" font-size="7.7" text-anchor="end" >500</text>
<line x1="289.29999999999995" y1="203.10" x2="290.9" y2="203.10" stroke="#000" stroke-width="0.8"/>
<text x="285.30" y="205.70" font-size="7.7" text-anchor="end" >600</text>
<line x1="335.8" y1="329.6" x2="335.8" y2="331.20000000000005" stroke="#000" stroke-width="0.8"/>
<line x1="380.8" y1="329.6" x2="380.8" y2="331.20000000000005" stroke="#000" stroke-width="0.8"/>
<line x1="425.8" y1="329.6" x2="425.8" y2="331.20000000000005" stroke="#000" stroke-width="0.8"/>
<rect x="367.3" y="323.28" width="27.0" height="6.32" fill="#000"/>
<rect x="412.1" y="262.56" width="26.8" height="67.05" fill="#000"/>
<line x1="380.8" y1="323.28" x2="380.8" y2="318.85" stroke="#000" stroke-width="0.8"/>
<line x1="378.2" y1="318.85" x2="383.40000000000003" y2="318.85" stroke="#000" stroke-width="0.9"/>
<line x1="425.5" y1="262.56" x2="425.5" y2="217.86" stroke="#000" stroke-width="0.8"/>
<line x1="422.5" y1="217.86" x2="428.5" y2="217.86" stroke="#000" stroke-width="0.9"/>
<text transform="translate(266.0,266.1) rotate(-90)" font-size="8.9" text-anchor="middle">Number of spots/10<tspan dy="-3.2" font-size="5.4">6</tspan><tspan dy="3.2"> splenocytes</tspan></text>
<text transform="translate(340.2,340.0) rotate(-57.5)" font-size="8.8" text-anchor="end">B6 (no tumor)</text>
<text transform="translate(385.2,340.0) rotate(-57.5)" font-size="8.8" text-anchor="end">B6 + C1498</text>
<text transform="translate(430.2,340.0) rotate(-57.5)" font-size="8.8" text-anchor="end">PD-1ko + C1498</text>
</svg>
</body></html>
